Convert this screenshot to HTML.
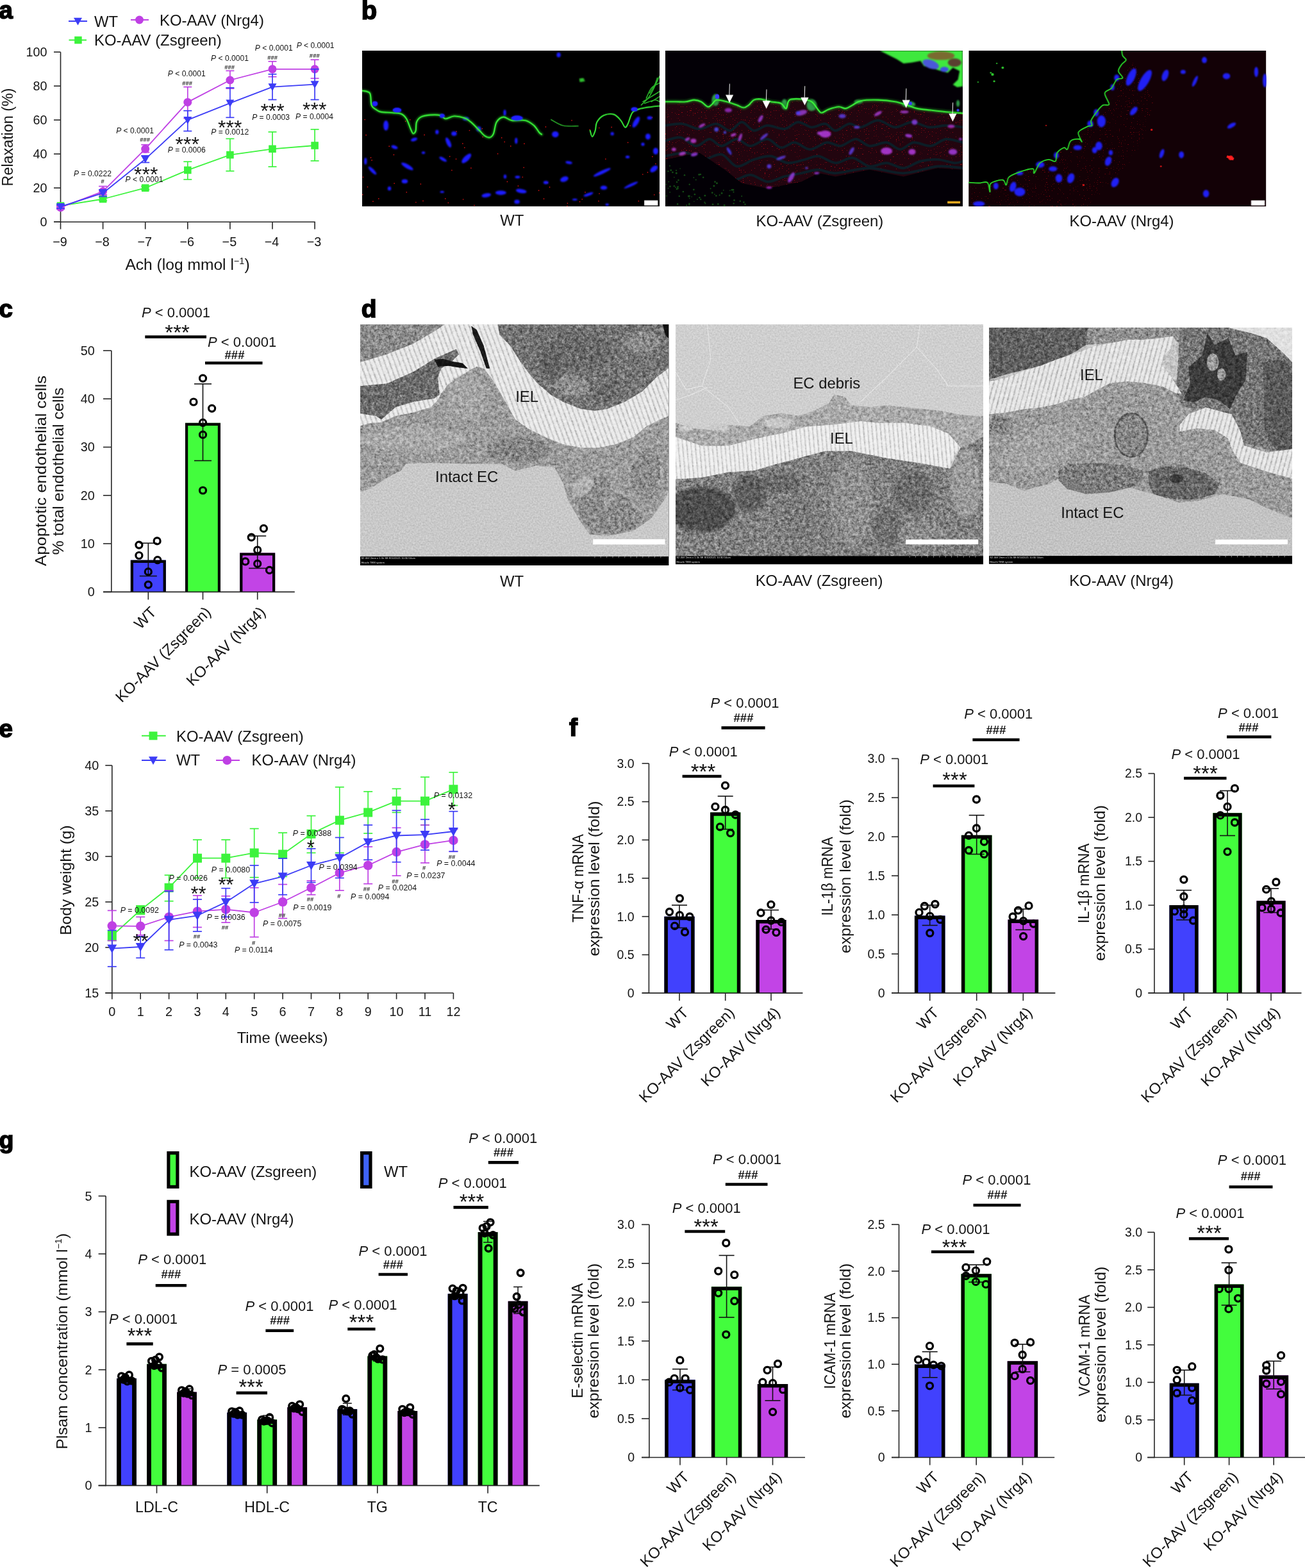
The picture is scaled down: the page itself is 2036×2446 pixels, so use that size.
<!DOCTYPE html>
<html><head><meta charset="utf-8"><title>Figure</title>
<style>
html,body{margin:0;padding:0;background:#fff;}
body{width:2036px;height:2446px;overflow:hidden;}
svg{display:block;}
text{font-family:"Liberation Sans",sans-serif;}
</style></head><body>
<svg width="2036" height="2446" viewBox="0 0 2036 2446">
<rect width="2036" height="2446" fill="#fff"/>
<text x="-1.5" y="29.4" font-size="38.5" font-weight="bold" fill="#000" stroke="#000" stroke-width="1.6">a</text>
<text x="563.8" y="29.5" font-size="40" font-weight="bold" fill="#000" stroke="#000" stroke-width="1.6">b</text>
<text x="-1.5" y="495" font-size="38.5" font-weight="bold" fill="#000" stroke="#000" stroke-width="1.6">c</text>
<text x="563.8" y="495" font-size="39" font-weight="bold" fill="#000" stroke="#000" stroke-width="1.6">d</text>
<text x="-1.5" y="1150" font-size="38.5" font-weight="bold" fill="#000" stroke="#000" stroke-width="1.6">e</text>
<text x="888" y="1148" font-size="39" font-weight="bold" fill="#000" stroke="#000" stroke-width="1.6">f</text>
<text x="-1.5" y="1791" font-size="37.5" font-weight="bold" fill="#000" stroke="#000" stroke-width="1.6">g</text>
<line x1="94.5" y1="81.2" x2="94.5" y2="347.1" stroke="#262626" stroke-width="1.6"/>
<line x1="84.0" y1="346.2" x2="491.8" y2="346.2" stroke="#262626" stroke-width="1.6"/>
<line x1="84.0" y1="346.2" x2="94.5" y2="346.2" stroke="#262626" stroke-width="1.6"/>
<text x="73.5" y="353.2" font-size="19.8" fill="#141414" text-anchor="end">0</text>
<line x1="84.0" y1="293.2" x2="94.5" y2="293.2" stroke="#262626" stroke-width="1.6"/>
<text x="73.5" y="300.2" font-size="19.8" fill="#141414" text-anchor="end">20</text>
<line x1="84.0" y1="240.2" x2="94.5" y2="240.2" stroke="#262626" stroke-width="1.6"/>
<text x="73.5" y="247.2" font-size="19.8" fill="#141414" text-anchor="end">40</text>
<line x1="84.0" y1="187.2" x2="94.5" y2="187.2" stroke="#262626" stroke-width="1.6"/>
<text x="73.5" y="194.2" font-size="19.8" fill="#141414" text-anchor="end">60</text>
<line x1="84.0" y1="134.2" x2="94.5" y2="134.2" stroke="#262626" stroke-width="1.6"/>
<text x="73.5" y="141.2" font-size="19.8" fill="#141414" text-anchor="end">80</text>
<line x1="84.0" y1="81.2" x2="94.5" y2="81.2" stroke="#262626" stroke-width="1.6"/>
<text x="73.5" y="88.2" font-size="19.8" fill="#141414" text-anchor="end">100</text>
<line x1="94.5" y1="346.2" x2="94.5" y2="357.5" stroke="#262626" stroke-width="1.6"/>
<text x="93.5" y="383.8" font-size="19.8" fill="#141414" text-anchor="middle">−9</text>
<line x1="160.6" y1="346.2" x2="160.6" y2="357.5" stroke="#262626" stroke-width="1.6"/>
<text x="159.6" y="383.8" font-size="19.8" fill="#141414" text-anchor="middle">−8</text>
<line x1="226.7" y1="346.2" x2="226.7" y2="357.5" stroke="#262626" stroke-width="1.6"/>
<text x="225.7" y="383.8" font-size="19.8" fill="#141414" text-anchor="middle">−7</text>
<line x1="292.8" y1="346.2" x2="292.8" y2="357.5" stroke="#262626" stroke-width="1.6"/>
<text x="291.8" y="383.8" font-size="19.8" fill="#141414" text-anchor="middle">−6</text>
<line x1="358.9" y1="346.2" x2="358.9" y2="357.5" stroke="#262626" stroke-width="1.6"/>
<text x="357.9" y="383.8" font-size="19.8" fill="#141414" text-anchor="middle">−5</text>
<line x1="425.0" y1="346.2" x2="425.0" y2="357.5" stroke="#262626" stroke-width="1.6"/>
<text x="424.0" y="383.8" font-size="19.8" fill="#141414" text-anchor="middle">−4</text>
<line x1="491.1" y1="346.2" x2="491.1" y2="357.5" stroke="#262626" stroke-width="1.6"/>
<text x="490.1" y="383.8" font-size="19.8" fill="#141414" text-anchor="middle">−3</text>
<text x="292.5" y="421.0" font-size="24.6" fill="#141414" text-anchor="middle">Ach (log mmol l<tspan font-size="14.5" dy="-9.5">−1</tspan><tspan dy="9.5">)</tspan></text>
<text x="19.5" y="214.0" font-size="23.3" fill="#141414" text-anchor="middle" transform="rotate(-90 19.5 214.0)">Relaxation (%)</text>
<polyline points="94.5,321.1 160.6,310.5 226.7,293.2 292.8,265.4 358.9,241.6 425.0,232.3 491.1,227.0" fill="none" stroke="#3cf33c" stroke-width="1.8" stroke-linejoin="round"/>
<line x1="94.5" y1="323.7" x2="94.5" y2="318.4" stroke="#3cf33c" stroke-width="1.7"/>
<line x1="88.0" y1="323.7" x2="101.0" y2="323.7" stroke="#3cf33c" stroke-width="1.7"/>
<line x1="88.0" y1="318.4" x2="101.0" y2="318.4" stroke="#3cf33c" stroke-width="1.7"/>
<line x1="160.6" y1="313.1" x2="160.6" y2="307.8" stroke="#3cf33c" stroke-width="1.7"/>
<line x1="154.1" y1="313.1" x2="167.1" y2="313.1" stroke="#3cf33c" stroke-width="1.7"/>
<line x1="154.1" y1="307.8" x2="167.1" y2="307.8" stroke="#3cf33c" stroke-width="1.7"/>
<line x1="226.7" y1="295.9" x2="226.7" y2="290.6" stroke="#3cf33c" stroke-width="1.7"/>
<line x1="220.2" y1="295.9" x2="233.2" y2="295.9" stroke="#3cf33c" stroke-width="1.7"/>
<line x1="220.2" y1="290.6" x2="233.2" y2="290.6" stroke="#3cf33c" stroke-width="1.7"/>
<line x1="292.8" y1="280.0" x2="292.8" y2="252.2" stroke="#3cf33c" stroke-width="1.7"/>
<line x1="286.3" y1="280.0" x2="299.3" y2="280.0" stroke="#3cf33c" stroke-width="1.7"/>
<line x1="286.3" y1="252.2" x2="299.3" y2="252.2" stroke="#3cf33c" stroke-width="1.7"/>
<line x1="358.9" y1="266.8" x2="358.9" y2="216.4" stroke="#3cf33c" stroke-width="1.7"/>
<line x1="352.4" y1="266.8" x2="365.4" y2="266.8" stroke="#3cf33c" stroke-width="1.7"/>
<line x1="352.4" y1="216.4" x2="365.4" y2="216.4" stroke="#3cf33c" stroke-width="1.7"/>
<line x1="425.0" y1="260.1" x2="425.0" y2="205.8" stroke="#3cf33c" stroke-width="1.7"/>
<line x1="418.5" y1="260.1" x2="431.5" y2="260.1" stroke="#3cf33c" stroke-width="1.7"/>
<line x1="418.5" y1="205.8" x2="431.5" y2="205.8" stroke="#3cf33c" stroke-width="1.7"/>
<line x1="491.1" y1="250.9" x2="491.1" y2="201.8" stroke="#3cf33c" stroke-width="1.7"/>
<line x1="484.6" y1="250.9" x2="497.6" y2="250.9" stroke="#3cf33c" stroke-width="1.7"/>
<line x1="484.6" y1="201.8" x2="497.6" y2="201.8" stroke="#3cf33c" stroke-width="1.7"/>
<rect x="88.7" y="315.3" width="11.6" height="11.6" fill="#3cf33c"/>
<rect x="154.8" y="304.7" width="11.6" height="11.6" fill="#3cf33c"/>
<rect x="220.9" y="287.4" width="11.6" height="11.6" fill="#3cf33c"/>
<rect x="287.0" y="259.6" width="11.6" height="11.6" fill="#3cf33c"/>
<rect x="353.1" y="235.8" width="11.6" height="11.6" fill="#3cf33c"/>
<rect x="419.2" y="226.5" width="11.6" height="11.6" fill="#3cf33c"/>
<rect x="485.3" y="221.2" width="11.6" height="11.6" fill="#3cf33c"/>
<polyline points="94.5,323.7 160.6,298.6 226.7,232.3 292.8,159.4 358.9,125.0 425.0,107.8 491.1,107.8" fill="none" stroke="#bf40e4" stroke-width="1.8" stroke-linejoin="round"/>
<line x1="94.5" y1="326.4" x2="94.5" y2="321.1" stroke="#bf40e4" stroke-width="1.7"/>
<line x1="88.0" y1="326.4" x2="101.0" y2="326.4" stroke="#bf40e4" stroke-width="1.7"/>
<line x1="88.0" y1="321.1" x2="101.0" y2="321.1" stroke="#bf40e4" stroke-width="1.7"/>
<line x1="160.6" y1="303.9" x2="160.6" y2="290.6" stroke="#bf40e4" stroke-width="1.7"/>
<line x1="154.1" y1="303.9" x2="167.1" y2="303.9" stroke="#bf40e4" stroke-width="1.7"/>
<line x1="154.1" y1="290.6" x2="167.1" y2="290.6" stroke="#bf40e4" stroke-width="1.7"/>
<line x1="226.7" y1="237.6" x2="226.7" y2="225.7" stroke="#bf40e4" stroke-width="1.7"/>
<line x1="220.2" y1="237.6" x2="233.2" y2="237.6" stroke="#bf40e4" stroke-width="1.7"/>
<line x1="220.2" y1="225.7" x2="233.2" y2="225.7" stroke="#bf40e4" stroke-width="1.7"/>
<line x1="292.8" y1="184.6" x2="292.8" y2="135.6" stroke="#bf40e4" stroke-width="1.7"/>
<line x1="286.3" y1="184.6" x2="299.3" y2="184.6" stroke="#bf40e4" stroke-width="1.7"/>
<line x1="286.3" y1="135.6" x2="299.3" y2="135.6" stroke="#bf40e4" stroke-width="1.7"/>
<line x1="358.9" y1="138.2" x2="358.9" y2="110.4" stroke="#bf40e4" stroke-width="1.7"/>
<line x1="352.4" y1="138.2" x2="365.4" y2="138.2" stroke="#bf40e4" stroke-width="1.7"/>
<line x1="352.4" y1="110.4" x2="365.4" y2="110.4" stroke="#bf40e4" stroke-width="1.7"/>
<line x1="425.0" y1="119.7" x2="425.0" y2="95.8" stroke="#bf40e4" stroke-width="1.7"/>
<line x1="418.5" y1="119.7" x2="431.5" y2="119.7" stroke="#bf40e4" stroke-width="1.7"/>
<line x1="418.5" y1="95.8" x2="431.5" y2="95.8" stroke="#bf40e4" stroke-width="1.7"/>
<line x1="491.1" y1="122.3" x2="491.1" y2="93.2" stroke="#bf40e4" stroke-width="1.7"/>
<line x1="484.6" y1="122.3" x2="497.6" y2="122.3" stroke="#bf40e4" stroke-width="1.7"/>
<line x1="484.6" y1="93.2" x2="497.6" y2="93.2" stroke="#bf40e4" stroke-width="1.7"/>
<circle cx="94.5" cy="323.7" r="6.5" fill="#bf40e4"/>
<circle cx="160.6" cy="298.6" r="6.5" fill="#bf40e4"/>
<circle cx="226.7" cy="232.3" r="6.5" fill="#bf40e4"/>
<circle cx="292.8" cy="159.4" r="6.5" fill="#bf40e4"/>
<circle cx="358.9" cy="125.0" r="6.5" fill="#bf40e4"/>
<circle cx="425.0" cy="107.8" r="6.5" fill="#bf40e4"/>
<circle cx="491.1" cy="107.8" r="6.5" fill="#bf40e4"/>
<polyline points="94.5,322.4 160.6,301.2 226.7,248.2 292.8,187.2 358.9,160.8 425.0,135.6 491.1,131.6" fill="none" stroke="#3c3cf6" stroke-width="1.8" stroke-linejoin="round"/>
<line x1="94.5" y1="325.1" x2="94.5" y2="319.8" stroke="#3c3cf6" stroke-width="1.7"/>
<line x1="88.0" y1="325.1" x2="101.0" y2="325.1" stroke="#3c3cf6" stroke-width="1.7"/>
<line x1="88.0" y1="319.8" x2="101.0" y2="319.8" stroke="#3c3cf6" stroke-width="1.7"/>
<line x1="160.6" y1="306.5" x2="160.6" y2="295.9" stroke="#3c3cf6" stroke-width="1.7"/>
<line x1="154.1" y1="306.5" x2="167.1" y2="306.5" stroke="#3c3cf6" stroke-width="1.7"/>
<line x1="154.1" y1="295.9" x2="167.1" y2="295.9" stroke="#3c3cf6" stroke-width="1.7"/>
<line x1="226.7" y1="253.5" x2="226.7" y2="242.9" stroke="#3c3cf6" stroke-width="1.7"/>
<line x1="220.2" y1="253.5" x2="233.2" y2="253.5" stroke="#3c3cf6" stroke-width="1.7"/>
<line x1="220.2" y1="242.9" x2="233.2" y2="242.9" stroke="#3c3cf6" stroke-width="1.7"/>
<line x1="292.8" y1="204.5" x2="292.8" y2="172.7" stroke="#3c3cf6" stroke-width="1.7"/>
<line x1="286.3" y1="204.5" x2="299.3" y2="204.5" stroke="#3c3cf6" stroke-width="1.7"/>
<line x1="286.3" y1="172.7" x2="299.3" y2="172.7" stroke="#3c3cf6" stroke-width="1.7"/>
<line x1="358.9" y1="183.3" x2="358.9" y2="136.9" stroke="#3c3cf6" stroke-width="1.7"/>
<line x1="352.4" y1="183.3" x2="365.4" y2="183.3" stroke="#3c3cf6" stroke-width="1.7"/>
<line x1="352.4" y1="136.9" x2="365.4" y2="136.9" stroke="#3c3cf6" stroke-width="1.7"/>
<line x1="425.0" y1="155.5" x2="425.0" y2="115.7" stroke="#3c3cf6" stroke-width="1.7"/>
<line x1="418.5" y1="155.5" x2="431.5" y2="155.5" stroke="#3c3cf6" stroke-width="1.7"/>
<line x1="418.5" y1="115.7" x2="431.5" y2="115.7" stroke="#3c3cf6" stroke-width="1.7"/>
<line x1="491.1" y1="155.5" x2="491.1" y2="107.8" stroke="#3c3cf6" stroke-width="1.7"/>
<line x1="484.6" y1="155.5" x2="497.6" y2="155.5" stroke="#3c3cf6" stroke-width="1.7"/>
<line x1="484.6" y1="107.8" x2="497.6" y2="107.8" stroke="#3c3cf6" stroke-width="1.7"/>
<path d="M88.0,317.1 L101.0,317.1 L94.5,328.8 Z" fill="#3c3cf6"/>
<path d="M154.1,295.9 L167.1,295.9 L160.6,307.6 Z" fill="#3c3cf6"/>
<path d="M220.2,242.9 L233.2,242.9 L226.7,254.6 Z" fill="#3c3cf6"/>
<path d="M286.3,182.0 L299.3,182.0 L292.8,193.7 Z" fill="#3c3cf6"/>
<path d="M352.4,155.5 L365.4,155.5 L358.9,167.2 Z" fill="#3c3cf6"/>
<path d="M418.5,130.3 L431.5,130.3 L425.0,142.0 Z" fill="#3c3cf6"/>
<path d="M484.6,126.3 L497.6,126.3 L491.1,138.0 Z" fill="#3c3cf6"/>
<line x1="107.0" y1="33.0" x2="136.0" y2="33.0" stroke="#3c3cf6" stroke-width="2"/>
<path d="M115.0,27.7 L128.0,27.7 L121.5,39.4 Z" fill="#3c3cf6"/>
<text x="147.0" y="42.0" font-size="23.9" fill="#141414">WT</text>
<line x1="204.0" y1="31.0" x2="232.0" y2="31.0" stroke="#bf40e4" stroke-width="2"/>
<circle cx="217.5" cy="31.0" r="6.5" fill="#bf40e4"/>
<text x="249.0" y="40.0" font-size="23.9" fill="#141414">KO-AAV (Nrg4)</text>
<line x1="107.5" y1="62.5" x2="135.0" y2="62.5" stroke="#3cf33c" stroke-width="2"/>
<rect x="116.2" y="56.8" width="11.5" height="11.5" fill="#3cf33c"/>
<text x="147.0" y="71.0" font-size="23.9" fill="#141414">KO-AAV (Zsgreen)</text>
<text x="144.5" y="274.9" font-size="12.1" fill="#141414" text-anchor="middle"><tspan font-style="italic">P</tspan> = 0.0222</text>
<text x="160.2" y="286.3" font-size="9.5" fill="#141414" text-anchor="middle" font-weight="bold">#</text>
<text x="210.6" y="207.6" font-size="12.1" fill="#141414" text-anchor="middle"><tspan font-style="italic">P</tspan> &lt; 0.0001</text>
<text x="226.2" y="220.8" font-size="9.5" fill="#141414" text-anchor="middle" font-weight="bold">###</text>
<text x="227.8" y="282.6" font-size="32" fill="#141414" text-anchor="middle">***</text>
<text x="225.0" y="284.2" font-size="12.1" fill="#141414" text-anchor="middle"><tspan font-style="italic">P</tspan> &lt; 0.0001</text>
<text x="291.2" y="119.2" font-size="12.1" fill="#141414" text-anchor="middle"><tspan font-style="italic">P</tspan> &lt; 0.0001</text>
<text x="292.2" y="132.8" font-size="9.5" fill="#141414" text-anchor="middle" font-weight="bold">###</text>
<text x="292.2" y="236.1" font-size="32" fill="#141414" text-anchor="middle">***</text>
<text x="291.2" y="237.7" font-size="12.1" fill="#141414" text-anchor="middle"><tspan font-style="italic">P</tspan> = 0.0006</text>
<text x="358.5" y="95.1" font-size="12.1" fill="#141414" text-anchor="middle"><tspan font-style="italic">P</tspan> &lt; 0.0001</text>
<text x="358.2" y="108.3" font-size="9.5" fill="#141414" text-anchor="middle" font-weight="bold">###</text>
<text x="358.8" y="209.8" font-size="32" fill="#141414" text-anchor="middle">***</text>
<text x="358.8" y="209.8" font-size="12.1" fill="#141414" text-anchor="middle"><tspan font-style="italic">P</tspan> = 0.0012</text>
<text x="427.3" y="79.1" font-size="12.1" fill="#141414" text-anchor="middle"><tspan font-style="italic">P</tspan> &lt; 0.0001</text>
<text x="425.1" y="92.8" font-size="9.5" fill="#141414" text-anchor="middle" font-weight="bold">###</text>
<text x="425.1" y="183.8" font-size="32" fill="#141414" text-anchor="middle">***</text>
<text x="422.6" y="187.4" font-size="12.1" fill="#141414" text-anchor="middle"><tspan font-style="italic">P</tspan> = 0.0003</text>
<text x="492.1" y="75.3" font-size="12.1" fill="#141414" text-anchor="middle"><tspan font-style="italic">P</tspan> &lt; 0.0001</text>
<text x="490.8" y="89.6" font-size="9.5" fill="#141414" text-anchor="middle" font-weight="bold">###</text>
<text x="490.8" y="181.6" font-size="32" fill="#141414" text-anchor="middle">***</text>
<text x="490.5" y="185.8" font-size="12.1" fill="#141414" text-anchor="middle"><tspan font-style="italic">P</tspan> = 0.0004</text>
<rect x="203.8" y="873.7" width="55.0" height="49.7" fill="#4141fd"/>
<path d="M205.90,923.4 V875.80 H256.70 V923.4" fill="none" stroke="#000" stroke-width="4.2"/>
<rect x="289.0" y="659.8" width="55.0" height="263.6" fill="#43fd3d"/>
<path d="M291.10,923.4 V661.95 H341.90 V923.4" fill="none" stroke="#000" stroke-width="4.2"/>
<rect x="374.2" y="862.4" width="55.0" height="61.0" fill="#c244e6"/>
<path d="M376.30,923.4 V864.51 H427.10 V923.4" fill="none" stroke="#000" stroke-width="4.2"/>
<line x1="173.8" y1="546.9" x2="173.8" y2="924.1" stroke="#262626" stroke-width="1.6"/>
<line x1="161.0" y1="923.4" x2="459.8" y2="923.4" stroke="#262626" stroke-width="1.6"/>
<line x1="161.0" y1="923.4" x2="173.8" y2="923.4" stroke="#262626" stroke-width="1.6"/>
<text x="147.7" y="930.3" font-size="19.8" fill="#141414" text-anchor="end">0</text>
<line x1="161.0" y1="848.1" x2="173.8" y2="848.1" stroke="#262626" stroke-width="1.6"/>
<text x="147.7" y="855.0" font-size="19.8" fill="#141414" text-anchor="end">10</text>
<line x1="161.0" y1="772.8" x2="173.8" y2="772.8" stroke="#262626" stroke-width="1.6"/>
<text x="147.7" y="779.7" font-size="19.8" fill="#141414" text-anchor="end">20</text>
<line x1="161.0" y1="697.5" x2="173.8" y2="697.5" stroke="#262626" stroke-width="1.6"/>
<text x="147.7" y="704.4" font-size="19.8" fill="#141414" text-anchor="end">30</text>
<line x1="161.0" y1="622.2" x2="173.8" y2="622.2" stroke="#262626" stroke-width="1.6"/>
<text x="147.7" y="629.1" font-size="19.8" fill="#141414" text-anchor="end">40</text>
<line x1="161.0" y1="546.9" x2="173.8" y2="546.9" stroke="#262626" stroke-width="1.6"/>
<text x="147.7" y="553.8" font-size="19.8" fill="#141414" text-anchor="end">50</text>
<line x1="231.3" y1="923.4" x2="231.3" y2="935.4" stroke="#262626" stroke-width="1.6"/>
<line x1="316.5" y1="923.4" x2="316.5" y2="935.4" stroke="#262626" stroke-width="1.6"/>
<line x1="401.7" y1="923.4" x2="401.7" y2="935.4" stroke="#262626" stroke-width="1.6"/>
<line x1="231.3" y1="898.6" x2="231.3" y2="847.3" stroke="#111" stroke-width="1.6"/>
<line x1="217.8" y1="847.3" x2="244.8" y2="847.3" stroke="#111" stroke-width="1.6"/>
<line x1="217.8" y1="898.6" x2="244.8" y2="898.6" stroke="#111" stroke-width="1.6"/>
<circle cx="216.9" cy="850.1" r="5.0" fill="none" stroke="#000" stroke-width="3.2"/>
<circle cx="245.1" cy="843.9" r="5.0" fill="none" stroke="#000" stroke-width="3.2"/>
<circle cx="216.9" cy="866.5" r="5.0" fill="none" stroke="#000" stroke-width="3.2"/>
<circle cx="245.8" cy="873.7" r="5.0" fill="none" stroke="#000" stroke-width="3.2"/>
<circle cx="231.3" cy="891.9" r="5.0" fill="none" stroke="#000" stroke-width="3.2"/>
<circle cx="231.3" cy="912.1" r="5.0" fill="none" stroke="#000" stroke-width="3.2"/>
<line x1="316.5" y1="718.6" x2="316.5" y2="598.9" stroke="#111" stroke-width="1.6"/>
<line x1="303.0" y1="598.9" x2="330.0" y2="598.9" stroke="#111" stroke-width="1.6"/>
<line x1="303.0" y1="718.6" x2="330.0" y2="718.6" stroke="#111" stroke-width="1.6"/>
<circle cx="316.5" cy="590.2" r="5.0" fill="none" stroke="#000" stroke-width="3.2"/>
<circle cx="302.0" cy="627.0" r="5.0" fill="none" stroke="#000" stroke-width="3.2"/>
<circle cx="330.6" cy="637.1" r="5.0" fill="none" stroke="#000" stroke-width="3.2"/>
<circle cx="316.5" cy="659.4" r="5.0" fill="none" stroke="#000" stroke-width="3.2"/>
<circle cx="316.5" cy="678.2" r="5.0" fill="none" stroke="#000" stroke-width="3.2"/>
<circle cx="316.5" cy="765.0" r="5.0" fill="none" stroke="#000" stroke-width="3.2"/>
<line x1="401.7" y1="886.5" x2="401.7" y2="836.1" stroke="#111" stroke-width="1.6"/>
<line x1="388.2" y1="836.1" x2="415.2" y2="836.1" stroke="#111" stroke-width="1.6"/>
<line x1="388.2" y1="886.5" x2="415.2" y2="886.5" stroke="#111" stroke-width="1.6"/>
<circle cx="411.4" cy="824.4" r="5.0" fill="none" stroke="#000" stroke-width="3.2"/>
<circle cx="392.2" cy="838.2" r="5.0" fill="none" stroke="#000" stroke-width="3.2"/>
<circle cx="401.7" cy="858.0" r="5.0" fill="none" stroke="#000" stroke-width="3.2"/>
<circle cx="382.8" cy="875.9" r="5.0" fill="none" stroke="#000" stroke-width="3.2"/>
<circle cx="401.7" cy="879.4" r="5.0" fill="none" stroke="#000" stroke-width="3.2"/>
<circle cx="420.5" cy="889.4" r="5.0" fill="none" stroke="#000" stroke-width="3.2"/>
<text x="245.3" y="956.4" font-size="23.9" fill="#141414" text-anchor="end" transform="rotate(-45 245.3 956.4)">WT</text>
<text x="330.5" y="956.4" font-size="23.9" fill="#141414" text-anchor="end" transform="rotate(-45 330.5 956.4)">KO-AAV (Zsgreen)</text>
<text x="415.7" y="956.4" font-size="23.9" fill="#141414" text-anchor="end" transform="rotate(-45 415.7 956.4)">KO-AAV (Nrg4)</text>
<line x1="226.3" y1="525.5" x2="322.0" y2="525.5" stroke="#000" stroke-width="4.6"/>
<text x="276.6" y="530.2" font-size="33" fill="#141414" text-anchor="middle">***</text>
<text x="274.5" y="495.0" font-size="22" fill="#141414" text-anchor="middle"><tspan font-style="italic">P</tspan> &lt; 0.0001</text>
<line x1="320.0" y1="566.3" x2="409.5" y2="566.3" stroke="#000" stroke-width="4.6"/>
<text x="366.0" y="560.2" font-size="18.5" fill="#141414" text-anchor="middle" font-weight="bold">###</text>
<text x="377.6" y="541.2" font-size="22" fill="#141414" text-anchor="middle"><tspan font-style="italic">P</tspan> &lt; 0.0001</text>
<text x="72.0" y="734.5" font-size="23.9" fill="#141414" text-anchor="middle" textLength="297" lengthAdjust="spacingAndGlyphs" transform="rotate(-90 72.0 734.5)">Apoptotic endothelial cells</text>
<text x="99.0" y="735.0" font-size="23.9" fill="#141414" text-anchor="middle" textLength="261" lengthAdjust="spacingAndGlyphs" transform="rotate(-90 99.0 735.0)">% total endothelial cells</text>
<line x1="174.8" y1="1194.0" x2="174.8" y2="1549.8" stroke="#262626" stroke-width="1.6"/>
<line x1="164.3" y1="1549.0" x2="707.4" y2="1549.0" stroke="#262626" stroke-width="1.6"/>
<line x1="164.3" y1="1549.0" x2="174.8" y2="1549.0" stroke="#262626" stroke-width="1.6"/>
<text x="154.3" y="1556.0" font-size="19.8" fill="#141414" text-anchor="end">15</text>
<line x1="164.3" y1="1478.0" x2="174.8" y2="1478.0" stroke="#262626" stroke-width="1.6"/>
<text x="154.3" y="1485.0" font-size="19.8" fill="#141414" text-anchor="end">20</text>
<line x1="164.3" y1="1407.0" x2="174.8" y2="1407.0" stroke="#262626" stroke-width="1.6"/>
<text x="154.3" y="1414.0" font-size="19.8" fill="#141414" text-anchor="end">25</text>
<line x1="164.3" y1="1336.0" x2="174.8" y2="1336.0" stroke="#262626" stroke-width="1.6"/>
<text x="154.3" y="1343.0" font-size="19.8" fill="#141414" text-anchor="end">30</text>
<line x1="164.3" y1="1265.0" x2="174.8" y2="1265.0" stroke="#262626" stroke-width="1.6"/>
<text x="154.3" y="1272.0" font-size="19.8" fill="#141414" text-anchor="end">35</text>
<line x1="164.3" y1="1194.0" x2="174.8" y2="1194.0" stroke="#262626" stroke-width="1.6"/>
<text x="154.3" y="1201.0" font-size="19.8" fill="#141414" text-anchor="end">40</text>
<line x1="174.8" y1="1549.0" x2="174.8" y2="1558.7" stroke="#262626" stroke-width="1.6"/>
<text x="174.8" y="1584.8" font-size="19.8" fill="#141414" text-anchor="middle">0</text>
<line x1="219.2" y1="1549.0" x2="219.2" y2="1558.7" stroke="#262626" stroke-width="1.6"/>
<text x="219.2" y="1584.8" font-size="19.8" fill="#141414" text-anchor="middle">1</text>
<line x1="263.6" y1="1549.0" x2="263.6" y2="1558.7" stroke="#262626" stroke-width="1.6"/>
<text x="263.6" y="1584.8" font-size="19.8" fill="#141414" text-anchor="middle">2</text>
<line x1="307.9" y1="1549.0" x2="307.9" y2="1558.7" stroke="#262626" stroke-width="1.6"/>
<text x="307.9" y="1584.8" font-size="19.8" fill="#141414" text-anchor="middle">3</text>
<line x1="352.3" y1="1549.0" x2="352.3" y2="1558.7" stroke="#262626" stroke-width="1.6"/>
<text x="352.3" y="1584.8" font-size="19.8" fill="#141414" text-anchor="middle">4</text>
<line x1="396.7" y1="1549.0" x2="396.7" y2="1558.7" stroke="#262626" stroke-width="1.6"/>
<text x="396.7" y="1584.8" font-size="19.8" fill="#141414" text-anchor="middle">5</text>
<line x1="441.1" y1="1549.0" x2="441.1" y2="1558.7" stroke="#262626" stroke-width="1.6"/>
<text x="441.1" y="1584.8" font-size="19.8" fill="#141414" text-anchor="middle">6</text>
<line x1="485.5" y1="1549.0" x2="485.5" y2="1558.7" stroke="#262626" stroke-width="1.6"/>
<text x="485.5" y="1584.8" font-size="19.8" fill="#141414" text-anchor="middle">7</text>
<line x1="529.8" y1="1549.0" x2="529.8" y2="1558.7" stroke="#262626" stroke-width="1.6"/>
<text x="529.8" y="1584.8" font-size="19.8" fill="#141414" text-anchor="middle">8</text>
<line x1="574.2" y1="1549.0" x2="574.2" y2="1558.7" stroke="#262626" stroke-width="1.6"/>
<text x="574.2" y="1584.8" font-size="19.8" fill="#141414" text-anchor="middle">9</text>
<line x1="618.6" y1="1549.0" x2="618.6" y2="1558.7" stroke="#262626" stroke-width="1.6"/>
<text x="618.6" y="1584.8" font-size="19.8" fill="#141414" text-anchor="middle">10</text>
<line x1="663.0" y1="1549.0" x2="663.0" y2="1558.7" stroke="#262626" stroke-width="1.6"/>
<text x="663.0" y="1584.8" font-size="19.8" fill="#141414" text-anchor="middle">11</text>
<line x1="707.4" y1="1549.0" x2="707.4" y2="1558.7" stroke="#262626" stroke-width="1.6"/>
<text x="707.4" y="1584.8" font-size="19.8" fill="#141414" text-anchor="middle">12</text>
<text x="440.6" y="1627.4" font-size="23.8" fill="#141414" text-anchor="middle">Time (weeks)</text>
<text x="110.5" y="1373.0" font-size="23.8" fill="#141414" text-anchor="middle" textLength="171.7" lengthAdjust="spacingAndGlyphs" transform="rotate(-90 110.5 1373.0)">Body weight (g)</text>
<polyline points="174.8,1460.0 219.2,1419.6 263.6,1384.8 307.9,1338.7 352.3,1338.7 396.7,1330.4 441.1,1332.6 485.5,1300.9 529.8,1279.6 574.2,1267.4 618.6,1249.6 663.0,1249.6 707.4,1231.3" fill="none" stroke="#3cf33c" stroke-width="1.8" stroke-linejoin="round"/>
<line x1="174.8" y1="1452.2" x2="174.8" y2="1467.4" stroke="#3cf33c" stroke-width="1.7"/>
<line x1="167.8" y1="1452.2" x2="181.8" y2="1452.2" stroke="#3cf33c" stroke-width="1.7"/>
<line x1="167.8" y1="1467.4" x2="181.8" y2="1467.4" stroke="#3cf33c" stroke-width="1.7"/>
<line x1="219.2" y1="1413.0" x2="219.2" y2="1426.1" stroke="#3cf33c" stroke-width="1.7"/>
<line x1="212.2" y1="1413.0" x2="226.2" y2="1413.0" stroke="#3cf33c" stroke-width="1.7"/>
<line x1="212.2" y1="1426.1" x2="226.2" y2="1426.1" stroke="#3cf33c" stroke-width="1.7"/>
<line x1="263.6" y1="1365.2" x2="263.6" y2="1405.7" stroke="#3cf33c" stroke-width="1.7"/>
<line x1="256.6" y1="1365.2" x2="270.6" y2="1365.2" stroke="#3cf33c" stroke-width="1.7"/>
<line x1="256.6" y1="1405.7" x2="270.6" y2="1405.7" stroke="#3cf33c" stroke-width="1.7"/>
<line x1="307.9" y1="1310.0" x2="307.9" y2="1369.6" stroke="#3cf33c" stroke-width="1.7"/>
<line x1="300.9" y1="1310.0" x2="314.9" y2="1310.0" stroke="#3cf33c" stroke-width="1.7"/>
<line x1="300.9" y1="1369.6" x2="314.9" y2="1369.6" stroke="#3cf33c" stroke-width="1.7"/>
<line x1="352.3" y1="1310.0" x2="352.3" y2="1369.6" stroke="#3cf33c" stroke-width="1.7"/>
<line x1="345.3" y1="1310.0" x2="359.3" y2="1310.0" stroke="#3cf33c" stroke-width="1.7"/>
<line x1="345.3" y1="1369.6" x2="359.3" y2="1369.6" stroke="#3cf33c" stroke-width="1.7"/>
<line x1="396.7" y1="1292.6" x2="396.7" y2="1368.7" stroke="#3cf33c" stroke-width="1.7"/>
<line x1="389.7" y1="1292.6" x2="403.7" y2="1292.6" stroke="#3cf33c" stroke-width="1.7"/>
<line x1="389.7" y1="1368.7" x2="403.7" y2="1368.7" stroke="#3cf33c" stroke-width="1.7"/>
<line x1="441.1" y1="1299.1" x2="441.1" y2="1367.4" stroke="#3cf33c" stroke-width="1.7"/>
<line x1="434.1" y1="1299.1" x2="448.1" y2="1299.1" stroke="#3cf33c" stroke-width="1.7"/>
<line x1="434.1" y1="1367.4" x2="448.1" y2="1367.4" stroke="#3cf33c" stroke-width="1.7"/>
<line x1="485.5" y1="1272.6" x2="485.5" y2="1330.4" stroke="#3cf33c" stroke-width="1.7"/>
<line x1="478.5" y1="1272.6" x2="492.5" y2="1272.6" stroke="#3cf33c" stroke-width="1.7"/>
<line x1="478.5" y1="1330.4" x2="492.5" y2="1330.4" stroke="#3cf33c" stroke-width="1.7"/>
<line x1="529.8" y1="1227.8" x2="529.8" y2="1330.4" stroke="#3cf33c" stroke-width="1.7"/>
<line x1="522.8" y1="1227.8" x2="536.8" y2="1227.8" stroke="#3cf33c" stroke-width="1.7"/>
<line x1="522.8" y1="1330.4" x2="536.8" y2="1330.4" stroke="#3cf33c" stroke-width="1.7"/>
<line x1="574.2" y1="1234.8" x2="574.2" y2="1300.0" stroke="#3cf33c" stroke-width="1.7"/>
<line x1="567.2" y1="1234.8" x2="581.2" y2="1234.8" stroke="#3cf33c" stroke-width="1.7"/>
<line x1="567.2" y1="1300.0" x2="581.2" y2="1300.0" stroke="#3cf33c" stroke-width="1.7"/>
<line x1="618.6" y1="1230.4" x2="618.6" y2="1267.4" stroke="#3cf33c" stroke-width="1.7"/>
<line x1="611.6" y1="1230.4" x2="625.6" y2="1230.4" stroke="#3cf33c" stroke-width="1.7"/>
<line x1="611.6" y1="1267.4" x2="625.6" y2="1267.4" stroke="#3cf33c" stroke-width="1.7"/>
<line x1="663.0" y1="1212.2" x2="663.0" y2="1287.0" stroke="#3cf33c" stroke-width="1.7"/>
<line x1="656.0" y1="1212.2" x2="670.0" y2="1212.2" stroke="#3cf33c" stroke-width="1.7"/>
<line x1="656.0" y1="1287.0" x2="670.0" y2="1287.0" stroke="#3cf33c" stroke-width="1.7"/>
<line x1="707.4" y1="1204.8" x2="707.4" y2="1256.5" stroke="#3cf33c" stroke-width="1.7"/>
<line x1="700.4" y1="1204.8" x2="714.4" y2="1204.8" stroke="#3cf33c" stroke-width="1.7"/>
<line x1="700.4" y1="1256.5" x2="714.4" y2="1256.5" stroke="#3cf33c" stroke-width="1.7"/>
<rect x="167.8" y="1453.0" width="14.0" height="14.0" fill="#3cf33c"/>
<rect x="212.2" y="1412.6" width="14.0" height="14.0" fill="#3cf33c"/>
<rect x="256.6" y="1377.8" width="14.0" height="14.0" fill="#3cf33c"/>
<rect x="301.0" y="1331.7" width="14.0" height="14.0" fill="#3cf33c"/>
<rect x="345.3" y="1331.7" width="14.0" height="14.0" fill="#3cf33c"/>
<rect x="389.7" y="1323.5" width="14.0" height="14.0" fill="#3cf33c"/>
<rect x="434.1" y="1325.6" width="14.0" height="14.0" fill="#3cf33c"/>
<rect x="478.5" y="1293.9" width="14.0" height="14.0" fill="#3cf33c"/>
<rect x="522.9" y="1272.6" width="14.0" height="14.0" fill="#3cf33c"/>
<rect x="567.2" y="1260.4" width="14.0" height="14.0" fill="#3cf33c"/>
<rect x="611.6" y="1242.6" width="14.0" height="14.0" fill="#3cf33c"/>
<rect x="656.0" y="1242.6" width="14.0" height="14.0" fill="#3cf33c"/>
<rect x="700.4" y="1224.3" width="14.0" height="14.0" fill="#3cf33c"/>
<polyline points="174.8,1444.3 219.2,1444.8 263.6,1430.4 307.9,1421.7 352.3,1418.7 396.7,1423.5 441.1,1407.0 485.5,1384.8 529.8,1361.7 574.2,1350.0 618.6,1329.1 663.0,1317.4 707.4,1310.9" fill="none" stroke="#bf40e4" stroke-width="1.8" stroke-linejoin="round"/>
<line x1="174.8" y1="1420.4" x2="174.8" y2="1467.4" stroke="#bf40e4" stroke-width="1.7"/>
<line x1="167.8" y1="1420.4" x2="181.8" y2="1420.4" stroke="#bf40e4" stroke-width="1.7"/>
<line x1="167.8" y1="1467.4" x2="181.8" y2="1467.4" stroke="#bf40e4" stroke-width="1.7"/>
<line x1="219.2" y1="1430.4" x2="219.2" y2="1458.7" stroke="#bf40e4" stroke-width="1.7"/>
<line x1="212.2" y1="1430.4" x2="226.2" y2="1430.4" stroke="#bf40e4" stroke-width="1.7"/>
<line x1="212.2" y1="1458.7" x2="226.2" y2="1458.7" stroke="#bf40e4" stroke-width="1.7"/>
<line x1="263.6" y1="1389.1" x2="263.6" y2="1467.4" stroke="#bf40e4" stroke-width="1.7"/>
<line x1="256.6" y1="1389.1" x2="270.6" y2="1389.1" stroke="#bf40e4" stroke-width="1.7"/>
<line x1="256.6" y1="1467.4" x2="270.6" y2="1467.4" stroke="#bf40e4" stroke-width="1.7"/>
<line x1="307.9" y1="1397.0" x2="307.9" y2="1446.5" stroke="#bf40e4" stroke-width="1.7"/>
<line x1="300.9" y1="1397.0" x2="314.9" y2="1397.0" stroke="#bf40e4" stroke-width="1.7"/>
<line x1="300.9" y1="1446.5" x2="314.9" y2="1446.5" stroke="#bf40e4" stroke-width="1.7"/>
<line x1="352.3" y1="1397.8" x2="352.3" y2="1439.1" stroke="#bf40e4" stroke-width="1.7"/>
<line x1="345.3" y1="1397.8" x2="359.3" y2="1397.8" stroke="#bf40e4" stroke-width="1.7"/>
<line x1="345.3" y1="1439.1" x2="359.3" y2="1439.1" stroke="#bf40e4" stroke-width="1.7"/>
<line x1="396.7" y1="1384.8" x2="396.7" y2="1461.7" stroke="#bf40e4" stroke-width="1.7"/>
<line x1="389.7" y1="1384.8" x2="403.7" y2="1384.8" stroke="#bf40e4" stroke-width="1.7"/>
<line x1="389.7" y1="1461.7" x2="403.7" y2="1461.7" stroke="#bf40e4" stroke-width="1.7"/>
<line x1="441.1" y1="1379.6" x2="441.1" y2="1432.6" stroke="#bf40e4" stroke-width="1.7"/>
<line x1="434.1" y1="1379.6" x2="448.1" y2="1379.6" stroke="#bf40e4" stroke-width="1.7"/>
<line x1="434.1" y1="1432.6" x2="448.1" y2="1432.6" stroke="#bf40e4" stroke-width="1.7"/>
<line x1="485.5" y1="1373.9" x2="485.5" y2="1395.7" stroke="#bf40e4" stroke-width="1.7"/>
<line x1="478.5" y1="1373.9" x2="492.5" y2="1373.9" stroke="#bf40e4" stroke-width="1.7"/>
<line x1="478.5" y1="1395.7" x2="492.5" y2="1395.7" stroke="#bf40e4" stroke-width="1.7"/>
<line x1="529.8" y1="1334.8" x2="529.8" y2="1389.1" stroke="#bf40e4" stroke-width="1.7"/>
<line x1="522.8" y1="1334.8" x2="536.8" y2="1334.8" stroke="#bf40e4" stroke-width="1.7"/>
<line x1="522.8" y1="1389.1" x2="536.8" y2="1389.1" stroke="#bf40e4" stroke-width="1.7"/>
<line x1="574.2" y1="1320.9" x2="574.2" y2="1378.7" stroke="#bf40e4" stroke-width="1.7"/>
<line x1="567.2" y1="1320.9" x2="581.2" y2="1320.9" stroke="#bf40e4" stroke-width="1.7"/>
<line x1="567.2" y1="1378.7" x2="581.2" y2="1378.7" stroke="#bf40e4" stroke-width="1.7"/>
<line x1="618.6" y1="1291.3" x2="618.6" y2="1366.1" stroke="#bf40e4" stroke-width="1.7"/>
<line x1="611.6" y1="1291.3" x2="625.6" y2="1291.3" stroke="#bf40e4" stroke-width="1.7"/>
<line x1="611.6" y1="1366.1" x2="625.6" y2="1366.1" stroke="#bf40e4" stroke-width="1.7"/>
<line x1="663.0" y1="1287.0" x2="663.0" y2="1346.1" stroke="#bf40e4" stroke-width="1.7"/>
<line x1="656.0" y1="1287.0" x2="670.0" y2="1287.0" stroke="#bf40e4" stroke-width="1.7"/>
<line x1="656.0" y1="1346.1" x2="670.0" y2="1346.1" stroke="#bf40e4" stroke-width="1.7"/>
<line x1="707.4" y1="1293.5" x2="707.4" y2="1328.3" stroke="#bf40e4" stroke-width="1.7"/>
<line x1="700.4" y1="1293.5" x2="714.4" y2="1293.5" stroke="#bf40e4" stroke-width="1.7"/>
<line x1="700.4" y1="1328.3" x2="714.4" y2="1328.3" stroke="#bf40e4" stroke-width="1.7"/>
<circle cx="174.8" cy="1444.3" r="7.25" fill="#bf40e4"/>
<circle cx="219.2" cy="1444.8" r="7.25" fill="#bf40e4"/>
<circle cx="263.6" cy="1430.4" r="7.25" fill="#bf40e4"/>
<circle cx="307.9" cy="1421.7" r="7.25" fill="#bf40e4"/>
<circle cx="352.3" cy="1418.7" r="7.25" fill="#bf40e4"/>
<circle cx="396.7" cy="1423.5" r="7.25" fill="#bf40e4"/>
<circle cx="441.1" cy="1407.0" r="7.25" fill="#bf40e4"/>
<circle cx="485.5" cy="1384.8" r="7.25" fill="#bf40e4"/>
<circle cx="529.8" cy="1361.7" r="7.25" fill="#bf40e4"/>
<circle cx="574.2" cy="1350.0" r="7.25" fill="#bf40e4"/>
<circle cx="618.6" cy="1329.1" r="7.25" fill="#bf40e4"/>
<circle cx="663.0" cy="1317.4" r="7.25" fill="#bf40e4"/>
<circle cx="707.4" cy="1310.9" r="7.25" fill="#bf40e4"/>
<polyline points="174.8,1479.6 219.2,1477.0 263.6,1434.8 307.9,1428.3 352.3,1407.4 396.7,1378.3 441.1,1367.4 485.5,1350.0 529.8,1338.3 574.2,1313.9 618.6,1303.5 663.0,1302.2 707.4,1297.0" fill="none" stroke="#3c3cf6" stroke-width="1.8" stroke-linejoin="round"/>
<line x1="174.8" y1="1451.3" x2="174.8" y2="1507.8" stroke="#3c3cf6" stroke-width="1.7"/>
<line x1="167.8" y1="1451.3" x2="181.8" y2="1451.3" stroke="#3c3cf6" stroke-width="1.7"/>
<line x1="167.8" y1="1507.8" x2="181.8" y2="1507.8" stroke="#3c3cf6" stroke-width="1.7"/>
<line x1="219.2" y1="1460.9" x2="219.2" y2="1494.3" stroke="#3c3cf6" stroke-width="1.7"/>
<line x1="212.2" y1="1460.9" x2="226.2" y2="1460.9" stroke="#3c3cf6" stroke-width="1.7"/>
<line x1="212.2" y1="1494.3" x2="226.2" y2="1494.3" stroke="#3c3cf6" stroke-width="1.7"/>
<line x1="263.6" y1="1390.4" x2="263.6" y2="1481.7" stroke="#3c3cf6" stroke-width="1.7"/>
<line x1="256.6" y1="1390.4" x2="270.6" y2="1390.4" stroke="#3c3cf6" stroke-width="1.7"/>
<line x1="256.6" y1="1481.7" x2="270.6" y2="1481.7" stroke="#3c3cf6" stroke-width="1.7"/>
<line x1="307.9" y1="1403.0" x2="307.9" y2="1453.0" stroke="#3c3cf6" stroke-width="1.7"/>
<line x1="300.9" y1="1403.0" x2="314.9" y2="1403.0" stroke="#3c3cf6" stroke-width="1.7"/>
<line x1="300.9" y1="1453.0" x2="314.9" y2="1453.0" stroke="#3c3cf6" stroke-width="1.7"/>
<line x1="352.3" y1="1385.7" x2="352.3" y2="1430.4" stroke="#3c3cf6" stroke-width="1.7"/>
<line x1="345.3" y1="1385.7" x2="359.3" y2="1385.7" stroke="#3c3cf6" stroke-width="1.7"/>
<line x1="345.3" y1="1430.4" x2="359.3" y2="1430.4" stroke="#3c3cf6" stroke-width="1.7"/>
<line x1="396.7" y1="1350.0" x2="396.7" y2="1407.8" stroke="#3c3cf6" stroke-width="1.7"/>
<line x1="389.7" y1="1350.0" x2="403.7" y2="1350.0" stroke="#3c3cf6" stroke-width="1.7"/>
<line x1="389.7" y1="1407.8" x2="403.7" y2="1407.8" stroke="#3c3cf6" stroke-width="1.7"/>
<line x1="441.1" y1="1339.1" x2="441.1" y2="1395.7" stroke="#3c3cf6" stroke-width="1.7"/>
<line x1="434.1" y1="1339.1" x2="448.1" y2="1339.1" stroke="#3c3cf6" stroke-width="1.7"/>
<line x1="434.1" y1="1395.7" x2="448.1" y2="1395.7" stroke="#3c3cf6" stroke-width="1.7"/>
<line x1="485.5" y1="1323.9" x2="485.5" y2="1376.5" stroke="#3c3cf6" stroke-width="1.7"/>
<line x1="478.5" y1="1323.9" x2="492.5" y2="1323.9" stroke="#3c3cf6" stroke-width="1.7"/>
<line x1="478.5" y1="1376.5" x2="492.5" y2="1376.5" stroke="#3c3cf6" stroke-width="1.7"/>
<line x1="529.8" y1="1306.5" x2="529.8" y2="1369.6" stroke="#3c3cf6" stroke-width="1.7"/>
<line x1="522.8" y1="1306.5" x2="536.8" y2="1306.5" stroke="#3c3cf6" stroke-width="1.7"/>
<line x1="522.8" y1="1369.6" x2="536.8" y2="1369.6" stroke="#3c3cf6" stroke-width="1.7"/>
<line x1="574.2" y1="1287.0" x2="574.2" y2="1341.3" stroke="#3c3cf6" stroke-width="1.7"/>
<line x1="567.2" y1="1287.0" x2="581.2" y2="1287.0" stroke="#3c3cf6" stroke-width="1.7"/>
<line x1="567.2" y1="1341.3" x2="581.2" y2="1341.3" stroke="#3c3cf6" stroke-width="1.7"/>
<line x1="618.6" y1="1264.3" x2="618.6" y2="1344.8" stroke="#3c3cf6" stroke-width="1.7"/>
<line x1="611.6" y1="1264.3" x2="625.6" y2="1264.3" stroke="#3c3cf6" stroke-width="1.7"/>
<line x1="611.6" y1="1344.8" x2="625.6" y2="1344.8" stroke="#3c3cf6" stroke-width="1.7"/>
<line x1="663.0" y1="1278.3" x2="663.0" y2="1326.1" stroke="#3c3cf6" stroke-width="1.7"/>
<line x1="656.0" y1="1278.3" x2="670.0" y2="1278.3" stroke="#3c3cf6" stroke-width="1.7"/>
<line x1="656.0" y1="1326.1" x2="670.0" y2="1326.1" stroke="#3c3cf6" stroke-width="1.7"/>
<line x1="707.4" y1="1265.7" x2="707.4" y2="1328.3" stroke="#3c3cf6" stroke-width="1.7"/>
<line x1="700.4" y1="1265.7" x2="714.4" y2="1265.7" stroke="#3c3cf6" stroke-width="1.7"/>
<line x1="700.4" y1="1328.3" x2="714.4" y2="1328.3" stroke="#3c3cf6" stroke-width="1.7"/>
<path d="M167.3,1473.5 L182.3,1473.5 L174.8,1487.0 Z" fill="#3c3cf6"/>
<path d="M211.7,1470.9 L226.7,1470.9 L219.2,1484.4 Z" fill="#3c3cf6"/>
<path d="M256.1,1428.7 L271.1,1428.7 L263.6,1442.2 Z" fill="#3c3cf6"/>
<path d="M300.4,1422.2 L315.4,1422.2 L307.9,1435.7 Z" fill="#3c3cf6"/>
<path d="M344.8,1401.3 L359.8,1401.3 L352.3,1414.8 Z" fill="#3c3cf6"/>
<path d="M389.2,1372.2 L404.2,1372.2 L396.7,1385.7 Z" fill="#3c3cf6"/>
<path d="M433.6,1361.3 L448.6,1361.3 L441.1,1374.8 Z" fill="#3c3cf6"/>
<path d="M478.0,1343.9 L493.0,1343.9 L485.5,1357.4 Z" fill="#3c3cf6"/>
<path d="M522.3,1332.2 L537.3,1332.2 L529.8,1345.7 Z" fill="#3c3cf6"/>
<path d="M566.7,1307.8 L581.7,1307.8 L574.2,1321.3 Z" fill="#3c3cf6"/>
<path d="M611.1,1297.4 L626.1,1297.4 L618.6,1310.9 Z" fill="#3c3cf6"/>
<path d="M655.5,1296.1 L670.5,1296.1 L663.0,1309.6 Z" fill="#3c3cf6"/>
<path d="M699.9,1290.9 L714.9,1290.9 L707.4,1304.4 Z" fill="#3c3cf6"/>
<line x1="221.0" y1="1147.8" x2="258.7" y2="1147.8" stroke="#3cf33c" stroke-width="2"/>
<rect x="232.5" y="1141.3" width="13.0" height="13.0" fill="#3cf33c"/>
<text x="275.0" y="1156.5" font-size="23.9" fill="#141414">KO-AAV (Zsgreen)</text>
<line x1="221.0" y1="1186.0" x2="258.7" y2="1186.0" stroke="#3c3cf6" stroke-width="2"/>
<path d="M232.0,1180.3 L246.0,1180.3 L239.0,1192.9 Z" fill="#3c3cf6"/>
<text x="275.0" y="1194.3" font-size="23.9" fill="#141414">WT</text>
<line x1="337.0" y1="1186.0" x2="374.0" y2="1186.0" stroke="#bf40e4" stroke-width="2"/>
<circle cx="354.3" cy="1186.0" r="7" fill="#bf40e4"/>
<text x="392.6" y="1194.3" font-size="23.9" fill="#141414">KO-AAV (Nrg4)</text>
<text x="217.8" y="1424.0" font-size="12.4" fill="#141414" text-anchor="middle"><tspan font-style="italic">P</tspan> = 0.0092</text>
<text x="219.5" y="1479.1" font-size="31" fill="#141414" text-anchor="middle">**</text>
<text x="293.7" y="1374.0" font-size="12.4" fill="#141414" text-anchor="middle"><tspan font-style="italic">P</tspan> = 0.0026</text>
<text x="309.5" y="1405.1" font-size="31" fill="#141414" text-anchor="middle">**</text>
<text x="307.0" y="1464.3" font-size="9.5" fill="#141414" text-anchor="middle" font-weight="bold">##</text>
<text x="309.3" y="1478.0" font-size="12.4" fill="#141414" text-anchor="middle"><tspan font-style="italic">P</tspan> = 0.0043</text>
<text x="360.0" y="1361.0" font-size="12.4" fill="#141414" text-anchor="middle"><tspan font-style="italic">P</tspan> = 0.0080</text>
<text x="352.5" y="1390.9" font-size="31" fill="#141414" text-anchor="middle">**</text>
<text x="352.6" y="1434.8" font-size="12.4" fill="#141414" text-anchor="middle"><tspan font-style="italic">P</tspan> = 0.0036</text>
<text x="351.0" y="1449.8" font-size="9.5" fill="#141414" text-anchor="middle" font-weight="bold">##</text>
<text x="395.6" y="1473.7" font-size="9.5" fill="#141414" text-anchor="middle" font-weight="bold">#</text>
<text x="395.6" y="1486.0" font-size="12.4" fill="#141414" text-anchor="middle"><tspan font-style="italic">P</tspan> = 0.0114</text>
<text x="440.0" y="1431.3" font-size="9.5" fill="#141414" text-anchor="middle" font-weight="bold">##</text>
<text x="440.2" y="1444.8" font-size="12.4" fill="#141414" text-anchor="middle"><tspan font-style="italic">P</tspan> = 0.0075</text>
<text x="487.0" y="1304.0" font-size="12.4" fill="#141414" text-anchor="middle"><tspan font-style="italic">P</tspan> = 0.0388</text>
<text x="484.8" y="1333.1" font-size="31" fill="#141414" text-anchor="middle">*</text>
<text x="484.0" y="1406.3" font-size="9.5" fill="#141414" text-anchor="middle" font-weight="bold">##</text>
<text x="487.3" y="1419.6" font-size="12.4" fill="#141414" text-anchor="middle"><tspan font-style="italic">P</tspan> = 0.0019</text>
<text x="527.6" y="1356.5" font-size="12.4" fill="#141414" text-anchor="middle"><tspan font-style="italic">P</tspan> = 0.0394</text>
<text x="529.0" y="1401.1" font-size="9.5" fill="#141414" text-anchor="middle" font-weight="bold">#</text>
<text x="572.0" y="1390.3" font-size="9.5" fill="#141414" text-anchor="middle" font-weight="bold">##</text>
<text x="577.2" y="1403.0" font-size="12.4" fill="#141414" text-anchor="middle"><tspan font-style="italic">P</tspan> = 0.0094</text>
<text x="616.5" y="1378.1" font-size="9.5" fill="#141414" text-anchor="middle" font-weight="bold">##</text>
<text x="620.0" y="1389.0" font-size="12.4" fill="#141414" text-anchor="middle"><tspan font-style="italic">P</tspan> = 0.0204</text>
<text x="661.7" y="1356.8" font-size="9.5" fill="#141414" text-anchor="middle" font-weight="bold">#</text>
<text x="664.3" y="1369.6" font-size="12.4" fill="#141414" text-anchor="middle"><tspan font-style="italic">P</tspan> = 0.0237</text>
<text x="706.9" y="1244.8" font-size="12.4" fill="#141414" text-anchor="middle"><tspan font-style="italic">P</tspan> = 0.0132</text>
<text x="705.0" y="1273.5" font-size="31" fill="#141414" text-anchor="middle">*</text>
<text x="705.0" y="1340.3" font-size="9.5" fill="#141414" text-anchor="middle" font-weight="bold">##</text>
<text x="711.3" y="1351.3" font-size="12.4" fill="#141414" text-anchor="middle"><tspan font-style="italic">P</tspan> = 0.0044</text>
<rect x="1036.4" y="1429.7" width="47.2" height="119.4" fill="#4141fd"/>
<path d="M1039.15,1549.1 V1432.45 H1080.85 V1549.1" fill="none" stroke="#000" stroke-width="5.5"/>
<rect x="1108.1" y="1267.3" width="47.2" height="281.8" fill="#43fd3d"/>
<path d="M1110.85,1549.1 V1270.07 H1152.55 V1549.1" fill="none" stroke="#000" stroke-width="5.5"/>
<rect x="1179.4" y="1435.1" width="47.2" height="114.0" fill="#c244e6"/>
<path d="M1182.15,1549.1 V1437.82 H1223.85 V1549.1" fill="none" stroke="#000" stroke-width="5.5"/>
<line x1="1012.4" y1="1190.9" x2="1012.4" y2="1549.8" stroke="#262626" stroke-width="1.6"/>
<line x1="1001.6" y1="1549.1" x2="1252.4" y2="1549.1" stroke="#262626" stroke-width="1.6"/>
<line x1="1001.6" y1="1549.1" x2="1012.4" y2="1549.1" stroke="#262626" stroke-width="1.6"/>
<text x="989.6" y="1555.9" font-size="19.5" fill="#141414" text-anchor="end">0</text>
<line x1="1001.6" y1="1489.4" x2="1012.4" y2="1489.4" stroke="#262626" stroke-width="1.6"/>
<text x="989.6" y="1496.2" font-size="19.5" fill="#141414" text-anchor="end">0.5</text>
<line x1="1001.6" y1="1429.7" x2="1012.4" y2="1429.7" stroke="#262626" stroke-width="1.6"/>
<text x="989.6" y="1436.5" font-size="19.5" fill="#141414" text-anchor="end">1.0</text>
<line x1="1001.6" y1="1370.0" x2="1012.4" y2="1370.0" stroke="#262626" stroke-width="1.6"/>
<text x="989.6" y="1376.8" font-size="19.5" fill="#141414" text-anchor="end">1.5</text>
<line x1="1001.6" y1="1310.3" x2="1012.4" y2="1310.3" stroke="#262626" stroke-width="1.6"/>
<text x="989.6" y="1317.1" font-size="19.5" fill="#141414" text-anchor="end">2.0</text>
<line x1="1001.6" y1="1250.6" x2="1012.4" y2="1250.6" stroke="#262626" stroke-width="1.6"/>
<text x="989.6" y="1257.4" font-size="19.5" fill="#141414" text-anchor="end">2.5</text>
<line x1="1001.6" y1="1190.9" x2="1012.4" y2="1190.9" stroke="#262626" stroke-width="1.6"/>
<text x="989.6" y="1197.7" font-size="19.5" fill="#141414" text-anchor="end">3.0</text>
<line x1="1060.0" y1="1549.1" x2="1060.0" y2="1561.1" stroke="#262626" stroke-width="1.6"/>
<line x1="1131.7" y1="1549.1" x2="1131.7" y2="1561.1" stroke="#262626" stroke-width="1.6"/>
<line x1="1203.0" y1="1549.1" x2="1203.0" y2="1561.1" stroke="#262626" stroke-width="1.6"/>
<line x1="1060.0" y1="1447.4" x2="1060.0" y2="1412.0" stroke="#111" stroke-width="1.6"/>
<line x1="1048.0" y1="1412.0" x2="1072.0" y2="1412.0" stroke="#111" stroke-width="1.6"/>
<line x1="1048.0" y1="1447.4" x2="1072.0" y2="1447.4" stroke="#111" stroke-width="1.6"/>
<circle cx="1060.4" cy="1401.5" r="5.0" fill="none" stroke="#000" stroke-width="3.3"/>
<circle cx="1044.5" cy="1422.5" r="5.0" fill="none" stroke="#000" stroke-width="3.3"/>
<circle cx="1060.4" cy="1427.6" r="5.0" fill="none" stroke="#000" stroke-width="3.3"/>
<circle cx="1076.0" cy="1430.0" r="5.0" fill="none" stroke="#000" stroke-width="3.3"/>
<circle cx="1052.6" cy="1444.4" r="5.0" fill="none" stroke="#000" stroke-width="3.3"/>
<circle cx="1068.5" cy="1454.0" r="5.0" fill="none" stroke="#000" stroke-width="3.3"/>
<line x1="1131.7" y1="1293.6" x2="1131.7" y2="1242.0" stroke="#111" stroke-width="1.6"/>
<line x1="1119.7" y1="1242.0" x2="1143.7" y2="1242.0" stroke="#111" stroke-width="1.6"/>
<line x1="1119.7" y1="1293.6" x2="1143.7" y2="1293.6" stroke="#111" stroke-width="1.6"/>
<circle cx="1131.5" cy="1225.4" r="5.0" fill="none" stroke="#000" stroke-width="3.3"/>
<circle cx="1115.9" cy="1258.4" r="5.0" fill="none" stroke="#000" stroke-width="3.3"/>
<circle cx="1131.5" cy="1263.5" r="5.0" fill="none" stroke="#000" stroke-width="3.3"/>
<circle cx="1147.4" cy="1271.0" r="5.0" fill="none" stroke="#000" stroke-width="3.3"/>
<circle cx="1123.4" cy="1289.9" r="5.0" fill="none" stroke="#000" stroke-width="3.3"/>
<circle cx="1139.6" cy="1299.5" r="5.0" fill="none" stroke="#000" stroke-width="3.3"/>
<line x1="1203.0" y1="1449.5" x2="1203.0" y2="1419.6" stroke="#111" stroke-width="1.6"/>
<line x1="1191.0" y1="1419.6" x2="1215.0" y2="1419.6" stroke="#111" stroke-width="1.6"/>
<line x1="1191.0" y1="1449.5" x2="1215.0" y2="1449.5" stroke="#111" stroke-width="1.6"/>
<circle cx="1202.9" cy="1411.1" r="5.0" fill="none" stroke="#000" stroke-width="3.3"/>
<circle cx="1187.0" cy="1424.0" r="5.0" fill="none" stroke="#000" stroke-width="3.3"/>
<circle cx="1202.9" cy="1436.0" r="5.0" fill="none" stroke="#000" stroke-width="3.3"/>
<circle cx="1219.1" cy="1438.4" r="5.0" fill="none" stroke="#000" stroke-width="3.3"/>
<circle cx="1195.1" cy="1450.1" r="5.0" fill="none" stroke="#000" stroke-width="3.3"/>
<circle cx="1211.0" cy="1454.6" r="5.0" fill="none" stroke="#000" stroke-width="3.3"/>
<text x="1075.5" y="1581.1" font-size="23.9" fill="#141414" text-anchor="end" transform="rotate(-45 1075.5 1581.1)">WT</text>
<text x="1147.2" y="1581.1" font-size="23.9" fill="#141414" text-anchor="end" transform="rotate(-45 1147.2 1581.1)">KO-AAV (Zsgreen)</text>
<text x="1218.5" y="1581.1" font-size="23.9" fill="#141414" text-anchor="end" transform="rotate(-45 1218.5 1581.1)">KO-AAV (Nrg4)</text>
<line x1="1064.6" y1="1211.0" x2="1125.5" y2="1211.0" stroke="#000" stroke-width="4.6"/>
<text x="1097.0" y="1214.7" font-size="33" fill="#141414" text-anchor="middle">***</text>
<text x="1097.3" y="1180.4" font-size="22" fill="#141414" text-anchor="middle"><tspan font-style="italic">P</tspan> &lt; 0.0001</text>
<line x1="1125.5" y1="1135.4" x2="1193.6" y2="1135.4" stroke="#000" stroke-width="4.6"/>
<text x="1160.0" y="1126.4" font-size="18.5" fill="#141414" text-anchor="middle" font-weight="bold">###</text>
<text x="1162.0" y="1103.6" font-size="22" fill="#141414" text-anchor="middle"><tspan font-style="italic">P</tspan> &lt; 0.0001</text>
<text x="909.5" y="1370.0" font-size="23.9" fill="#141414" text-anchor="middle" textLength="138" lengthAdjust="spacingAndGlyphs" transform="rotate(-90 909.5 1370.0)">TNF-α mRNA</text>
<text x="934.5" y="1370.5" font-size="23.9" fill="#141414" text-anchor="middle" textLength="242" lengthAdjust="spacingAndGlyphs" transform="rotate(-90 934.5 1370.5)">expression level (fold)</text>
<rect x="1426.9" y="1428.4" width="47.6" height="120.7" fill="#4141fd"/>
<path d="M1429.65,1549.1 V1431.17 H1471.75 V1549.1" fill="none" stroke="#000" stroke-width="5.5"/>
<rect x="1499.9" y="1302.9" width="47.6" height="246.2" fill="#43fd3d"/>
<path d="M1502.65,1549.1 V1305.61 H1544.75 V1549.1" fill="none" stroke="#000" stroke-width="5.5"/>
<rect x="1572.5" y="1434.5" width="47.6" height="114.6" fill="#c244e6"/>
<path d="M1575.25,1549.1 V1437.26 H1617.35 V1549.1" fill="none" stroke="#000" stroke-width="5.5"/>
<line x1="1401.6" y1="1183.4" x2="1401.6" y2="1549.8" stroke="#262626" stroke-width="1.6"/>
<line x1="1391.0" y1="1549.1" x2="1646.4" y2="1549.1" stroke="#262626" stroke-width="1.6"/>
<line x1="1391.0" y1="1549.1" x2="1401.6" y2="1549.1" stroke="#262626" stroke-width="1.6"/>
<text x="1380.6" y="1555.9" font-size="19.5" fill="#141414" text-anchor="end">0</text>
<line x1="1391.0" y1="1488.1" x2="1401.6" y2="1488.1" stroke="#262626" stroke-width="1.6"/>
<text x="1380.6" y="1495.0" font-size="19.5" fill="#141414" text-anchor="end">0.5</text>
<line x1="1391.0" y1="1427.2" x2="1401.6" y2="1427.2" stroke="#262626" stroke-width="1.6"/>
<text x="1380.6" y="1434.0" font-size="19.5" fill="#141414" text-anchor="end">1.0</text>
<line x1="1391.0" y1="1366.2" x2="1401.6" y2="1366.2" stroke="#262626" stroke-width="1.6"/>
<text x="1380.6" y="1373.1" font-size="19.5" fill="#141414" text-anchor="end">1.5</text>
<line x1="1391.0" y1="1305.3" x2="1401.6" y2="1305.3" stroke="#262626" stroke-width="1.6"/>
<text x="1380.6" y="1312.1" font-size="19.5" fill="#141414" text-anchor="end">2.0</text>
<line x1="1391.0" y1="1244.3" x2="1401.6" y2="1244.3" stroke="#262626" stroke-width="1.6"/>
<text x="1380.6" y="1251.2" font-size="19.5" fill="#141414" text-anchor="end">2.5</text>
<line x1="1391.0" y1="1183.4" x2="1401.6" y2="1183.4" stroke="#262626" stroke-width="1.6"/>
<text x="1380.6" y="1190.2" font-size="19.5" fill="#141414" text-anchor="end">3.0</text>
<line x1="1450.7" y1="1549.1" x2="1450.7" y2="1561.1" stroke="#262626" stroke-width="1.6"/>
<line x1="1523.7" y1="1549.1" x2="1523.7" y2="1561.1" stroke="#262626" stroke-width="1.6"/>
<line x1="1596.3" y1="1549.1" x2="1596.3" y2="1561.1" stroke="#262626" stroke-width="1.6"/>
<line x1="1450.7" y1="1443.5" x2="1450.7" y2="1412.0" stroke="#111" stroke-width="1.6"/>
<line x1="1438.7" y1="1412.0" x2="1462.7" y2="1412.0" stroke="#111" stroke-width="1.6"/>
<line x1="1438.7" y1="1443.5" x2="1462.7" y2="1443.5" stroke="#111" stroke-width="1.6"/>
<circle cx="1442.4" cy="1413.5" r="5.0" fill="none" stroke="#000" stroke-width="3.3"/>
<circle cx="1458.9" cy="1410.5" r="5.0" fill="none" stroke="#000" stroke-width="3.3"/>
<circle cx="1434.0" cy="1423.4" r="5.0" fill="none" stroke="#000" stroke-width="3.3"/>
<circle cx="1450.8" cy="1429.1" r="5.0" fill="none" stroke="#000" stroke-width="3.3"/>
<circle cx="1467.0" cy="1434.5" r="5.0" fill="none" stroke="#000" stroke-width="3.3"/>
<circle cx="1450.8" cy="1455.5" r="5.0" fill="none" stroke="#000" stroke-width="3.3"/>
<line x1="1523.7" y1="1332.5" x2="1523.7" y2="1271.7" stroke="#111" stroke-width="1.6"/>
<line x1="1511.7" y1="1271.7" x2="1535.7" y2="1271.7" stroke="#111" stroke-width="1.6"/>
<line x1="1511.7" y1="1332.5" x2="1535.7" y2="1332.5" stroke="#111" stroke-width="1.6"/>
<circle cx="1523.4" cy="1247.0" r="5.0" fill="none" stroke="#000" stroke-width="3.3"/>
<circle cx="1523.4" cy="1292.0" r="5.0" fill="none" stroke="#000" stroke-width="3.3"/>
<circle cx="1511.4" cy="1303.4" r="5.0" fill="none" stroke="#000" stroke-width="3.3"/>
<circle cx="1535.4" cy="1313.0" r="5.0" fill="none" stroke="#000" stroke-width="3.3"/>
<circle cx="1511.4" cy="1326.5" r="5.0" fill="none" stroke="#000" stroke-width="3.3"/>
<circle cx="1535.4" cy="1332.5" r="5.0" fill="none" stroke="#000" stroke-width="3.3"/>
<line x1="1596.3" y1="1450.4" x2="1596.3" y2="1418.1" stroke="#111" stroke-width="1.6"/>
<line x1="1584.3" y1="1418.1" x2="1608.3" y2="1418.1" stroke="#111" stroke-width="1.6"/>
<line x1="1584.3" y1="1450.4" x2="1608.3" y2="1450.4" stroke="#111" stroke-width="1.6"/>
<circle cx="1605.0" cy="1412.9" r="5.0" fill="none" stroke="#000" stroke-width="3.3"/>
<circle cx="1588.5" cy="1420.1" r="5.0" fill="none" stroke="#000" stroke-width="3.3"/>
<circle cx="1580.1" cy="1430.0" r="5.0" fill="none" stroke="#000" stroke-width="3.3"/>
<circle cx="1596.6" cy="1436.6" r="5.0" fill="none" stroke="#000" stroke-width="3.3"/>
<circle cx="1612.5" cy="1441.1" r="5.0" fill="none" stroke="#000" stroke-width="3.3"/>
<circle cx="1596.6" cy="1460.6" r="5.0" fill="none" stroke="#000" stroke-width="3.3"/>
<text x="1466.2" y="1581.1" font-size="23.9" fill="#141414" text-anchor="end" transform="rotate(-45 1466.2 1581.1)">WT</text>
<text x="1539.2" y="1581.1" font-size="23.9" fill="#141414" text-anchor="end" transform="rotate(-45 1539.2 1581.1)">KO-AAV (Zsgreen)</text>
<text x="1611.8" y="1581.1" font-size="23.9" fill="#141414" text-anchor="end" transform="rotate(-45 1611.8 1581.1)">KO-AAV (Nrg4)</text>
<line x1="1455.6" y1="1226.0" x2="1520.4" y2="1226.0" stroke="#000" stroke-width="4.6"/>
<text x="1489.5" y="1227.6" font-size="33" fill="#141414" text-anchor="middle">***</text>
<text x="1488.7" y="1191.5" font-size="22" fill="#141414" text-anchor="middle"><tspan font-style="italic">P</tspan> &lt; 0.0001</text>
<line x1="1517.4" y1="1154.0" x2="1590.6" y2="1154.0" stroke="#000" stroke-width="4.6"/>
<text x="1554.0" y="1144.8" font-size="18.5" fill="#141414" text-anchor="middle" font-weight="bold">###</text>
<text x="1557.7" y="1121.0" font-size="22" fill="#141414" text-anchor="middle"><tspan font-style="italic">P</tspan> &lt; 0.0001</text>
<text x="1299.0" y="1367.0" font-size="23.9" fill="#141414" text-anchor="middle" textLength="123" lengthAdjust="spacingAndGlyphs" transform="rotate(-90 1299.0 1367.0)">IL-1β mRNA</text>
<text x="1327.0" y="1367.0" font-size="23.9" fill="#141414" text-anchor="middle" textLength="240" lengthAdjust="spacingAndGlyphs" transform="rotate(-90 1327.0 1367.0)">expression level (fold)</text>
<rect x="1824.4" y="1412.1" width="45.2" height="137.0" fill="#4141fd"/>
<path d="M1827.15,1549.1 V1414.85 H1866.85 V1549.1" fill="none" stroke="#000" stroke-width="5.5"/>
<rect x="1892.4" y="1268.2" width="45.2" height="280.8" fill="#43fd3d"/>
<path d="M1895.15,1549.1 V1271.00 H1934.85 V1549.1" fill="none" stroke="#000" stroke-width="5.5"/>
<rect x="1960.4" y="1405.2" width="45.2" height="143.8" fill="#c244e6"/>
<path d="M1963.15,1549.1 V1408.00 H2002.85 V1549.1" fill="none" stroke="#000" stroke-width="5.5"/>
<line x1="1801.0" y1="1206.6" x2="1801.0" y2="1549.8" stroke="#262626" stroke-width="1.6"/>
<line x1="1791.4" y1="1549.1" x2="2030.5" y2="1549.1" stroke="#262626" stroke-width="1.6"/>
<line x1="1791.4" y1="1549.1" x2="1801.0" y2="1549.1" stroke="#262626" stroke-width="1.6"/>
<text x="1782.0" y="1555.9" font-size="19.5" fill="#141414" text-anchor="end">0</text>
<line x1="1791.4" y1="1480.6" x2="1801.0" y2="1480.6" stroke="#262626" stroke-width="1.6"/>
<text x="1782.0" y="1487.4" font-size="19.5" fill="#141414" text-anchor="end">0.5</text>
<line x1="1791.4" y1="1412.1" x2="1801.0" y2="1412.1" stroke="#262626" stroke-width="1.6"/>
<text x="1782.0" y="1418.9" font-size="19.5" fill="#141414" text-anchor="end">1.0</text>
<line x1="1791.4" y1="1343.6" x2="1801.0" y2="1343.6" stroke="#262626" stroke-width="1.6"/>
<text x="1782.0" y="1350.4" font-size="19.5" fill="#141414" text-anchor="end">1.5</text>
<line x1="1791.4" y1="1275.1" x2="1801.0" y2="1275.1" stroke="#262626" stroke-width="1.6"/>
<text x="1782.0" y="1281.9" font-size="19.5" fill="#141414" text-anchor="end">2.0</text>
<line x1="1791.4" y1="1206.6" x2="1801.0" y2="1206.6" stroke="#262626" stroke-width="1.6"/>
<text x="1782.0" y="1213.4" font-size="19.5" fill="#141414" text-anchor="end">2.5</text>
<line x1="1847.0" y1="1549.1" x2="1847.0" y2="1561.1" stroke="#262626" stroke-width="1.6"/>
<line x1="1915.0" y1="1549.1" x2="1915.0" y2="1561.1" stroke="#262626" stroke-width="1.6"/>
<line x1="1983.0" y1="1549.1" x2="1983.0" y2="1561.1" stroke="#262626" stroke-width="1.6"/>
<line x1="1847.0" y1="1435.0" x2="1847.0" y2="1388.7" stroke="#111" stroke-width="1.6"/>
<line x1="1835.0" y1="1388.7" x2="1859.0" y2="1388.7" stroke="#111" stroke-width="1.6"/>
<line x1="1835.0" y1="1435.0" x2="1859.0" y2="1435.0" stroke="#111" stroke-width="1.6"/>
<circle cx="1846.9" cy="1372.1" r="5.0" fill="none" stroke="#000" stroke-width="3.3"/>
<circle cx="1846.9" cy="1398.5" r="5.0" fill="none" stroke="#000" stroke-width="3.3"/>
<circle cx="1846.9" cy="1418.0" r="5.0" fill="none" stroke="#000" stroke-width="3.3"/>
<circle cx="1832.5" cy="1421.6" r="5.0" fill="none" stroke="#000" stroke-width="3.3"/>
<circle cx="1846.9" cy="1426.4" r="5.0" fill="none" stroke="#000" stroke-width="3.3"/>
<circle cx="1861.6" cy="1436.0" r="5.0" fill="none" stroke="#000" stroke-width="3.3"/>
<line x1="1915.0" y1="1303.5" x2="1915.0" y2="1233.5" stroke="#111" stroke-width="1.6"/>
<line x1="1903.0" y1="1233.5" x2="1927.0" y2="1233.5" stroke="#111" stroke-width="1.6"/>
<line x1="1903.0" y1="1303.5" x2="1927.0" y2="1303.5" stroke="#111" stroke-width="1.6"/>
<circle cx="1926.4" cy="1229.9" r="5.0" fill="none" stroke="#000" stroke-width="3.3"/>
<circle cx="1903.9" cy="1241.0" r="5.0" fill="none" stroke="#000" stroke-width="3.3"/>
<circle cx="1915.0" cy="1258.4" r="5.0" fill="none" stroke="#000" stroke-width="3.3"/>
<circle cx="1903.9" cy="1271.9" r="5.0" fill="none" stroke="#000" stroke-width="3.3"/>
<circle cx="1926.4" cy="1283.0" r="5.0" fill="none" stroke="#000" stroke-width="3.3"/>
<circle cx="1915.0" cy="1328.6" r="5.0" fill="none" stroke="#000" stroke-width="3.3"/>
<line x1="1983.0" y1="1423.5" x2="1983.0" y2="1386.1" stroke="#111" stroke-width="1.6"/>
<line x1="1971.0" y1="1386.1" x2="1995.0" y2="1386.1" stroke="#111" stroke-width="1.6"/>
<line x1="1971.0" y1="1423.5" x2="1995.0" y2="1423.5" stroke="#111" stroke-width="1.6"/>
<circle cx="1990.9" cy="1376.0" r="5.0" fill="none" stroke="#000" stroke-width="3.3"/>
<circle cx="1975.6" cy="1387.4" r="5.0" fill="none" stroke="#000" stroke-width="3.3"/>
<circle cx="1983.4" cy="1406.0" r="5.0" fill="none" stroke="#000" stroke-width="3.3"/>
<circle cx="1969.0" cy="1415.9" r="5.0" fill="none" stroke="#000" stroke-width="3.3"/>
<circle cx="1983.4" cy="1418.0" r="5.0" fill="none" stroke="#000" stroke-width="3.3"/>
<circle cx="1998.1" cy="1424.0" r="5.0" fill="none" stroke="#000" stroke-width="3.3"/>
<text x="1862.5" y="1581.1" font-size="23.9" fill="#141414" text-anchor="end" transform="rotate(-45 1862.5 1581.1)">WT</text>
<text x="1930.5" y="1581.1" font-size="23.9" fill="#141414" text-anchor="end" transform="rotate(-45 1930.5 1581.1)">KO-AAV (Zsgreen)</text>
<text x="1998.5" y="1581.1" font-size="23.9" fill="#141414" text-anchor="end" transform="rotate(-45 1998.5 1581.1)">KO-AAV (Nrg4)</text>
<line x1="1847.0" y1="1214.0" x2="1913.5" y2="1214.0" stroke="#000" stroke-width="4.6"/>
<text x="1880.5" y="1217.7" font-size="33" fill="#141414" text-anchor="middle">***</text>
<text x="1881.0" y="1184.0" font-size="22" fill="#141414" text-anchor="middle"><tspan font-style="italic">P</tspan> &lt; 0.0001</text>
<line x1="1914.0" y1="1149.5" x2="1983.4" y2="1149.5" stroke="#000" stroke-width="4.6"/>
<text x="1948.0" y="1140.9" font-size="18.5" fill="#141414" text-anchor="middle" font-weight="bold">###</text>
<text x="1947.5" y="1119.5" font-size="22" fill="#141414" text-anchor="middle"><tspan font-style="italic">P</tspan> &lt; 0.001</text>
<text x="1699.0" y="1378.0" font-size="23.9" fill="#141414" text-anchor="middle" textLength="124.5" lengthAdjust="spacingAndGlyphs" transform="rotate(-90 1699.0 1378.0)">IL-1β mRNA</text>
<text x="1724.0" y="1377.5" font-size="23.9" fill="#141414" text-anchor="middle" textLength="243" lengthAdjust="spacingAndGlyphs" transform="rotate(-90 1724.0 1377.5)">expression level (fold)</text>
<line x1="153.6" y1="2317.4" x2="165.1" y2="2317.4" stroke="#262626" stroke-width="1.6"/>
<text x="143.5" y="2324.4" font-size="19.8" fill="#141414" text-anchor="end">0</text>
<line x1="153.6" y1="2227.1" x2="165.1" y2="2227.1" stroke="#262626" stroke-width="1.6"/>
<text x="143.5" y="2234.1" font-size="19.8" fill="#141414" text-anchor="end">1</text>
<line x1="153.6" y1="2136.7" x2="165.1" y2="2136.7" stroke="#262626" stroke-width="1.6"/>
<text x="143.5" y="2143.7" font-size="19.8" fill="#141414" text-anchor="end">2</text>
<line x1="153.6" y1="2046.4" x2="165.1" y2="2046.4" stroke="#262626" stroke-width="1.6"/>
<text x="143.5" y="2053.4" font-size="19.8" fill="#141414" text-anchor="end">3</text>
<line x1="153.6" y1="1956.0" x2="165.1" y2="1956.0" stroke="#262626" stroke-width="1.6"/>
<text x="143.5" y="1963.0" font-size="19.8" fill="#141414" text-anchor="end">4</text>
<line x1="153.6" y1="1865.7" x2="165.1" y2="1865.7" stroke="#262626" stroke-width="1.6"/>
<text x="143.5" y="1872.7" font-size="19.8" fill="#141414" text-anchor="end">5</text>
<rect x="182.1" y="2150.4" width="30.8" height="167.0" fill="#4141fd"/>
<path d="M185.50,2317.4 V2153.76 H209.50 V2317.4" fill="none" stroke="#000" stroke-width="6.8"/>
<rect x="229.1" y="2127.7" width="30.8" height="189.7" fill="#43fd3d"/>
<path d="M232.50,2317.4 V2131.09 H256.50 V2317.4" fill="none" stroke="#000" stroke-width="6.8"/>
<rect x="276.1" y="2171.4" width="30.8" height="146.0" fill="#c244e6"/>
<path d="M279.50,2317.4 V2174.81 H303.50 V2317.4" fill="none" stroke="#000" stroke-width="6.8"/>
<rect x="354.3" y="2203.5" width="30.8" height="113.9" fill="#4141fd"/>
<path d="M357.70,2317.4 V2206.88 H381.70 V2317.4" fill="none" stroke="#000" stroke-width="6.8"/>
<rect x="401.3" y="2214.5" width="30.8" height="102.9" fill="#43fd3d"/>
<path d="M404.70,2317.4 V2217.90 H428.70 V2317.4" fill="none" stroke="#000" stroke-width="6.8"/>
<rect x="448.3" y="2195.2" width="30.8" height="122.2" fill="#c244e6"/>
<path d="M451.70,2317.4 V2198.57 H475.70 V2317.4" fill="none" stroke="#000" stroke-width="6.8"/>
<rect x="526.4" y="2198.2" width="30.8" height="119.2" fill="#4141fd"/>
<path d="M529.80,2317.4 V2201.55 H553.80 V2317.4" fill="none" stroke="#000" stroke-width="6.8"/>
<rect x="573.4" y="2115.5" width="30.8" height="201.9" fill="#43fd3d"/>
<path d="M576.80,2317.4 V2118.89 H600.80 V2317.4" fill="none" stroke="#000" stroke-width="6.8"/>
<rect x="620.4" y="2201.0" width="30.8" height="116.4" fill="#c244e6"/>
<path d="M623.80,2317.4 V2204.35 H647.80 V2317.4" fill="none" stroke="#000" stroke-width="6.8"/>
<rect x="698.7" y="2018.2" width="30.8" height="299.2" fill="#4141fd"/>
<path d="M702.10,2317.4 V2021.59 H726.10 V2317.4" fill="none" stroke="#000" stroke-width="6.8"/>
<rect x="745.7" y="1922.1" width="30.8" height="395.3" fill="#43fd3d"/>
<path d="M749.10,2317.4 V1925.47 H773.10 V2317.4" fill="none" stroke="#000" stroke-width="6.8"/>
<rect x="792.7" y="2029.8" width="30.8" height="287.6" fill="#c244e6"/>
<path d="M796.10,2317.4 V2033.25 H820.10 V2317.4" fill="none" stroke="#000" stroke-width="6.8"/>
<line x1="165.1" y1="1865.7" x2="165.1" y2="2318.2" stroke="#262626" stroke-width="1.6"/>
<line x1="153.6" y1="2317.4" x2="841.8" y2="2317.4" stroke="#262626" stroke-width="1.6"/>
<line x1="244.5" y1="2317.4" x2="244.5" y2="2329.4" stroke="#262626" stroke-width="1.6"/>
<line x1="197.5" y1="2156.6" x2="197.5" y2="2149.4" stroke="#111" stroke-width="1.5"/>
<line x1="190.5" y1="2149.4" x2="204.5" y2="2149.4" stroke="#111" stroke-width="1.5"/>
<line x1="190.5" y1="2156.6" x2="204.5" y2="2156.6" stroke="#111" stroke-width="1.5"/>
<circle cx="189.5" cy="2146.7" r="4.8" fill="none" stroke="#000" stroke-width="3.5"/>
<circle cx="195.5" cy="2148.6" r="4.8" fill="none" stroke="#000" stroke-width="3.5"/>
<circle cx="201.5" cy="2144.9" r="4.8" fill="none" stroke="#000" stroke-width="3.5"/>
<circle cx="192.5" cy="2152.2" r="4.8" fill="none" stroke="#000" stroke-width="3.5"/>
<circle cx="205.5" cy="2154.0" r="4.8" fill="none" stroke="#000" stroke-width="3.5"/>
<circle cx="198.5" cy="2154.9" r="4.8" fill="none" stroke="#000" stroke-width="3.5"/>
<line x1="244.5" y1="2134.9" x2="244.5" y2="2122.3" stroke="#111" stroke-width="1.5"/>
<line x1="237.5" y1="2122.3" x2="251.5" y2="2122.3" stroke="#111" stroke-width="1.5"/>
<line x1="237.5" y1="2134.9" x2="251.5" y2="2134.9" stroke="#111" stroke-width="1.5"/>
<circle cx="236.5" cy="2123.2" r="4.8" fill="none" stroke="#000" stroke-width="3.5"/>
<circle cx="242.5" cy="2121.4" r="4.8" fill="none" stroke="#000" stroke-width="3.5"/>
<circle cx="248.5" cy="2116.8" r="4.8" fill="none" stroke="#000" stroke-width="3.5"/>
<circle cx="240.5" cy="2130.4" r="4.8" fill="none" stroke="#000" stroke-width="3.5"/>
<circle cx="252.5" cy="2134.0" r="4.8" fill="none" stroke="#000" stroke-width="3.5"/>
<circle cx="246.5" cy="2128.6" r="4.8" fill="none" stroke="#000" stroke-width="3.5"/>
<line x1="291.5" y1="2172.0" x2="291.5" y2="2166.5" stroke="#111" stroke-width="1.5"/>
<line x1="284.5" y1="2166.5" x2="298.5" y2="2166.5" stroke="#111" stroke-width="1.5"/>
<line x1="284.5" y1="2172.0" x2="298.5" y2="2172.0" stroke="#111" stroke-width="1.5"/>
<circle cx="283.5" cy="2168.7" r="4.8" fill="none" stroke="#000" stroke-width="3.5"/>
<circle cx="289.5" cy="2170.5" r="4.8" fill="none" stroke="#000" stroke-width="3.5"/>
<circle cx="295.5" cy="2166.9" r="4.8" fill="none" stroke="#000" stroke-width="3.5"/>
<circle cx="286.5" cy="2173.2" r="4.8" fill="none" stroke="#000" stroke-width="3.5"/>
<circle cx="299.5" cy="2176.8" r="4.8" fill="none" stroke="#000" stroke-width="3.5"/>
<circle cx="292.5" cy="2174.1" r="4.8" fill="none" stroke="#000" stroke-width="3.5"/>
<line x1="416.7" y1="2317.4" x2="416.7" y2="2329.4" stroke="#262626" stroke-width="1.6"/>
<line x1="369.7" y1="2204.5" x2="369.7" y2="2197.2" stroke="#111" stroke-width="1.5"/>
<line x1="362.7" y1="2197.2" x2="376.7" y2="2197.2" stroke="#111" stroke-width="1.5"/>
<line x1="362.7" y1="2204.5" x2="376.7" y2="2204.5" stroke="#111" stroke-width="1.5"/>
<circle cx="361.7" cy="2201.7" r="4.8" fill="none" stroke="#000" stroke-width="3.5"/>
<circle cx="367.7" cy="2203.5" r="4.8" fill="none" stroke="#000" stroke-width="3.5"/>
<circle cx="373.7" cy="2200.8" r="4.8" fill="none" stroke="#000" stroke-width="3.5"/>
<circle cx="364.7" cy="2205.3" r="4.8" fill="none" stroke="#000" stroke-width="3.5"/>
<circle cx="377.7" cy="2207.1" r="4.8" fill="none" stroke="#000" stroke-width="3.5"/>
<circle cx="370.7" cy="2207.1" r="4.8" fill="none" stroke="#000" stroke-width="3.5"/>
<line x1="416.7" y1="2213.5" x2="416.7" y2="2208.1" stroke="#111" stroke-width="1.5"/>
<line x1="409.7" y1="2208.1" x2="423.7" y2="2208.1" stroke="#111" stroke-width="1.5"/>
<line x1="409.7" y1="2213.5" x2="423.7" y2="2213.5" stroke="#111" stroke-width="1.5"/>
<circle cx="408.7" cy="2214.5" r="4.8" fill="none" stroke="#000" stroke-width="3.5"/>
<circle cx="414.7" cy="2216.3" r="4.8" fill="none" stroke="#000" stroke-width="3.5"/>
<circle cx="420.7" cy="2210.9" r="4.8" fill="none" stroke="#000" stroke-width="3.5"/>
<circle cx="411.7" cy="2217.2" r="4.8" fill="none" stroke="#000" stroke-width="3.5"/>
<circle cx="424.7" cy="2219.9" r="4.8" fill="none" stroke="#000" stroke-width="3.5"/>
<circle cx="417.7" cy="2216.3" r="4.8" fill="none" stroke="#000" stroke-width="3.5"/>
<line x1="463.7" y1="2199.1" x2="463.7" y2="2193.6" stroke="#111" stroke-width="1.5"/>
<line x1="456.7" y1="2193.6" x2="470.7" y2="2193.6" stroke="#111" stroke-width="1.5"/>
<line x1="456.7" y1="2199.1" x2="470.7" y2="2199.1" stroke="#111" stroke-width="1.5"/>
<circle cx="455.7" cy="2193.4" r="4.8" fill="none" stroke="#000" stroke-width="3.5"/>
<circle cx="461.7" cy="2195.2" r="4.8" fill="none" stroke="#000" stroke-width="3.5"/>
<circle cx="467.7" cy="2190.7" r="4.8" fill="none" stroke="#000" stroke-width="3.5"/>
<circle cx="458.7" cy="2197.0" r="4.8" fill="none" stroke="#000" stroke-width="3.5"/>
<circle cx="471.7" cy="2202.4" r="4.8" fill="none" stroke="#000" stroke-width="3.5"/>
<circle cx="464.7" cy="2197.9" r="4.8" fill="none" stroke="#000" stroke-width="3.5"/>
<line x1="588.8" y1="2317.4" x2="588.8" y2="2329.4" stroke="#262626" stroke-width="1.6"/>
<line x1="541.8" y1="2207.2" x2="541.8" y2="2189.1" stroke="#111" stroke-width="1.5"/>
<line x1="534.8" y1="2189.1" x2="548.8" y2="2189.1" stroke="#111" stroke-width="1.5"/>
<line x1="534.8" y1="2207.2" x2="548.8" y2="2207.2" stroke="#111" stroke-width="1.5"/>
<circle cx="533.8" cy="2198.2" r="4.8" fill="none" stroke="#000" stroke-width="3.5"/>
<circle cx="539.8" cy="2181.9" r="4.8" fill="none" stroke="#000" stroke-width="3.5"/>
<circle cx="545.8" cy="2200.9" r="4.8" fill="none" stroke="#000" stroke-width="3.5"/>
<circle cx="536.8" cy="2200.0" r="4.8" fill="none" stroke="#000" stroke-width="3.5"/>
<circle cx="549.8" cy="2206.3" r="4.8" fill="none" stroke="#000" stroke-width="3.5"/>
<circle cx="542.8" cy="2201.8" r="4.8" fill="none" stroke="#000" stroke-width="3.5"/>
<line x1="588.8" y1="2123.2" x2="588.8" y2="2108.7" stroke="#111" stroke-width="1.5"/>
<line x1="581.8" y1="2108.7" x2="595.8" y2="2108.7" stroke="#111" stroke-width="1.5"/>
<line x1="581.8" y1="2123.2" x2="595.8" y2="2123.2" stroke="#111" stroke-width="1.5"/>
<circle cx="580.8" cy="2114.6" r="4.8" fill="none" stroke="#000" stroke-width="3.5"/>
<circle cx="586.8" cy="2117.3" r="4.8" fill="none" stroke="#000" stroke-width="3.5"/>
<circle cx="592.8" cy="2103.7" r="4.8" fill="none" stroke="#000" stroke-width="3.5"/>
<circle cx="583.8" cy="2112.8" r="4.8" fill="none" stroke="#000" stroke-width="3.5"/>
<circle cx="596.8" cy="2120.9" r="4.8" fill="none" stroke="#000" stroke-width="3.5"/>
<circle cx="589.8" cy="2120.0" r="4.8" fill="none" stroke="#000" stroke-width="3.5"/>
<line x1="635.8" y1="2207.2" x2="635.8" y2="2198.2" stroke="#111" stroke-width="1.5"/>
<line x1="628.8" y1="2198.2" x2="642.8" y2="2198.2" stroke="#111" stroke-width="1.5"/>
<line x1="628.8" y1="2207.2" x2="642.8" y2="2207.2" stroke="#111" stroke-width="1.5"/>
<circle cx="627.8" cy="2198.2" r="4.8" fill="none" stroke="#000" stroke-width="3.5"/>
<circle cx="633.8" cy="2201.9" r="4.8" fill="none" stroke="#000" stroke-width="3.5"/>
<circle cx="639.8" cy="2195.5" r="4.8" fill="none" stroke="#000" stroke-width="3.5"/>
<circle cx="630.8" cy="2203.7" r="4.8" fill="none" stroke="#000" stroke-width="3.5"/>
<circle cx="643.8" cy="2206.4" r="4.8" fill="none" stroke="#000" stroke-width="3.5"/>
<circle cx="636.8" cy="2202.8" r="4.8" fill="none" stroke="#000" stroke-width="3.5"/>
<line x1="761.1" y1="2317.4" x2="761.1" y2="2329.4" stroke="#262626" stroke-width="1.6"/>
<line x1="714.1" y1="2026.5" x2="714.1" y2="2010.2" stroke="#111" stroke-width="1.5"/>
<line x1="707.1" y1="2010.2" x2="721.1" y2="2010.2" stroke="#111" stroke-width="1.5"/>
<line x1="707.1" y1="2026.5" x2="721.1" y2="2026.5" stroke="#111" stroke-width="1.5"/>
<circle cx="706.1" cy="2010.1" r="4.8" fill="none" stroke="#000" stroke-width="3.5"/>
<circle cx="712.1" cy="2013.7" r="4.8" fill="none" stroke="#000" stroke-width="3.5"/>
<circle cx="718.1" cy="2016.4" r="4.8" fill="none" stroke="#000" stroke-width="3.5"/>
<circle cx="709.1" cy="2021.8" r="4.8" fill="none" stroke="#000" stroke-width="3.5"/>
<circle cx="722.1" cy="2009.2" r="4.8" fill="none" stroke="#000" stroke-width="3.5"/>
<circle cx="721.1" cy="2029.0" r="4.8" fill="none" stroke="#000" stroke-width="3.5"/>
<line x1="761.1" y1="1938.0" x2="761.1" y2="1905.4" stroke="#111" stroke-width="1.5"/>
<line x1="754.1" y1="1905.4" x2="768.1" y2="1905.4" stroke="#111" stroke-width="1.5"/>
<line x1="754.1" y1="1938.0" x2="768.1" y2="1938.0" stroke="#111" stroke-width="1.5"/>
<circle cx="753.1" cy="1915.7" r="4.8" fill="none" stroke="#000" stroke-width="3.5"/>
<circle cx="759.1" cy="1913.0" r="4.8" fill="none" stroke="#000" stroke-width="3.5"/>
<circle cx="765.1" cy="1906.7" r="4.8" fill="none" stroke="#000" stroke-width="3.5"/>
<circle cx="756.1" cy="1923.9" r="4.8" fill="none" stroke="#000" stroke-width="3.5"/>
<circle cx="769.1" cy="1926.6" r="4.8" fill="none" stroke="#000" stroke-width="3.5"/>
<circle cx="762.1" cy="1947.4" r="4.8" fill="none" stroke="#000" stroke-width="3.5"/>
<line x1="808.1" y1="2049.1" x2="808.1" y2="2007.5" stroke="#111" stroke-width="1.5"/>
<line x1="801.1" y1="2007.5" x2="815.1" y2="2007.5" stroke="#111" stroke-width="1.5"/>
<line x1="801.1" y1="2049.1" x2="815.1" y2="2049.1" stroke="#111" stroke-width="1.5"/>
<circle cx="800.1" cy="2038.0" r="4.8" fill="none" stroke="#000" stroke-width="3.5"/>
<circle cx="806.1" cy="2022.6" r="4.8" fill="none" stroke="#000" stroke-width="3.5"/>
<circle cx="812.1" cy="1985.6" r="4.8" fill="none" stroke="#000" stroke-width="3.5"/>
<circle cx="803.1" cy="2041.6" r="4.8" fill="none" stroke="#000" stroke-width="3.5"/>
<circle cx="816.1" cy="2047.0" r="4.8" fill="none" stroke="#000" stroke-width="3.5"/>
<circle cx="809.1" cy="2035.3" r="4.8" fill="none" stroke="#000" stroke-width="3.5"/>
<text x="244.5" y="2359.0" font-size="23.2" fill="#141414" text-anchor="middle">LDL-C</text>
<text x="416.7" y="2359.0" font-size="23.2" fill="#141414" text-anchor="middle">HDL-C</text>
<text x="588.8" y="2359.0" font-size="23.2" fill="#141414" text-anchor="middle">TG</text>
<text x="761.1" y="2359.0" font-size="23.2" fill="#141414" text-anchor="middle">TC</text>
<text x="105.5" y="2092.3" font-size="23.9" fill="#141414" text-anchor="middle" textLength="337" lengthAdjust="spacingAndGlyphs" transform="rotate(-90 105.5 2092.3)">Plsam concentration (mmol l<tspan font-size="14" dy="-9">−1</tspan><tspan dy="9">)</tspan></text>
<rect x="262.9" y="1798.6" width="14.0" height="52.8" fill="#43fd3d" stroke="#000" stroke-width="5.2"/>
<rect x="262.9" y="1874.4" width="14.0" height="50.7" fill="#c244e6" stroke="#000" stroke-width="5.2"/>
<rect x="564.6" y="1798.6" width="13.4" height="52.8" fill="#3f63f5" stroke="#000" stroke-width="5.2"/>
<text x="295.6" y="1835.5" font-size="23.9" fill="#141414">KO-AAV (Zsgreen)</text>
<text x="295.6" y="1909.5" font-size="23.9" fill="#141414">KO-AAV (Nrg4)</text>
<text x="599.0" y="1835.5" font-size="23.9" fill="#141414">WT</text>
<line x1="197.4" y1="2096.4" x2="238.7" y2="2096.4" stroke="#000" stroke-width="4.6"/>
<text x="218.0" y="2095.2" font-size="33" fill="#141414" text-anchor="middle">***</text>
<text x="223.5" y="2064.6" font-size="22" fill="#141414" text-anchor="middle"><tspan font-style="italic">P</tspan> &lt; 0.0001</text>
<line x1="242.7" y1="2005.2" x2="291.0" y2="2005.2" stroke="#000" stroke-width="4.6"/>
<text x="266.9" y="1994.0" font-size="18.5" fill="#141414" text-anchor="middle" font-weight="bold">###</text>
<text x="268.8" y="1971.5" font-size="22" fill="#141414" text-anchor="middle"><tspan font-style="italic">P</tspan> &lt; 0.0001</text>
<line x1="368.6" y1="2172.9" x2="417.0" y2="2172.9" stroke="#000" stroke-width="4.6"/>
<text x="391.7" y="2175.0" font-size="33" fill="#141414" text-anchor="middle">***</text>
<text x="393.0" y="2143.7" font-size="22" fill="#141414" text-anchor="middle"><tspan font-style="italic">P</tspan> = 0.0005</text>
<line x1="414.4" y1="2075.7" x2="458.2" y2="2075.7" stroke="#000" stroke-width="4.6"/>
<text x="436.6" y="2066.4" font-size="18.5" fill="#141414" text-anchor="middle" font-weight="bold">###</text>
<text x="436.0" y="2045.0" font-size="22" fill="#141414" text-anchor="middle"><tspan font-style="italic">P</tspan> &lt; 0.0001</text>
<line x1="542.3" y1="2073.2" x2="585.6" y2="2073.2" stroke="#000" stroke-width="4.6"/>
<text x="564.0" y="2074.2" font-size="33" fill="#141414" text-anchor="middle">***</text>
<text x="566.0" y="2043.0" font-size="22" fill="#141414" text-anchor="middle"><tspan font-style="italic">P</tspan> &lt; 0.0001</text>
<line x1="590.6" y1="1988.0" x2="636.0" y2="1988.0" stroke="#000" stroke-width="4.6"/>
<text x="613.3" y="1979.4" font-size="18.5" fill="#141414" text-anchor="middle" font-weight="bold">###</text>
<text x="613.0" y="1958.9" font-size="22" fill="#141414" text-anchor="middle"><tspan font-style="italic">P</tspan> &lt; 0.0001</text>
<line x1="707.5" y1="1883.4" x2="761.8" y2="1883.4" stroke="#000" stroke-width="4.6"/>
<text x="736.0" y="1885.5" font-size="33" fill="#141414" text-anchor="middle">***</text>
<text x="737.2" y="1853.0" font-size="22" fill="#141414" text-anchor="middle"><tspan font-style="italic">P</tspan> &lt; 0.0001</text>
<line x1="761.8" y1="1813.4" x2="809.0" y2="1813.4" stroke="#000" stroke-width="4.6"/>
<text x="785.5" y="1804.2" font-size="18.5" fill="#141414" text-anchor="middle" font-weight="bold">###</text>
<text x="784.7" y="1782.7" font-size="22" fill="#141414" text-anchor="middle"><tspan font-style="italic">P</tspan> &lt; 0.0001</text>
<rect x="1037.3" y="2152.4" width="47.4" height="121.1" fill="#4141fd"/>
<path d="M1040.05,2273.5 V2155.18 H1081.95 V2273.5" fill="none" stroke="#000" stroke-width="5.5"/>
<rect x="1109.9" y="2007.1" width="47.4" height="266.4" fill="#43fd3d"/>
<path d="M1112.65,2273.5 V2009.90 H1154.55 V2273.5" fill="none" stroke="#000" stroke-width="5.5"/>
<rect x="1181.8" y="2159.1" width="47.4" height="114.4" fill="#c244e6"/>
<path d="M1184.55,2273.5 V2161.84 H1226.45 V2273.5" fill="none" stroke="#000" stroke-width="5.5"/>
<line x1="1012.9" y1="1910.3" x2="1012.9" y2="2274.2" stroke="#262626" stroke-width="1.6"/>
<line x1="1001.1" y1="2273.5" x2="1256.0" y2="2273.5" stroke="#262626" stroke-width="1.6"/>
<line x1="1001.1" y1="2273.5" x2="1012.9" y2="2273.5" stroke="#262626" stroke-width="1.6"/>
<text x="990.1" y="2280.3" font-size="19.5" fill="#141414" text-anchor="end">0</text>
<line x1="1001.1" y1="2213.0" x2="1012.9" y2="2213.0" stroke="#262626" stroke-width="1.6"/>
<text x="990.1" y="2219.8" font-size="19.5" fill="#141414" text-anchor="end">0.5</text>
<line x1="1001.1" y1="2152.4" x2="1012.9" y2="2152.4" stroke="#262626" stroke-width="1.6"/>
<text x="990.1" y="2159.3" font-size="19.5" fill="#141414" text-anchor="end">1.0</text>
<line x1="1001.1" y1="2091.9" x2="1012.9" y2="2091.9" stroke="#262626" stroke-width="1.6"/>
<text x="990.1" y="2098.7" font-size="19.5" fill="#141414" text-anchor="end">1.5</text>
<line x1="1001.1" y1="2031.4" x2="1012.9" y2="2031.4" stroke="#262626" stroke-width="1.6"/>
<text x="990.1" y="2038.2" font-size="19.5" fill="#141414" text-anchor="end">2.0</text>
<line x1="1001.1" y1="1970.8" x2="1012.9" y2="1970.8" stroke="#262626" stroke-width="1.6"/>
<text x="990.1" y="1977.7" font-size="19.5" fill="#141414" text-anchor="end">2.5</text>
<line x1="1001.1" y1="1910.3" x2="1012.9" y2="1910.3" stroke="#262626" stroke-width="1.6"/>
<text x="990.1" y="1917.1" font-size="19.5" fill="#141414" text-anchor="end">3.0</text>
<line x1="1061.0" y1="2273.5" x2="1061.0" y2="2285.5" stroke="#262626" stroke-width="1.6"/>
<line x1="1133.6" y1="2273.5" x2="1133.6" y2="2285.5" stroke="#262626" stroke-width="1.6"/>
<line x1="1205.5" y1="2273.5" x2="1205.5" y2="2285.5" stroke="#262626" stroke-width="1.6"/>
<line x1="1061.0" y1="2168.4" x2="1061.0" y2="2135.7" stroke="#111" stroke-width="1.6"/>
<line x1="1049.0" y1="2135.7" x2="1073.0" y2="2135.7" stroke="#111" stroke-width="1.6"/>
<line x1="1049.0" y1="2168.4" x2="1073.0" y2="2168.4" stroke="#111" stroke-width="1.6"/>
<circle cx="1060.9" cy="2121.9" r="5.0" fill="none" stroke="#000" stroke-width="3.3"/>
<circle cx="1052.1" cy="2150.4" r="5.0" fill="none" stroke="#000" stroke-width="3.3"/>
<circle cx="1069.1" cy="2150.4" r="5.0" fill="none" stroke="#000" stroke-width="3.3"/>
<circle cx="1043.9" cy="2156.2" r="5.0" fill="none" stroke="#000" stroke-width="3.3"/>
<circle cx="1060.9" cy="2165.1" r="5.0" fill="none" stroke="#000" stroke-width="3.3"/>
<circle cx="1076.6" cy="2168.3" r="5.0" fill="none" stroke="#000" stroke-width="3.3"/>
<line x1="1133.6" y1="2055.0" x2="1133.6" y2="1958.4" stroke="#111" stroke-width="1.6"/>
<line x1="1121.6" y1="1958.4" x2="1145.6" y2="1958.4" stroke="#111" stroke-width="1.6"/>
<line x1="1121.6" y1="2055.0" x2="1145.6" y2="2055.0" stroke="#111" stroke-width="1.6"/>
<circle cx="1132.8" cy="1939.0" r="5.0" fill="none" stroke="#000" stroke-width="3.3"/>
<circle cx="1120.7" cy="1982.8" r="5.0" fill="none" stroke="#000" stroke-width="3.3"/>
<circle cx="1145.8" cy="1988.7" r="5.0" fill="none" stroke="#000" stroke-width="3.3"/>
<circle cx="1120.7" cy="2017.1" r="5.0" fill="none" stroke="#000" stroke-width="3.3"/>
<circle cx="1145.8" cy="2029.5" r="5.0" fill="none" stroke="#000" stroke-width="3.3"/>
<circle cx="1132.8" cy="2081.8" r="5.0" fill="none" stroke="#000" stroke-width="3.3"/>
<line x1="1205.5" y1="2184.8" x2="1205.5" y2="2132.5" stroke="#111" stroke-width="1.6"/>
<line x1="1193.5" y1="2132.5" x2="1217.5" y2="2132.5" stroke="#111" stroke-width="1.6"/>
<line x1="1193.5" y1="2184.8" x2="1217.5" y2="2184.8" stroke="#111" stroke-width="1.6"/>
<circle cx="1213.5" cy="2127.5" r="5.0" fill="none" stroke="#000" stroke-width="3.3"/>
<circle cx="1197.1" cy="2137.3" r="5.0" fill="none" stroke="#000" stroke-width="3.3"/>
<circle cx="1189.9" cy="2156.2" r="5.0" fill="none" stroke="#000" stroke-width="3.3"/>
<circle cx="1205.6" cy="2157.6" r="5.0" fill="none" stroke="#000" stroke-width="3.3"/>
<circle cx="1221.6" cy="2167.7" r="5.0" fill="none" stroke="#000" stroke-width="3.3"/>
<circle cx="1205.6" cy="2202.6" r="5.0" fill="none" stroke="#000" stroke-width="3.3"/>
<text x="1076.5" y="2305.5" font-size="23.9" fill="#141414" text-anchor="end" transform="rotate(-45 1076.5 2305.5)">WT</text>
<text x="1149.1" y="2305.5" font-size="23.9" fill="#141414" text-anchor="end" transform="rotate(-45 1149.1 2305.5)">KO-AAV (Zsgreen)</text>
<text x="1221.0" y="2305.5" font-size="23.9" fill="#141414" text-anchor="end" transform="rotate(-45 1221.0 2305.5)">KO-AAV (Nrg4)</text>
<line x1="1068.4" y1="1921.0" x2="1131.2" y2="1921.0" stroke="#000" stroke-width="4.6"/>
<text x="1101.7" y="1924.9" font-size="33" fill="#141414" text-anchor="middle">***</text>
<text x="1102.2" y="1892.3" font-size="22" fill="#141414" text-anchor="middle"><tspan font-style="italic">P</tspan> &lt; 0.0001</text>
<line x1="1131.8" y1="1847.5" x2="1197.5" y2="1847.5" stroke="#000" stroke-width="4.6"/>
<text x="1167.0" y="1838.9" font-size="18.5" fill="#141414" text-anchor="middle" font-weight="bold">###</text>
<text x="1165.5" y="1815.5" font-size="22" fill="#141414" text-anchor="middle"><tspan font-style="italic">P</tspan> &lt; 0.0001</text>
<text x="909.0" y="2091.5" font-size="23.9" fill="#141414" text-anchor="middle" textLength="179.7" lengthAdjust="spacingAndGlyphs" transform="rotate(-90 909.0 2091.5)">E-selectin mRNA</text>
<text x="934.0" y="2091.6" font-size="23.9" fill="#141414" text-anchor="middle" textLength="241.8" lengthAdjust="spacingAndGlyphs" transform="rotate(-90 934.0 2091.6)">expression level (fold)</text>
<rect x="1427.0" y="2128.5" width="47.4" height="145.0" fill="#4141fd"/>
<path d="M1429.75,2273.5 V2131.24 H1471.65 V2273.5" fill="none" stroke="#000" stroke-width="5.5"/>
<rect x="1499.5" y="1987.3" width="47.4" height="286.2" fill="#43fd3d"/>
<path d="M1502.25,2273.5 V1990.01 H1544.15 V2273.5" fill="none" stroke="#000" stroke-width="5.5"/>
<rect x="1571.7" y="2123.3" width="47.4" height="150.2" fill="#c244e6"/>
<path d="M1574.45,2273.5 V2126.01 H1616.35 V2273.5" fill="none" stroke="#000" stroke-width="5.5"/>
<line x1="1402.5" y1="1910.2" x2="1402.5" y2="2274.2" stroke="#262626" stroke-width="1.6"/>
<line x1="1391.0" y1="2273.5" x2="1645.2" y2="2273.5" stroke="#262626" stroke-width="1.6"/>
<line x1="1391.0" y1="2273.5" x2="1402.5" y2="2273.5" stroke="#262626" stroke-width="1.6"/>
<text x="1380.6" y="2280.3" font-size="19.5" fill="#141414" text-anchor="end">0</text>
<line x1="1391.0" y1="2200.8" x2="1402.5" y2="2200.8" stroke="#262626" stroke-width="1.6"/>
<text x="1380.6" y="2207.7" font-size="19.5" fill="#141414" text-anchor="end">0.5</text>
<line x1="1391.0" y1="2128.2" x2="1402.5" y2="2128.2" stroke="#262626" stroke-width="1.6"/>
<text x="1380.6" y="2135.0" font-size="19.5" fill="#141414" text-anchor="end">1.0</text>
<line x1="1391.0" y1="2055.6" x2="1402.5" y2="2055.6" stroke="#262626" stroke-width="1.6"/>
<text x="1380.6" y="2062.4" font-size="19.5" fill="#141414" text-anchor="end">1.5</text>
<line x1="1391.0" y1="1982.9" x2="1402.5" y2="1982.9" stroke="#262626" stroke-width="1.6"/>
<text x="1380.6" y="1989.7" font-size="19.5" fill="#141414" text-anchor="end">2.0</text>
<line x1="1391.0" y1="1910.2" x2="1402.5" y2="1910.2" stroke="#262626" stroke-width="1.6"/>
<text x="1380.6" y="1917.1" font-size="19.5" fill="#141414" text-anchor="end">2.5</text>
<line x1="1450.7" y1="2273.5" x2="1450.7" y2="2285.5" stroke="#262626" stroke-width="1.6"/>
<line x1="1523.2" y1="2273.5" x2="1523.2" y2="2285.5" stroke="#262626" stroke-width="1.6"/>
<line x1="1595.4" y1="2273.5" x2="1595.4" y2="2285.5" stroke="#262626" stroke-width="1.6"/>
<line x1="1450.7" y1="2148.8" x2="1450.7" y2="2108.6" stroke="#111" stroke-width="1.6"/>
<line x1="1438.7" y1="2108.6" x2="1462.7" y2="2108.6" stroke="#111" stroke-width="1.6"/>
<line x1="1438.7" y1="2148.8" x2="1462.7" y2="2148.8" stroke="#111" stroke-width="1.6"/>
<circle cx="1450.5" cy="2099.7" r="5.0" fill="none" stroke="#000" stroke-width="3.3"/>
<circle cx="1432.6" cy="2121.0" r="5.0" fill="none" stroke="#000" stroke-width="3.3"/>
<circle cx="1445.0" cy="2124.9" r="5.0" fill="none" stroke="#000" stroke-width="3.3"/>
<circle cx="1456.4" cy="2129.1" r="5.0" fill="none" stroke="#000" stroke-width="3.3"/>
<circle cx="1468.5" cy="2130.8" r="5.0" fill="none" stroke="#000" stroke-width="3.3"/>
<circle cx="1450.5" cy="2161.8" r="5.0" fill="none" stroke="#000" stroke-width="3.3"/>
<line x1="1523.2" y1="2000.0" x2="1523.2" y2="1973.0" stroke="#111" stroke-width="1.6"/>
<line x1="1511.2" y1="1973.0" x2="1535.2" y2="1973.0" stroke="#111" stroke-width="1.6"/>
<line x1="1511.2" y1="2000.0" x2="1535.2" y2="2000.0" stroke="#111" stroke-width="1.6"/>
<circle cx="1539.7" cy="1968.1" r="5.0" fill="none" stroke="#000" stroke-width="3.3"/>
<circle cx="1507.0" cy="1977.2" r="5.0" fill="none" stroke="#000" stroke-width="3.3"/>
<circle cx="1522.4" cy="1982.1" r="5.0" fill="none" stroke="#000" stroke-width="3.3"/>
<circle cx="1507.0" cy="1990.3" r="5.0" fill="none" stroke="#000" stroke-width="3.3"/>
<circle cx="1522.4" cy="1999.4" r="5.0" fill="none" stroke="#000" stroke-width="3.3"/>
<circle cx="1538.1" cy="2003.4" r="5.0" fill="none" stroke="#000" stroke-width="3.3"/>
<line x1="1595.4" y1="2140.0" x2="1595.4" y2="2097.0" stroke="#111" stroke-width="1.6"/>
<line x1="1583.4" y1="2097.0" x2="1607.4" y2="2097.0" stroke="#111" stroke-width="1.6"/>
<line x1="1583.4" y1="2140.0" x2="1607.4" y2="2140.0" stroke="#111" stroke-width="1.6"/>
<circle cx="1583.1" cy="2094.8" r="5.0" fill="none" stroke="#000" stroke-width="3.3"/>
<circle cx="1607.6" cy="2093.9" r="5.0" fill="none" stroke="#000" stroke-width="3.3"/>
<circle cx="1595.2" cy="2113.5" r="5.0" fill="none" stroke="#000" stroke-width="3.3"/>
<circle cx="1595.2" cy="2135.7" r="5.0" fill="none" stroke="#000" stroke-width="3.3"/>
<circle cx="1583.1" cy="2146.4" r="5.0" fill="none" stroke="#000" stroke-width="3.3"/>
<circle cx="1607.6" cy="2153.6" r="5.0" fill="none" stroke="#000" stroke-width="3.3"/>
<text x="1466.2" y="2305.5" font-size="23.9" fill="#141414" text-anchor="end" transform="rotate(-45 1466.2 2305.5)">WT</text>
<text x="1538.7" y="2305.5" font-size="23.9" fill="#141414" text-anchor="end" transform="rotate(-45 1538.7 2305.5)">KO-AAV (Zsgreen)</text>
<text x="1610.9" y="2305.5" font-size="23.9" fill="#141414" text-anchor="end" transform="rotate(-45 1610.9 2305.5)">KO-AAV (Nrg4)</text>
<line x1="1453.0" y1="1952.7" x2="1520.0" y2="1952.7" stroke="#000" stroke-width="4.6"/>
<text x="1489.0" y="1956.9" font-size="33" fill="#141414" text-anchor="middle">***</text>
<text x="1491.0" y="1925.0" font-size="22" fill="#141414" text-anchor="middle"><tspan font-style="italic">P</tspan> &lt; 0.0001</text>
<line x1="1518.5" y1="1880.0" x2="1592.6" y2="1880.0" stroke="#000" stroke-width="4.6"/>
<text x="1556.0" y="1870.4" font-size="18.5" fill="#141414" text-anchor="middle" font-weight="bold">###</text>
<text x="1555.0" y="1848.2" font-size="22" fill="#141414" text-anchor="middle"><tspan font-style="italic">P</tspan> &lt; 0.0001</text>
<text x="1303.0" y="2091.5" font-size="23.9" fill="#141414" text-anchor="middle" textLength="150.3" lengthAdjust="spacingAndGlyphs" transform="rotate(-90 1303.0 2091.5)">ICAM-1 mRNA</text>
<text x="1327.0" y="2091.6" font-size="23.9" fill="#141414" text-anchor="middle" textLength="241.8" lengthAdjust="spacingAndGlyphs" transform="rotate(-90 1327.0 2091.6)">expression level (fold)</text>
<rect x="1824.8" y="2157.8" width="45.8" height="115.7" fill="#4141fd"/>
<path d="M1827.55,2273.5 V2160.58 H1867.85 V2273.5" fill="none" stroke="#000" stroke-width="5.5"/>
<rect x="1894.7" y="2003.4" width="45.8" height="270.1" fill="#43fd3d"/>
<path d="M1897.45,2273.5 V2006.17 H1937.75 V2273.5" fill="none" stroke="#000" stroke-width="5.5"/>
<rect x="1964.3" y="2145.4" width="45.8" height="128.1" fill="#c244e6"/>
<path d="M1967.05,2273.5 V2148.18 H2007.35 V2273.5" fill="none" stroke="#000" stroke-width="5.5"/>
<line x1="1801.0" y1="1922.3" x2="1801.0" y2="2274.2" stroke="#262626" stroke-width="1.6"/>
<line x1="1790.2" y1="2273.5" x2="2036.0" y2="2273.5" stroke="#262626" stroke-width="1.6"/>
<line x1="1790.2" y1="2273.5" x2="1801.0" y2="2273.5" stroke="#262626" stroke-width="1.6"/>
<text x="1782.0" y="2280.3" font-size="19.5" fill="#141414" text-anchor="end">0</text>
<line x1="1790.2" y1="2215.0" x2="1801.0" y2="2215.0" stroke="#262626" stroke-width="1.6"/>
<text x="1782.0" y="2221.8" font-size="19.5" fill="#141414" text-anchor="end">0.5</text>
<line x1="1790.2" y1="2156.4" x2="1801.0" y2="2156.4" stroke="#262626" stroke-width="1.6"/>
<text x="1782.0" y="2163.3" font-size="19.5" fill="#141414" text-anchor="end">1.0</text>
<line x1="1790.2" y1="2097.9" x2="1801.0" y2="2097.9" stroke="#262626" stroke-width="1.6"/>
<text x="1782.0" y="2104.7" font-size="19.5" fill="#141414" text-anchor="end">1.5</text>
<line x1="1790.2" y1="2039.4" x2="1801.0" y2="2039.4" stroke="#262626" stroke-width="1.6"/>
<text x="1782.0" y="2046.2" font-size="19.5" fill="#141414" text-anchor="end">2.0</text>
<line x1="1790.2" y1="1980.8" x2="1801.0" y2="1980.8" stroke="#262626" stroke-width="1.6"/>
<text x="1782.0" y="1987.7" font-size="19.5" fill="#141414" text-anchor="end">2.5</text>
<line x1="1790.2" y1="1922.3" x2="1801.0" y2="1922.3" stroke="#262626" stroke-width="1.6"/>
<text x="1782.0" y="1929.1" font-size="19.5" fill="#141414" text-anchor="end">3.0</text>
<line x1="1847.7" y1="2273.5" x2="1847.7" y2="2285.5" stroke="#262626" stroke-width="1.6"/>
<line x1="1917.6" y1="2273.5" x2="1917.6" y2="2285.5" stroke="#262626" stroke-width="1.6"/>
<line x1="1987.2" y1="2273.5" x2="1987.2" y2="2285.5" stroke="#262626" stroke-width="1.6"/>
<line x1="1847.7" y1="2176.4" x2="1847.7" y2="2137.3" stroke="#111" stroke-width="1.6"/>
<line x1="1835.7" y1="2137.3" x2="1859.7" y2="2137.3" stroke="#111" stroke-width="1.6"/>
<line x1="1835.7" y1="2176.4" x2="1859.7" y2="2176.4" stroke="#111" stroke-width="1.6"/>
<circle cx="1836.2" cy="2137.3" r="5.0" fill="none" stroke="#000" stroke-width="3.3"/>
<circle cx="1859.8" cy="2131.7" r="5.0" fill="none" stroke="#000" stroke-width="3.3"/>
<circle cx="1836.2" cy="2152.7" r="5.0" fill="none" stroke="#000" stroke-width="3.3"/>
<circle cx="1859.8" cy="2165.1" r="5.0" fill="none" stroke="#000" stroke-width="3.3"/>
<circle cx="1836.2" cy="2173.2" r="5.0" fill="none" stroke="#000" stroke-width="3.3"/>
<circle cx="1859.8" cy="2184.7" r="5.0" fill="none" stroke="#000" stroke-width="3.3"/>
<line x1="1917.6" y1="2036.0" x2="1917.6" y2="1969.9" stroke="#111" stroke-width="1.6"/>
<line x1="1905.6" y1="1969.9" x2="1929.6" y2="1969.9" stroke="#111" stroke-width="1.6"/>
<line x1="1905.6" y1="2036.0" x2="1929.6" y2="2036.0" stroke="#111" stroke-width="1.6"/>
<circle cx="1916.9" cy="1948.8" r="5.0" fill="none" stroke="#000" stroke-width="3.3"/>
<circle cx="1916.9" cy="1981.2" r="5.0" fill="none" stroke="#000" stroke-width="3.3"/>
<circle cx="1902.2" cy="2010.6" r="5.0" fill="none" stroke="#000" stroke-width="3.3"/>
<circle cx="1916.9" cy="2010.6" r="5.0" fill="none" stroke="#000" stroke-width="3.3"/>
<circle cx="1931.6" cy="2025.3" r="5.0" fill="none" stroke="#000" stroke-width="3.3"/>
<circle cx="1916.9" cy="2041.9" r="5.0" fill="none" stroke="#000" stroke-width="3.3"/>
<line x1="1987.2" y1="2166.7" x2="1987.2" y2="2123.3" stroke="#111" stroke-width="1.6"/>
<line x1="1975.2" y1="2123.3" x2="1999.2" y2="2123.3" stroke="#111" stroke-width="1.6"/>
<line x1="1975.2" y1="2166.7" x2="1999.2" y2="2166.7" stroke="#111" stroke-width="1.6"/>
<circle cx="1998.6" cy="2114.4" r="5.0" fill="none" stroke="#000" stroke-width="3.3"/>
<circle cx="1975.7" cy="2129.8" r="5.0" fill="none" stroke="#000" stroke-width="3.3"/>
<circle cx="1975.7" cy="2138.0" r="5.0" fill="none" stroke="#000" stroke-width="3.3"/>
<circle cx="1975.7" cy="2158.5" r="5.0" fill="none" stroke="#000" stroke-width="3.3"/>
<circle cx="1998.6" cy="2155.3" r="5.0" fill="none" stroke="#000" stroke-width="3.3"/>
<circle cx="1998.6" cy="2174.9" r="5.0" fill="none" stroke="#000" stroke-width="3.3"/>
<text x="1863.2" y="2305.5" font-size="23.9" fill="#141414" text-anchor="end" transform="rotate(-45 1863.2 2305.5)">WT</text>
<text x="1933.1" y="2305.5" font-size="23.9" fill="#141414" text-anchor="end" transform="rotate(-45 1933.1 2305.5)">KO-AAV (Zsgreen)</text>
<text x="2002.7" y="2305.5" font-size="23.9" fill="#141414" text-anchor="end" transform="rotate(-45 2002.7 2305.5)">KO-AAV (Nrg4)</text>
<line x1="1854.9" y1="1932.2" x2="1917.0" y2="1932.2" stroke="#000" stroke-width="4.6"/>
<text x="1886.6" y="1935.0" font-size="33" fill="#141414" text-anchor="middle">***</text>
<text x="1888.0" y="1899.5" font-size="22" fill="#141414" text-anchor="middle"><tspan font-style="italic">P</tspan> &lt; 0.0001</text>
<line x1="1917.6" y1="1851.5" x2="1985.5" y2="1851.5" stroke="#000" stroke-width="4.6"/>
<text x="1951.2" y="1840.9" font-size="18.5" fill="#141414" text-anchor="middle" font-weight="bold">###</text>
<text x="1953.4" y="1817.2" font-size="22" fill="#141414" text-anchor="middle"><tspan font-style="italic">P</tspan> &lt; 0.0001</text>
<text x="1699.7" y="2098.9" font-size="23.9" fill="#141414" text-anchor="middle" textLength="158.3" lengthAdjust="spacingAndGlyphs" transform="rotate(-90 1699.7 2098.9)">VCAM-1 mRNA</text>
<text x="1725.0" y="2097.3" font-size="23.9" fill="#141414" text-anchor="middle" textLength="243.4" lengthAdjust="spacingAndGlyphs" transform="rotate(-90 1725.0 2097.3)">expression level (fold)</text>
<defs>
<filter id="blur1" color-interpolation-filters="sRGB" x="-5%" y="-5%" width="110%" height="110%"><feGaussianBlur stdDeviation="4.5"/></filter>
<filter id="blur2" color-interpolation-filters="sRGB" x="-5%" y="-5%" width="110%" height="110%"><feGaussianBlur stdDeviation="5"/></filter>
<filter id="blur3" color-interpolation-filters="sRGB" x="-5%" y="-5%" width="110%" height="110%"><feGaussianBlur stdDeviation="9"/></filter>
<filter id="noise" color-interpolation-filters="sRGB" x="0" y="0" width="100%" height="100%">
  <feTurbulence type="fractalNoise" baseFrequency="0.11" numOctaves="3" seed="7" result="t"/>
  <feColorMatrix in="t" type="matrix" values="1 0 0 0 0  1 0 0 0 0  1 0 0 0 0  0 0 0 0 1" />
</filter>
<filter id="noise2" color-interpolation-filters="sRGB" x="0" y="0" width="100%" height="100%">
  <feTurbulence type="fractalNoise" baseFrequency="0.05" numOctaves="4" seed="19" result="t"/>
  <feColorMatrix in="t" type="matrix" values="1.6 0 0 0 -0.3  1.6 0 0 0 -0.3  1.6 0 0 0 -0.3  0 0 0 0 1" />
</filter>
<filter id="speck" color-interpolation-filters="sRGB" x="0" y="0" width="100%" height="100%">
  <feTurbulence type="fractalNoise" baseFrequency="0.18" numOctaves="1" seed="11" result="t"/>
  <feColorMatrix in="t" type="matrix" values="0 0 0 0 0.85  0 0 0 0 0.04  0 0 0 0 0.08  26 0 0 0 -18" result="c"/>
  <feComposite in="c" in2="SourceGraphic" operator="in"/>
</filter>
<pattern id="stripes" patternUnits="userSpaceOnUse" width="26" height="26" patternTransform="rotate(-20)">
  <rect width="26" height="26" fill="#ececec"/><rect width="9" height="26" fill="#c9c9c9"/>
</pattern>
<pattern id="stripes2" patternUnits="userSpaceOnUse" width="26" height="26" patternTransform="rotate(15)">
  <rect width="26" height="26" fill="#e9e9e9"/><rect width="9" height="26" fill="#c4c4c4"/>
</pattern>
<pattern id="stripes3" patternUnits="userSpaceOnUse" width="24" height="24" patternTransform="rotate(-5)">
  <rect width="24" height="24" fill="#f0f0f0"/><rect width="8" height="24" fill="#cdcdcd"/>
</pattern>
<clipPath id="cFL1"><rect x="0" y="0" width="1748" height="915"/></clipPath>
<clipPath id="cEM"><rect x="0" y="0" width="1748" height="1363"/></clipPath>
</defs>
<g transform="translate(565,79) scale(0.265446)" clip-path="url(#cFL1)">
<rect x="0.0" y="0.0" width="1748.0" height="915.0" fill="#000"/>
<circle cx="1089" cy="777" r="3.2" fill="#d01010"/>
<circle cx="1390" cy="884" r="3.2" fill="#d01010"/>
<circle cx="1293" cy="873" r="3.2" fill="#d01010"/>
<circle cx="51" cy="629" r="3.2" fill="#d01010"/>
<circle cx="1649" cy="727" r="3.2" fill="#d01010"/>
<circle cx="1575" cy="441" r="3.2" fill="#d01010"/>
<circle cx="820" cy="512" r="3.2" fill="#d01010"/>
<circle cx="950" cy="687" r="3.2" fill="#d01010"/>
<circle cx="23" cy="496" r="3.2" fill="#d01010"/>
<circle cx="489" cy="870" r="3.2" fill="#d01010"/>
<circle cx="1338" cy="465" r="3.2" fill="#d01010"/>
<circle cx="1393" cy="454" r="3.2" fill="#d01010"/>
<circle cx="1079" cy="448" r="3.2" fill="#d01010"/>
<circle cx="3" cy="846" r="3.2" fill="#d01010"/>
<circle cx="366" cy="495" r="3.2" fill="#d01010"/>
<circle cx="1717" cy="847" r="3.2" fill="#d01010"/>
<circle cx="506" cy="894" r="3.2" fill="#d01010"/>
<circle cx="943" cy="743" r="3.2" fill="#d01010"/>
<circle cx="358" cy="883" r="3.2" fill="#d01010"/>
<circle cx="1207" cy="897" r="3.2" fill="#d01010"/>
<circle cx="1562" cy="540" r="3.2" fill="#d01010"/>
<circle cx="631" cy="469" r="3.2" fill="#d01010"/>
<circle cx="255" cy="415" r="3.2" fill="#d01010"/>
<circle cx="527" cy="703" r="3.2" fill="#d01010"/>
<circle cx="6" cy="743" r="3.2" fill="#d01010"/>
<circle cx="591" cy="546" r="3.2" fill="#d01010"/>
<circle cx="1431" cy="637" r="3.2" fill="#d01010"/>
<circle cx="552" cy="637" r="3.2" fill="#d01010"/>
<circle cx="1232" cy="410" r="3.2" fill="#d01010"/>
<circle cx="1704" cy="392" r="3.2" fill="#d01010"/>
<circle cx="1311" cy="832" r="3.2" fill="#d01010"/>
<circle cx="32" cy="801" r="3.2" fill="#d01010"/>
<circle cx="640" cy="690" r="3.2" fill="#d01010"/>
<circle cx="16" cy="405" r="3.2" fill="#d01010"/>
<circle cx="316" cy="891" r="3.2" fill="#d01010"/>
<circle cx="344" cy="784" r="3.2" fill="#d01010"/>
<circle cx="1625" cy="884" r="3.2" fill="#d01010"/>
<circle cx="602" cy="570" r="3.2" fill="#d01010"/>
<circle cx="917" cy="795" r="3.2" fill="#d01010"/>
<circle cx="189" cy="780" r="3.2" fill="#d01010"/>
<circle cx="1394" cy="840" r="3.2" fill="#d01010"/>
<circle cx="64" cy="886" r="3.2" fill="#d01010"/>
<circle cx="159" cy="562" r="3.2" fill="#d01010"/>
<circle cx="1068" cy="871" r="3.2" fill="#d01010"/>
<circle cx="594" cy="874" r="3.2" fill="#d01010"/>
<circle cx="953" cy="547" r="3.2" fill="#d01010"/>
<circle cx="554" cy="475" r="3.2" fill="#d01010"/>
<circle cx="137" cy="460" r="3.2" fill="#d01010"/>
<circle cx="1205" cy="913" r="3.2" fill="#d01010"/>
<circle cx="282" cy="406" r="3.2" fill="#d01010"/>
<circle cx="1725" cy="665" r="3.2" fill="#d01010"/>
<circle cx="709" cy="507" r="3.2" fill="#d01010"/>
<circle cx="1038" cy="822" r="3.2" fill="#d01010"/>
<circle cx="797" cy="606" r="3.2" fill="#d01010"/>
<circle cx="97" cy="870" r="3.2" fill="#d01010"/>
<circle cx="57" cy="644" r="3.2" fill="#d01010"/>
<circle cx="1466" cy="450" r="3.2" fill="#d01010"/>
<circle cx="1279" cy="888" r="3.2" fill="#d01010"/>
<circle cx="1102" cy="802" r="3.2" fill="#d01010"/>
<circle cx="186" cy="612" r="3.2" fill="#d01010"/>
<circle cx="261" cy="832" r="3.2" fill="#d01010"/>
<circle cx="515" cy="622" r="3.2" fill="#d01010"/>
<circle cx="1747" cy="836" r="3.2" fill="#d01010"/>
<circle cx="1706" cy="623" r="3.2" fill="#d01010"/>
<circle cx="853" cy="770" r="3.2" fill="#d01010"/>
<circle cx="837" cy="536" r="3.2" fill="#d01010"/>
<circle cx="706" cy="458" r="3.2" fill="#d01010"/>
<circle cx="659" cy="909" r="3.2" fill="#d01010"/>
<circle cx="1678" cy="715" r="3.2" fill="#d01010"/>
<circle cx="873" cy="561" r="3.2" fill="#d01010"/>
<g filter="url(#blur1)">
<ellipse cx="75" cy="312" rx="16" ry="14" transform="rotate(0 75 312)" fill="#1c1cff"/>
<ellipse cx="205" cy="350" rx="26" ry="14" transform="rotate(0 205 350)" fill="#1c1cff"/>
<ellipse cx="140" cy="440" rx="15" ry="30" transform="rotate(0 140 440)" fill="#1c1cff"/>
<ellipse cx="305" cy="522" rx="20" ry="10" transform="rotate(-20 305 522)" fill="#1c1cff"/>
<ellipse cx="190" cy="567" rx="20" ry="10" transform="rotate(20 190 567)" fill="#1c1cff"/>
<ellipse cx="470" cy="383" rx="15" ry="12" transform="rotate(0 470 383)" fill="#1c1cff"/>
<ellipse cx="440" cy="478" rx="10" ry="13" transform="rotate(0 440 478)" fill="#1c1cff"/>
<ellipse cx="540" cy="488" rx="16" ry="13" transform="rotate(0 540 488)" fill="#1c1cff"/>
<ellipse cx="507" cy="540" rx="12" ry="32" transform="rotate(-25 507 540)" fill="#1c1cff"/>
<ellipse cx="610" cy="400" rx="18" ry="10" transform="rotate(0 610 400)" fill="#1c1cff"/>
<ellipse cx="685" cy="460" rx="14" ry="15" transform="rotate(0 685 460)" fill="#1c1cff"/>
<ellipse cx="613" cy="633" rx="15" ry="37" transform="rotate(45 613 633)" fill="#1c1cff"/>
<ellipse cx="475" cy="638" rx="25" ry="9" transform="rotate(30 475 638)" fill="#1c1cff"/>
<ellipse cx="265" cy="680" rx="40" ry="12" transform="rotate(30 265 680)" fill="#1c1cff"/>
<ellipse cx="60" cy="705" rx="32" ry="10" transform="rotate(45 60 705)" fill="#1c1cff"/>
<ellipse cx="250" cy="768" rx="18" ry="12" transform="rotate(0 250 768)" fill="#1c1cff"/>
<ellipse cx="160" cy="810" rx="10" ry="12" transform="rotate(0 160 810)" fill="#1c1cff"/>
<ellipse cx="838" cy="365" rx="8" ry="18" transform="rotate(0 838 365)" fill="#1c1cff"/>
<ellipse cx="910" cy="397" rx="35" ry="15" transform="rotate(0 910 397)" fill="#1c1cff"/>
<ellipse cx="905" cy="530" rx="8" ry="18" transform="rotate(0 905 530)" fill="#1c1cff"/>
<ellipse cx="1135" cy="492" rx="20" ry="18" transform="rotate(0 1135 492)" fill="#1c1cff"/>
<ellipse cx="913" cy="743" rx="15" ry="8" transform="rotate(0 913 743)" fill="#1c1cff"/>
<ellipse cx="1080" cy="775" rx="15" ry="10" transform="rotate(0 1080 775)" fill="#1c1cff"/>
<ellipse cx="1188" cy="755" rx="25" ry="15" transform="rotate(-20 1188 755)" fill="#1c1cff"/>
<ellipse cx="1215" cy="658" rx="20" ry="8" transform="rotate(10 1215 658)" fill="#1c1cff"/>
<ellipse cx="730" cy="850" rx="28" ry="12" transform="rotate(-10 730 850)" fill="#1c1cff"/>
<ellipse cx="815" cy="835" rx="32" ry="13" transform="rotate(0 815 835)" fill="#1c1cff"/>
<ellipse cx="935" cy="825" rx="32" ry="12" transform="rotate(10 935 825)" fill="#1c1cff"/>
<ellipse cx="910" cy="888" rx="16" ry="12" transform="rotate(0 910 888)" fill="#1c1cff"/>
<ellipse cx="1410" cy="715" rx="55" ry="10" transform="rotate(-25 1410 715)" fill="#1c1cff"/>
<ellipse cx="1580" cy="790" rx="45" ry="8" transform="rotate(-25 1580 790)" fill="#1c1cff"/>
<ellipse cx="1420" cy="805" rx="20" ry="12" transform="rotate(0 1420 805)" fill="#1c1cff"/>
<ellipse cx="1330" cy="845" rx="30" ry="8" transform="rotate(-20 1330 845)" fill="#1c1cff"/>
<ellipse cx="1610" cy="420" rx="14" ry="36" transform="rotate(30 1610 420)" fill="#1c1cff"/>
<ellipse cx="1600" cy="345" rx="20" ry="12" transform="rotate(0 1600 345)" fill="#1c1cff"/>
<ellipse cx="1680" cy="505" rx="15" ry="18" transform="rotate(0 1680 505)" fill="#1c1cff"/>
<ellipse cx="1690" cy="395" rx="15" ry="10" transform="rotate(0 1690 395)" fill="#1c1cff"/>
<ellipse cx="1470" cy="488" rx="10" ry="10" transform="rotate(0 1470 488)" fill="#1c1cff"/>
<ellipse cx="1715" cy="695" rx="26" ry="15" transform="rotate(-40 1715 695)" fill="#1c1cff"/>
<ellipse cx="1725" cy="590" rx="15" ry="20" transform="rotate(0 1725 590)" fill="#1c1cff"/>
<ellipse cx="1560" cy="625" rx="12" ry="8" transform="rotate(0 1560 625)" fill="#1c1cff"/>
<ellipse cx="1440" cy="905" rx="10" ry="8" transform="rotate(0 1440 905)" fill="#1c1cff"/>
<ellipse cx="1650" cy="550" rx="10" ry="10" transform="rotate(0 1650 550)" fill="#1c1cff"/>
<ellipse cx="20" cy="650" rx="8" ry="20" transform="rotate(0 20 650)" fill="#1c1cff"/>
<ellipse cx="1155" cy="25" rx="12" ry="14" transform="rotate(0 1155 25)" fill="#1c1cff"/>
<ellipse cx="840" cy="740" rx="8" ry="12" transform="rotate(0 840 740)" fill="#1c1cff"/>
<ellipse cx="1250" cy="875" rx="15" ry="6" transform="rotate(0 1250 875)" fill="#1c1cff"/>
<ellipse cx="470" cy="830" rx="12" ry="6" transform="rotate(0 470 830)" fill="#1c1cff"/>
<ellipse cx="360" cy="600" rx="10" ry="8" transform="rotate(0 360 600)" fill="#1c1cff"/>
</g>
<path d="M0,235 C7.5,237.5 35.8,235.8 45,250 C54.2,264.2 49.2,304.2 55,320 C60.8,335.8 70.8,338.3 80,345 C89.2,351.7 93.3,356.7 110,360 C126.7,363.3 160.0,363.0 180,365 C200.0,367.0 216.7,366.2 230,372 C243.3,377.8 250.8,385.3 260,400 C269.2,414.7 278.3,445.5 285,460 C291.7,474.5 295.0,485.3 300,487 C305.0,488.7 311.7,481.2 315,470 C318.3,458.8 315.0,433.3 320,420 C325.0,406.7 331.7,397.0 345,390 C358.3,383.0 380.8,379.7 400,378 C419.2,376.3 445.0,376.3 460,380 C475.0,383.7 476.7,399.2 490,400 C503.3,400.8 521.7,385.8 540,385 C558.3,384.2 583.3,389.2 600,395 C616.7,400.8 625.0,407.5 640,420 C655.0,432.5 676.7,456.7 690,470 C703.3,483.3 710.0,493.3 720,500 C730.0,506.7 741.3,512.0 750,510 C758.7,508.0 765.3,503.0 772,488 C778.7,473.0 780.3,436.3 790,420 C799.7,403.7 815.0,391.7 830,390 C845.0,388.3 858.3,406.7 880,410 C901.7,413.3 938.3,405.0 960,410 C981.7,415.0 996.7,428.3 1010,440 C1023.3,451.7 1032.5,471.3 1040,480 C1047.5,488.7 1052.5,490.0 1055,492" fill="none" stroke="#2bd82b" stroke-width="22" stroke-linejoin="round" stroke-linecap="round" opacity="0.35" filter="url(#blur1)"/>
<path d="M0,235 C7.5,237.5 35.8,235.8 45,250 C54.2,264.2 49.2,304.2 55,320 C60.8,335.8 70.8,338.3 80,345 C89.2,351.7 93.3,356.7 110,360 C126.7,363.3 160.0,363.0 180,365 C200.0,367.0 216.7,366.2 230,372 C243.3,377.8 250.8,385.3 260,400 C269.2,414.7 278.3,445.5 285,460 C291.7,474.5 295.0,485.3 300,487 C305.0,488.7 311.7,481.2 315,470 C318.3,458.8 315.0,433.3 320,420 C325.0,406.7 331.7,397.0 345,390 C358.3,383.0 380.8,379.7 400,378 C419.2,376.3 445.0,376.3 460,380 C475.0,383.7 476.7,399.2 490,400 C503.3,400.8 521.7,385.8 540,385 C558.3,384.2 583.3,389.2 600,395 C616.7,400.8 625.0,407.5 640,420 C655.0,432.5 676.7,456.7 690,470 C703.3,483.3 710.0,493.3 720,500 C730.0,506.7 741.3,512.0 750,510 C758.7,508.0 765.3,503.0 772,488 C778.7,473.0 780.3,436.3 790,420 C799.7,403.7 815.0,391.7 830,390 C845.0,388.3 858.3,406.7 880,410 C901.7,413.3 938.3,405.0 960,410 C981.7,415.0 996.7,428.3 1010,440 C1023.3,451.7 1032.5,471.3 1040,480 C1047.5,488.7 1052.5,490.0 1055,492" fill="none" stroke="#38f038" stroke-width="8" stroke-linejoin="round" stroke-linecap="round"/>
<path d="M1110,405 C1121.7,410.8 1153.3,433.7 1180,440 C1206.7,446.3 1255.0,442.5 1270,443" fill="none" stroke="#2fc02f" stroke-width="5" stroke-linejoin="round" stroke-linecap="round"/>
<path d="M1340,470 C1342.0,475.8 1347.0,505.0 1352,505 C1357.0,505.0 1365.3,484.2 1370,470 C1374.7,455.8 1371.7,435.0 1380,420 C1388.3,405.0 1403.3,387.5 1420,380 C1436.7,372.5 1463.3,370.0 1480,375 C1496.7,380.0 1509.2,397.5 1520,410 C1530.8,422.5 1538.0,446.7 1545,450 C1552.0,453.3 1554.5,444.7 1562,430 C1569.5,415.3 1577.0,377.0 1590,362 C1603.0,347.0 1621.7,345.3 1640,340 C1658.3,334.7 1682.0,332.5 1700,330 C1718.0,327.5 1740.0,325.8 1748,325" fill="none" stroke="#35e035" stroke-width="8" stroke-linejoin="round" stroke-linecap="round"/>
<g opacity="0.9">
<path d="M1640,320 C1646.7,313.3 1668.3,295.0 1680,280 C1691.7,265.0 1698.7,251.7 1710,230 C1721.3,208.3 1741.7,163.3 1748,150" fill="none" stroke="#2ec82e" stroke-width="6" stroke-linejoin="round" stroke-linecap="round"/>
<path d="M1650,300 C1658.3,295.0 1683.7,280.0 1700,270 C1716.3,260.0 1740.0,245.0 1748,240" fill="none" stroke="#2ec82e" stroke-width="6" stroke-linejoin="round" stroke-linecap="round"/>
<path d="M1660,310 C1670.0,306.7 1705.3,291.7 1720,290 C1734.7,288.3 1743.3,298.3 1748,300" fill="none" stroke="#2ec82e" stroke-width="6" stroke-linejoin="round" stroke-linecap="round"/>
<path d="M1690,250 C1695.0,241.7 1712.5,215.0 1720,200 C1727.5,185.0 1732.5,166.7 1735,160" fill="none" stroke="#2ec82e" stroke-width="6" stroke-linejoin="round" stroke-linecap="round"/>
<path d="M1670,280 C1675.0,270.0 1687.0,235.0 1700,220 C1713.0,205.0 1740.0,195.0 1748,190" fill="none" stroke="#2ec82e" stroke-width="6" stroke-linejoin="round" stroke-linecap="round"/>
<path d="M1700,300 C1708.0,295.0 1740.0,275.0 1748,270" fill="none" stroke="#2ec82e" stroke-width="6" stroke-linejoin="round" stroke-linecap="round"/>
</g>
<g filter="url(#blur1)">
<path d="M1275,165 L1300,160 L1310,180 L1280,185 Z" fill="#30c030"/>
</g>
<ellipse cx="75" cy="312" rx="15" ry="13" transform="rotate(0 75 312)" fill="#2222ff"/>
<ellipse cx="205" cy="350" rx="24" ry="13" transform="rotate(0 205 350)" fill="#2222ff"/>
<ellipse cx="910" cy="397" rx="33" ry="14" transform="rotate(0 910 397)" fill="#2222ff"/>
<ellipse cx="470" cy="383" rx="14" ry="11" transform="rotate(0 470 383)" fill="#2222ff"/>
<ellipse cx="1600" cy="345" rx="18" ry="11" transform="rotate(0 1600 345)" fill="#2222ff"/>
<rect x="1658.0" y="880.0" width="80.0" height="30.0" fill="#fff"/>
</g>
<g transform="translate(1038,79) scale(0.265446)" clip-path="url(#cFL1)">
<rect x="0.0" y="0.0" width="1748.0" height="915.0" fill="#030006"/>
<g fill="#1c6a1c" opacity="0.7">
<circle cx="43" cy="715" r="5.3"/>
<circle cx="377" cy="853" r="5.1"/>
<circle cx="319" cy="849" r="4.1"/>
<circle cx="233" cy="852" r="5.1"/>
<circle cx="141" cy="900" r="4.9"/>
<circle cx="392" cy="818" r="5.4"/>
<circle cx="167" cy="817" r="5.2"/>
<circle cx="405" cy="879" r="5.1"/>
<circle cx="469" cy="903" r="4.6"/>
<circle cx="402" cy="898" r="4.4"/>
<circle cx="332" cy="838" r="5.2"/>
<circle cx="82" cy="855" r="4.7"/>
<circle cx="299" cy="853" r="4.9"/>
<circle cx="77" cy="761" r="5.0"/>
<circle cx="105" cy="829" r="4.9"/>
<circle cx="20" cy="770" r="3.7"/>
<circle cx="26" cy="677" r="4.0"/>
<circle cx="87" cy="693" r="3.1"/>
<circle cx="223" cy="745" r="4.8"/>
<circle cx="17" cy="809" r="3.3"/>
<circle cx="279" cy="904" r="5.5"/>
<circle cx="201" cy="864" r="4.9"/>
<circle cx="286" cy="795" r="5.9"/>
<circle cx="169" cy="886" r="3.0"/>
<circle cx="52" cy="796" r="4.8"/>
<circle cx="68" cy="813" r="5.7"/>
<circle cx="180" cy="759" r="3.7"/>
<circle cx="140" cy="907" r="4.1"/>
<circle cx="461" cy="891" r="4.8"/>
<circle cx="125" cy="910" r="4.5"/>
<circle cx="199" cy="728" r="6.0"/>
<circle cx="141" cy="855" r="5.5"/>
<circle cx="6" cy="786" r="3.8"/>
<circle cx="449" cy="855" r="3.7"/>
<circle cx="292" cy="771" r="4.9"/>
<circle cx="290" cy="844" r="3.4"/>
<circle cx="142" cy="786" r="4.4"/>
<circle cx="173" cy="845" r="4.8"/>
<circle cx="17" cy="709" r="4.4"/>
<circle cx="440" cy="884" r="4.6"/>
<circle cx="7" cy="854" r="4.3"/>
<circle cx="276" cy="835" r="4.9"/>
<circle cx="231" cy="891" r="4.2"/>
<circle cx="188" cy="874" r="3.6"/>
<circle cx="142" cy="868" r="3.2"/>
<circle cx="401" cy="831" r="4.3"/>
<circle cx="137" cy="855" r="5.7"/>
<circle cx="68" cy="772" r="4.6"/>
<circle cx="74" cy="801" r="5.4"/>
<circle cx="33" cy="703" r="5.5"/>
<circle cx="380" cy="822" r="3.1"/>
<circle cx="347" cy="909" r="6.0"/>
<circle cx="310" cy="902" r="5.1"/>
<circle cx="65" cy="720" r="5.8"/>
<circle cx="72" cy="808" r="4.2"/>
<circle cx="77" cy="811" r="3.1"/>
<circle cx="52" cy="744" r="3.2"/>
<circle cx="28" cy="798" r="5.2"/>
<circle cx="207" cy="727" r="4.8"/>
<circle cx="235" cy="898" r="4.1"/>
<circle cx="27" cy="832" r="3.5"/>
<circle cx="303" cy="779" r="5.7"/>
<circle cx="266" cy="811" r="3.8"/>
<circle cx="64" cy="704" r="4.1"/>
<circle cx="342" cy="820" r="3.3"/>
<circle cx="60" cy="803" r="3.7"/>
<circle cx="155" cy="859" r="3.1"/>
<circle cx="72" cy="902" r="5.0"/>
<circle cx="113" cy="732" r="4.8"/>
<circle cx="167" cy="746" r="3.4"/>
<circle cx="399" cy="818" r="5.4"/>
<circle cx="208" cy="874" r="4.6"/>
</g>
<path d="M0,300 L60,300 L120,300 L170,290 L210,300 L250,330 L275,315 L300,290 L360,300 L420,320 L460,335 L490,320 L520,290 L560,285 L620,300 L680,310 L710,340 L730,290 L800,285 L860,300 L900,350 L920,365 L960,345 L1020,330 L1060,340 L1100,320 L1150,295 L1250,290 L1350,300 L1420,320 L1480,340 L1560,350 L1650,360 L1748,368 L1748,700 L1600,690 L1400,740 L1200,700 L1000,740 L900,720 L800,770 L600,810 L450,780 L350,700 L200,600 L0,640 Z" fill="#22050f"/>
<g opacity="0.6">
<path d="M0,300 L60,300 L120,300 L170,290 L210,300 L250,330 L275,315 L300,290 L360,300 L420,320 L460,335 L490,320 L520,290 L560,285 L620,300 L680,310 L710,340 L730,290 L800,285 L860,300 L900,350 L920,365 L960,345 L1020,330 L1060,340 L1100,320 L1150,295 L1250,290 L1350,300 L1420,320 L1480,340 L1560,350 L1650,360 L1748,368 L1748,700 L1600,690 L1400,740 L1200,700 L1000,740 L900,720 L800,770 L600,810 L450,780 L350,700 L200,600 L0,640 Z" fill="#000" filter="url(#speck)"/>
</g>
<clipPath id="cT2"><path d="M0,300 L60,300 L120,300 L170,290 L210,300 L250,330 L275,315 L300,290 L360,300 L420,320 L460,335 L490,320 L520,290 L560,285 L620,300 L680,310 L710,340 L730,290 L800,285 L860,300 L900,350 L920,365 L960,345 L1020,330 L1060,340 L1100,320 L1150,295 L1250,290 L1350,300 L1420,320 L1480,340 L1560,350 L1650,360 L1748,368 L1748,700 L1600,690 L1400,740 L1200,700 L1000,740 L900,720 L800,770 L600,810 L450,780 L350,700 L200,600 L0,640 Z"/></clipPath>
<g clip-path="url(#cT2)">
<path d="M0,440 C16.7,438.3 66.7,426.7 100,430 C133.3,433.3 166.7,460.0 200,460 C233.3,460.0 270.0,428.3 300,430 C330.0,431.7 355.0,471.7 380,470 C405.0,468.3 426.7,420.0 450,420 C473.3,420.0 495.0,466.7 520,470 C545.0,473.3 570.0,441.7 600,440 C630.0,438.3 670.0,463.3 700,460 C730.0,456.7 753.3,421.7 780,420 C806.7,418.3 833.3,448.3 860,450 C886.7,451.7 916.7,426.7 940,430 C963.3,433.3 976.7,470.0 1000,470 C1023.3,470.0 1055.0,433.3 1080,430 C1105.0,426.7 1121.7,453.3 1150,450 C1178.3,446.7 1216.7,410.0 1250,410 C1283.3,410.0 1316.7,448.3 1350,450 C1383.3,451.7 1416.7,420.0 1450,420 C1483.3,420.0 1516.7,446.7 1550,450 C1583.3,453.3 1617.0,440.0 1650,440 C1683.0,440.0 1731.7,448.3 1748,450" fill="none" stroke="#0c1d26" stroke-width="15" stroke-linejoin="round" stroke-linecap="round"/>
<path d="M0,530 C15.0,526.7 60.0,505.0 90,510 C120.0,515.0 151.7,558.3 180,560 C208.3,561.7 235.0,520.0 260,520 C285.0,520.0 303.3,560.0 330,560 C356.7,560.0 391.7,520.0 420,520 C448.3,520.0 470.0,560.0 500,560 C530.0,560.0 570.0,518.3 600,520 C630.0,521.7 653.3,566.7 680,570 C706.7,573.3 731.7,538.3 760,540 C788.3,541.7 818.3,580.0 850,580 C881.7,580.0 920.0,543.3 950,540 C980.0,536.7 1001.7,563.3 1030,560 C1058.3,556.7 1091.7,520.0 1120,520 C1148.3,520.0 1170.0,556.7 1200,560 C1230.0,563.3 1270.0,536.7 1300,540 C1330.0,543.3 1353.3,580.0 1380,580 C1406.7,580.0 1430.0,543.3 1460,540 C1490.0,536.7 1528.3,563.3 1560,560 C1591.7,556.7 1618.7,523.3 1650,520 C1681.3,516.7 1731.7,536.7 1748,540" fill="none" stroke="#0c1d26" stroke-width="15" stroke-linejoin="round" stroke-linecap="round"/>
<path d="M0,620 C20.0,616.7 83.3,596.7 120,600 C156.7,603.3 185.0,638.3 220,640 C255.0,641.7 296.7,603.3 330,610 C363.3,616.7 388.3,675.0 420,680 C451.7,685.0 486.7,650.0 520,640 C553.3,630.0 586.7,616.7 620,620 C653.3,623.3 686.7,656.7 720,660 C753.3,663.3 790.0,646.7 820,640 C850.0,633.3 870.0,616.7 900,620 C930.0,623.3 966.7,658.3 1000,660 C1033.3,661.7 1066.7,626.7 1100,630 C1133.3,633.3 1166.7,675.0 1200,680 C1233.3,685.0 1266.7,658.3 1300,660 C1333.3,661.7 1366.7,691.7 1400,690 C1433.3,688.3 1466.7,658.3 1500,650 C1533.3,641.7 1566.7,638.3 1600,640 C1633.3,641.7 1675.3,658.3 1700,660 C1724.7,661.7 1740.0,651.7 1748,650" fill="none" stroke="#0c1d26" stroke-width="15" stroke-linejoin="round" stroke-linecap="round"/>
<path d="M100,680 C116.7,676.7 166.7,653.3 200,660 C233.3,666.7 266.7,703.3 300,720 C333.3,736.7 366.7,758.3 400,760 C433.3,761.7 466.7,728.3 500,730 C533.3,731.7 566.7,768.3 600,770 C633.3,771.7 666.7,748.3 700,740 C733.3,731.7 766.7,726.7 800,720 C833.3,713.3 866.7,700.0 900,700 C933.3,700.0 950.0,721.7 1000,720 C1050.0,718.3 1133.3,690.0 1200,690 C1266.7,690.0 1333.3,721.7 1400,720 C1466.7,718.3 1542.0,685.0 1600,680 C1658.0,675.0 1723.3,688.3 1748,690" fill="none" stroke="#0c1d26" stroke-width="15" stroke-linejoin="round" stroke-linecap="round"/>
</g>
<g filter="url(#blur1)">
<ellipse cx="370" cy="350" rx="21.25" ry="12.75" transform="rotate(0 370 350)" fill="#a030d0" opacity="0.8"/>
<ellipse cx="215" cy="440" rx="21.25" ry="8.5" transform="rotate(-30 215 440)" fill="#b040e0" opacity="0.8"/>
<ellipse cx="300" cy="463" rx="12.75" ry="12.75" transform="rotate(0 300 463)" fill="#5050ff" opacity="0.8"/>
<ellipse cx="350" cy="480" rx="8.5" ry="8.5" transform="rotate(0 350 480)" fill="#5050ff" opacity="0.8"/>
<ellipse cx="130" cy="520" rx="15.299999999999999" ry="8.5" transform="rotate(-30 130 520)" fill="#b040e0" opacity="0.8"/>
<ellipse cx="165" cy="530" rx="17.0" ry="12.75" transform="rotate(0 165 530)" fill="#c040e0" opacity="0.8"/>
<ellipse cx="400" cy="495" rx="17.0" ry="8.5" transform="rotate(-20 400 495)" fill="#c040e0" opacity="0.8"/>
<ellipse cx="440" cy="510" rx="8.5" ry="25.5" transform="rotate(20 440 510)" fill="#b040e0" opacity="0.8"/>
<ellipse cx="560" cy="400" rx="10.2" ry="23.8" transform="rotate(30 560 400)" fill="#a040e0" opacity="0.8"/>
<ellipse cx="580" cy="505" rx="29.75" ry="8.5" transform="rotate(-40 580 505)" fill="#6040f0" opacity="0.8"/>
<ellipse cx="50" cy="580" rx="12.75" ry="10.2" transform="rotate(0 50 580)" fill="#c040e0" opacity="0.8"/>
<ellipse cx="100" cy="605" rx="21.25" ry="10.2" transform="rotate(-15 100 605)" fill="#c040e0" opacity="0.8"/>
<ellipse cx="170" cy="610" rx="21.25" ry="10.2" transform="rotate(-15 170 610)" fill="#a040f0" opacity="0.8"/>
<ellipse cx="375" cy="590" rx="8.5" ry="25.5" transform="rotate(-30 375 590)" fill="#4040ff" opacity="0.8"/>
<ellipse cx="610" cy="680" rx="12.75" ry="12.75" transform="rotate(0 610 680)" fill="#6040ff" opacity="0.8"/>
<ellipse cx="740" cy="745" rx="12.75" ry="34.0" transform="rotate(30 740 745)" fill="#a040f0" opacity="0.8"/>
<ellipse cx="800" cy="365" rx="34.0" ry="15.299999999999999" transform="rotate(-15 800 365)" fill="#a040e0" opacity="0.8"/>
<ellipse cx="680" cy="630" rx="29.75" ry="8.5" transform="rotate(-20 680 630)" fill="#6040f0" opacity="0.8"/>
<ellipse cx="940" cy="490" rx="34.0" ry="21.25" transform="rotate(0 940 490)" fill="#c040f0" opacity="0.8"/>
<ellipse cx="905" cy="485" rx="12.75" ry="10.2" transform="rotate(0 905 485)" fill="#b040e0" opacity="0.8"/>
<ellipse cx="1040" cy="385" rx="21.25" ry="12.75" transform="rotate(0 1040 385)" fill="#6040f0" opacity="0.8"/>
<ellipse cx="1125" cy="450" rx="17.0" ry="8.5" transform="rotate(0 1125 450)" fill="#7040f0" opacity="0.8"/>
<ellipse cx="1095" cy="590" rx="10.2" ry="25.5" transform="rotate(30 1095 590)" fill="#6040f0" opacity="0.8"/>
<ellipse cx="1250" cy="370" rx="25.5" ry="10.2" transform="rotate(-30 1250 370)" fill="#b040e0" opacity="0.8"/>
<ellipse cx="1300" cy="590" rx="34.0" ry="21.25" transform="rotate(0 1300 590)" fill="#c040f0" opacity="0.8"/>
<ellipse cx="1450" cy="595" rx="21.25" ry="17.0" transform="rotate(0 1450 595)" fill="#c040f0" opacity="0.8"/>
<ellipse cx="1465" cy="420" rx="17.0" ry="15.299999999999999" transform="rotate(0 1465 420)" fill="#9040f0" opacity="0.8"/>
<ellipse cx="1430" cy="500" rx="21.25" ry="10.2" transform="rotate(10 1430 500)" fill="#b040f0" opacity="0.8"/>
<ellipse cx="1405" cy="360" rx="25.5" ry="8.5" transform="rotate(0 1405 360)" fill="#b040e0" opacity="0.8"/>
<ellipse cx="1690" cy="595" rx="25.5" ry="17.0" transform="rotate(0 1690 595)" fill="#b040f0" opacity="0.8"/>
<ellipse cx="1680" cy="445" rx="21.25" ry="10.2" transform="rotate(0 1680 445)" fill="#c030d0" opacity="0.8"/>
<ellipse cx="610" cy="805" rx="17.0" ry="6.8" transform="rotate(0 610 805)" fill="#b030e0" opacity="0.8"/>
<ellipse cx="890" cy="720" rx="15.299999999999999" ry="6.8" transform="rotate(0 890 720)" fill="#a040f0" opacity="0.8"/>
<ellipse cx="830" cy="690" rx="8.5" ry="6.8" transform="rotate(0 830 690)" fill="#6040f0" opacity="0.8"/>
<ellipse cx="780" cy="365" rx="12.75" ry="10.2" transform="rotate(0 780 365)" fill="#4040ff" opacity="0.8"/>
<ellipse cx="1735" cy="520" rx="10.2" ry="6.8" transform="rotate(0 1735 520)" fill="#a040f0" opacity="0.8"/>
</g>
<g filter="url(#blur1)">
<ellipse cx="295" cy="290" rx="22" ry="35" transform="rotate(0 295 290)" fill="#2f9a4a"/>
<ellipse cx="700" cy="315" rx="18" ry="30" transform="rotate(0 700 315)" fill="#2f9a4a"/>
<ellipse cx="860" cy="320" rx="30" ry="35" transform="rotate(0 860 320)" fill="#2f9a4a"/>
<ellipse cx="1135" cy="300" rx="25" ry="12" transform="rotate(0 1135 300)" fill="#2f9a4a"/>
<ellipse cx="1430" cy="315" rx="40" ry="18" transform="rotate(0 1430 315)" fill="#2f9a4a"/>
<ellipse cx="1720" cy="310" rx="10" ry="20" transform="rotate(0 1720 310)" fill="#2f9a4a"/>
</g>
<path d="M0,300 C10.0,300.0 40.0,300.0 60,300 C80.0,300.0 101.7,301.7 120,300 C138.3,298.3 155.0,290.0 170,290 C185.0,290.0 196.7,293.3 210,300 C223.3,306.7 239.2,327.5 250,330 C260.8,332.5 266.7,321.7 275,315 C283.3,308.3 285.8,292.5 300,290 C314.2,287.5 340.0,295.0 360,300 C380.0,305.0 403.3,314.2 420,320 C436.7,325.8 448.3,335.0 460,335 C471.7,335.0 480.0,327.5 490,320 C500.0,312.5 508.3,295.8 520,290 C531.7,284.2 543.3,283.3 560,285 C576.7,286.7 600.0,295.8 620,300 C640.0,304.2 665.0,303.3 680,310 C695.0,316.7 701.7,343.3 710,340 C718.3,336.7 715.0,299.2 730,290 C745.0,280.8 778.3,283.3 800,285 C821.7,286.7 843.3,289.2 860,300 C876.7,310.8 890.0,339.2 900,350 C910.0,360.8 910.0,365.8 920,365 C930.0,364.2 943.3,350.8 960,345 C976.7,339.2 1003.3,330.8 1020,330 C1036.7,329.2 1046.7,341.7 1060,340 C1073.3,338.3 1085.0,327.5 1100,320 C1115.0,312.5 1125.0,300.0 1150,295 C1175.0,290.0 1216.7,289.2 1250,290 C1283.3,290.8 1321.7,295.0 1350,300 C1378.3,305.0 1398.3,313.3 1420,320 C1441.7,326.7 1456.7,335.0 1480,340 C1503.3,345.0 1531.7,346.7 1560,350 C1588.3,353.3 1618.7,357.0 1650,360 C1681.3,363.0 1731.7,366.7 1748,368" fill="none" stroke="#1e8a1e" stroke-width="24" stroke-linejoin="round" stroke-linecap="round" opacity="0.5" filter="url(#blur1)"/>
<path d="M0,300 C10.0,300.0 40.0,300.0 60,300 C80.0,300.0 101.7,301.7 120,300 C138.3,298.3 155.0,290.0 170,290 C185.0,290.0 196.7,293.3 210,300 C223.3,306.7 239.2,327.5 250,330 C260.8,332.5 266.7,321.7 275,315 C283.3,308.3 285.8,292.5 300,290 C314.2,287.5 340.0,295.0 360,300 C380.0,305.0 403.3,314.2 420,320 C436.7,325.8 448.3,335.0 460,335 C471.7,335.0 480.0,327.5 490,320 C500.0,312.5 508.3,295.8 520,290 C531.7,284.2 543.3,283.3 560,285 C576.7,286.7 600.0,295.8 620,300 C640.0,304.2 665.0,303.3 680,310 C695.0,316.7 701.7,343.3 710,340 C718.3,336.7 715.0,299.2 730,290 C745.0,280.8 778.3,283.3 800,285 C821.7,286.7 843.3,289.2 860,300 C876.7,310.8 890.0,339.2 900,350 C910.0,360.8 910.0,365.8 920,365 C930.0,364.2 943.3,350.8 960,345 C976.7,339.2 1003.3,330.8 1020,330 C1036.7,329.2 1046.7,341.7 1060,340 C1073.3,338.3 1085.0,327.5 1100,320 C1115.0,312.5 1125.0,300.0 1150,295 C1175.0,290.0 1216.7,289.2 1250,290 C1283.3,290.8 1321.7,295.0 1350,300 C1378.3,305.0 1398.3,313.3 1420,320 C1441.7,326.7 1456.7,335.0 1480,340 C1503.3,345.0 1531.7,346.7 1560,350 C1588.3,353.3 1618.7,357.0 1650,360 C1681.3,363.0 1731.7,366.7 1748,368" fill="none" stroke="#3cf83c" stroke-width="8" stroke-linejoin="round" stroke-linecap="round"/>
<ellipse cx="305" cy="270" rx="12" ry="14" transform="rotate(0 305 270)" fill="#3a3aff"/>
<ellipse cx="1440" cy="310" rx="10" ry="10" transform="rotate(0 1440 310)" fill="#3a3aff"/>
<ellipse cx="1720" cy="350" rx="8" ry="8" transform="rotate(0 1720 350)" fill="#3a3aff"/>
<g filter="url(#blur1)">
<path d="M1260,0 L1748,0 L1748,210 L1715,215 L1690,200 L1720,170 L1730,120 L1690,100 L1660,130 L1620,120 L1560,100 L1520,90 L1500,60 L1450,70 L1400,75 L1360,50 L1300,20 Z" fill="#3ee83e"/>
<ellipse cx="1560" cy="80" rx="50" ry="25" transform="rotate(20 1560 80)" fill="#4a58d8"/>
<ellipse cx="1640" cy="110" rx="25" ry="15" transform="rotate(0 1640 110)" fill="#4050e0"/>
<ellipse cx="1620" cy="30" rx="80" ry="25" transform="rotate(0 1620 30)" fill="#7a6a30"/>
<ellipse cx="1700" cy="70" rx="40" ry="25" transform="rotate(0 1700 70)" fill="#5a4030"/>
</g>
<line x1="378.0" y1="195.0" x2="376.0" y2="260.0" stroke="#e8e8e8" stroke-width="4"/>
<path d="M354,260 L400,260 L377,306 Z" fill="#fff"/>
<line x1="595.0" y1="228.0" x2="593.0" y2="295.0" stroke="#e8e8e8" stroke-width="4"/>
<path d="M571,295 L617,295 L594,341 Z" fill="#fff"/>
<line x1="820.0" y1="208.0" x2="818.0" y2="275.0" stroke="#e8e8e8" stroke-width="4"/>
<path d="M796,275 L842,275 L819,321 Z" fill="#fff"/>
<line x1="1416.0" y1="222.0" x2="1414.0" y2="290.0" stroke="#e8e8e8" stroke-width="4"/>
<path d="M1392,290 L1438,290 L1415,336 Z" fill="#fff"/>
<line x1="1690.0" y1="305.0" x2="1688.0" y2="370.0" stroke="#e8e8e8" stroke-width="4"/>
<path d="M1666,370 L1712,370 L1689,416 Z" fill="#fff"/>
<rect x="1658.0" y="885.0" width="75.0" height="13.0" fill="#f0b020"/>
</g>
<g transform="translate(1511.3,79) scale(0.265446)" clip-path="url(#cFL1)">
<rect x="0.0" y="0.0" width="1748.0" height="915.0" fill="#000"/>
<path d="M900,0 L1748,0 L1748,915 L0,915 L0,775 L60,778 L110,775 L125,830 L130,780 L200,760 L220,790 L235,745 L280,720 L340,700 L380,695 L385,720 L420,660 L470,640 L510,650 L520,600 L560,570 L580,580 L600,530 L650,520 L665,535 L645,480 L700,445 L725,440 L720,410 L760,350 L790,320 L825,315 L800,250 L840,220 L870,170 L905,160 L880,120 L900,80 L925,55 L905,30 L900,0 Z" fill="#130106"/>
<g opacity="0.45">
<path d="M0,790 L300,730 L600,560 L800,350 L960,60 L1100,300 L1000,600 L700,915 L0,915 Z" fill="#000" filter="url(#speck)"/>
</g>
<g filter="url(#blur1)">
<ellipse cx="955" cy="155" rx="22" ry="55" transform="rotate(25 955 155)" fill="#2020f4"/>
<ellipse cx="1035" cy="175" rx="25" ry="70" transform="rotate(30 1035 175)" fill="#2020f4"/>
<ellipse cx="1155" cy="145" rx="18" ry="35" transform="rotate(20 1155 145)" fill="#2020f4"/>
<ellipse cx="1260" cy="125" rx="15" ry="12" transform="rotate(0 1260 125)" fill="#2020f4"/>
<ellipse cx="1330" cy="180" rx="10" ry="35" transform="rotate(25 1330 180)" fill="#2020f4"/>
<ellipse cx="1385" cy="55" rx="15" ry="18" transform="rotate(0 1385 55)" fill="#2020f4"/>
<ellipse cx="1515" cy="150" rx="22" ry="18" transform="rotate(0 1515 150)" fill="#2020f4"/>
<ellipse cx="1690" cy="125" rx="12" ry="30" transform="rotate(0 1690 125)" fill="#2020f4"/>
<ellipse cx="1740" cy="175" rx="12" ry="40" transform="rotate(0 1740 175)" fill="#2020f4"/>
<ellipse cx="970" cy="355" rx="15" ry="30" transform="rotate(40 970 355)" fill="#2020f4"/>
<ellipse cx="780" cy="415" rx="25" ry="35" transform="rotate(0 780 415)" fill="#2020f4"/>
<ellipse cx="715" cy="430" rx="18" ry="20" transform="rotate(0 715 430)" fill="#2020f4"/>
<ellipse cx="750" cy="365" rx="15" ry="22" transform="rotate(0 750 365)" fill="#2020f4"/>
<ellipse cx="870" cy="160" rx="15" ry="20" transform="rotate(0 870 160)" fill="#2020f4"/>
<ellipse cx="845" cy="215" rx="12" ry="18" transform="rotate(0 845 215)" fill="#2020f4"/>
<ellipse cx="640" cy="570" rx="25" ry="15" transform="rotate(0 640 570)" fill="#2020f4"/>
<ellipse cx="765" cy="560" rx="20" ry="25" transform="rotate(0 765 560)" fill="#2020f4"/>
<ellipse cx="740" cy="585" rx="15" ry="18" transform="rotate(0 740 585)" fill="#2020f4"/>
<ellipse cx="835" cy="600" rx="12" ry="15" transform="rotate(0 835 600)" fill="#2020f4"/>
<ellipse cx="820" cy="650" rx="18" ry="28" transform="rotate(20 820 650)" fill="#2020f4"/>
<ellipse cx="515" cy="615" rx="15" ry="18" transform="rotate(0 515 615)" fill="#2020f4"/>
<ellipse cx="495" cy="695" rx="25" ry="15" transform="rotate(0 495 695)" fill="#2020f4"/>
<ellipse cx="420" cy="670" rx="25" ry="18" transform="rotate(0 420 670)" fill="#2020f4"/>
<ellipse cx="300" cy="720" rx="20" ry="12" transform="rotate(0 300 720)" fill="#2020f4"/>
<ellipse cx="530" cy="750" rx="20" ry="25" transform="rotate(0 530 750)" fill="#2020f4"/>
<ellipse cx="600" cy="750" rx="20" ry="30" transform="rotate(20 600 750)" fill="#2020f4"/>
<ellipse cx="860" cy="775" rx="20" ry="30" transform="rotate(30 860 775)" fill="#2020f4"/>
<ellipse cx="1135" cy="605" rx="12" ry="28" transform="rotate(20 1135 605)" fill="#2020f4"/>
<ellipse cx="1250" cy="612" rx="15" ry="20" transform="rotate(0 1250 612)" fill="#2020f4"/>
<ellipse cx="1545" cy="440" rx="28" ry="12" transform="rotate(-30 1545 440)" fill="#2020f4"/>
<ellipse cx="1395" cy="840" rx="18" ry="22" transform="rotate(0 1395 840)" fill="#2020f4"/>
<ellipse cx="260" cy="800" rx="18" ry="30" transform="rotate(20 260 800)" fill="#2020f4"/>
<ellipse cx="300" cy="830" rx="32" ry="25" transform="rotate(0 300 830)" fill="#2020f4"/>
<ellipse cx="160" cy="795" rx="15" ry="20" transform="rotate(0 160 795)" fill="#2020f4"/>
<ellipse cx="60" cy="900" rx="35" ry="15" transform="rotate(0 60 900)" fill="#2020f4"/>
</g>
<path d="M0,775 C10.0,775.5 41.7,778.0 60,778 C78.3,778.0 99.2,766.3 110,775 C120.8,783.7 121.7,829.2 125,830 C128.3,830.8 117.5,791.7 130,780 C142.5,768.3 185.0,758.3 200,760 C215.0,761.7 214.2,792.5 220,790 C225.8,787.5 225.0,756.7 235,745 C245.0,733.3 262.5,727.5 280,720 C297.5,712.5 323.3,704.2 340,700 C356.7,695.8 372.5,691.7 380,695 C387.5,698.3 378.3,725.8 385,720 C391.7,714.2 405.8,673.3 420,660 C434.2,646.7 455.0,641.7 470,640 C485.0,638.3 501.7,656.7 510,650 C518.3,643.3 511.7,613.3 520,600 C528.3,586.7 550.0,573.3 560,570 C570.0,566.7 573.3,586.7 580,580 C586.7,573.3 588.3,540.0 600,530 C611.7,520.0 639.2,519.2 650,520 C660.8,520.8 665.8,541.7 665,535 C664.2,528.3 639.2,495.0 645,480 C650.8,465.0 686.7,451.7 700,445 C713.3,438.3 721.7,445.8 725,440 C728.3,434.2 714.2,425.0 720,410 C725.8,395.0 748.3,365.0 760,350 C771.7,335.0 779.2,325.8 790,320 C800.8,314.2 823.3,326.7 825,315 C826.7,303.3 797.5,265.8 800,250 C802.5,234.2 828.3,233.3 840,220 C851.7,206.7 859.2,180.0 870,170 C880.8,160.0 903.3,168.3 905,160 C906.7,151.7 880.8,133.3 880,120 C879.2,106.7 892.5,90.8 900,80 C907.5,69.2 924.2,63.3 925,55 C925.8,46.7 909.2,39.2 905,30 C900.8,20.8 900.8,5.0 900,0" fill="none" stroke="#2ad22a" stroke-width="7" stroke-linejoin="round" stroke-linecap="round"/>
<circle cx="1075" cy="465" r="6" fill="#e01818"/>
<circle cx="1540" cy="630" r="14" fill="#e01818"/>
<circle cx="675" cy="790" r="6" fill="#e01818"/>
<circle cx="455" cy="440" r="4" fill="#e01818"/>
<circle cx="1130" cy="680" r="5" fill="#e01818"/>
<path d="M1520,615 L1560,630 L1555,645 L1515,628 Z" fill="#ff2020"/>
<g fill="#2ec82e">
<circle cx="140" cy="140" r="8"/>
<circle cx="150" cy="180" r="6"/>
<circle cx="200" cy="100" r="7"/>
<circle cx="165" cy="75" r="4"/>
<circle cx="55" cy="185" r="4"/>
<circle cx="130" cy="130" r="5"/>
</g>
<rect x="1660.0" y="880.0" width="80.0" height="30.0" fill="#fff"/>
</g>
<text x="798.9" y="352.4" font-size="23.9" fill="#141414" text-anchor="middle">WT</text>
<text x="1278.9" y="353.0" font-size="23.9" fill="#141414" text-anchor="middle">KO-AAV (Zsgreen)</text>
<text x="1750.0" y="352.8" font-size="23.9" fill="#141414" text-anchor="middle">KO-AAV (Nrg4)</text>
<g transform="translate(562,506) scale(0.275172)" clip-path="url(#cEM)">
<rect x="0.0" y="0.0" width="1748.0" height="1363.0" fill="#9b9b9b"/>
<path d="M0,950 L60,930 L150,870 L230,830 L260,790 L400,785 L600,790 L800,790 L880,830 L1000,800 L1100,810 L1150,900 L1180,1000 L1250,1120 L1300,1190 L1400,1200 L1550,1170 L1650,1100 L1720,1000 L1748,950 L1748,1363 L0,1363 Z" fill="#c9c9c9"/>
<path d="M0,0 L480,0 L420,40 L300,110 L150,170 L0,215 Z" fill="#8a8a8a"/>
<path d="M780,0 L1748,0 L1748,250 L1680,300 L1600,380 L1500,440 L1400,480 L1330,490 L1250,480 L1150,440 L1080,400 L1000,330 L950,270 L900,200 L850,120 L790,60 Z" fill="#747474"/>
<g filter="url(#blur2)">
<ellipse cx="1250" cy="150" rx="180" ry="110" transform="rotate(0 1250 150)" fill="#6a6a6a"/>
<ellipse cx="1080" cy="220" rx="60" ry="90" transform="rotate(0 1080 220)" fill="#626262"/>
<ellipse cx="1400" cy="380" rx="80" ry="60" transform="rotate(-30 1400 380)" fill="#6a6a6a"/>
<ellipse cx="1000" cy="100" rx="60" ry="60" transform="rotate(0 1000 100)" fill="#707070"/>
<ellipse cx="1600" cy="100" rx="100" ry="60" transform="rotate(0 1600 100)" fill="#8a8a8a"/>
<ellipse cx="1200" cy="350" rx="100" ry="60" transform="rotate(0 1200 350)" fill="#8c8c8c"/>
</g>
<path d="M0,215 L150,170 L300,110 L420,40 L480,0 L780,0 L790,60 L850,120 L900,200 L950,270 L1000,330 L1080,400 L1150,440 L1250,480 L1330,490 L1400,480 L1500,440 L1600,380 L1680,300 L1748,250 L1748,520 L1700,540 L1620,580 L1550,640 L1450,680 L1350,700 L1250,700 L1150,680 L1050,640 L950,590 L880,540 L840,470 L790,380 L740,300 L700,250 L660,240 L620,260 L560,300 L500,340 L460,390 L440,430 L400,470 L300,500 L200,520 L120,555 L60,560 L0,575 Z" fill="url(#stripes)"/>
<path d="M0,350 L150,335 L300,270 L420,195 L545,140 L560,170 L520,210 L460,250 L440,300 L450,400 L420,420 L300,440 L200,470 L120,540 L90,520 L0,505 Z" fill="#6c6c6c"/>
<path d="M630,10 L660,30 L700,120 L735,250 L715,250 L680,150 L640,60 Z" fill="#1a1a1a"/>
<path d="M420,200 L470,195 L520,210 L580,220 L610,250 L560,245 L500,235 L440,240 Z" fill="#151515"/>
<path d="M1715,0 L1748,0 L1748,80 L1730,60 Z" fill="#111"/>
<g filter="url(#blur2)">
<ellipse cx="300" cy="650" rx="300" ry="70" transform="rotate(0 300 650)" fill="#a8a8a8"/>
<ellipse cx="600" cy="420" rx="120" ry="130" transform="rotate(0 600 420)" fill="#a4a4a4"/>
<ellipse cx="900" cy="710" rx="180" ry="70" transform="rotate(0 900 710)" fill="#858585"/>
</g>
<path d="M1230,1000 L1280,900 L1380,860 L1420,900 L1380,1000 L1400,1060 L1460,960 L1520,980 L1560,1060 L1600,1100 L1560,1160 L1450,1190 L1330,1180 L1250,1100 Z" fill="#8a8a8a"/>
<path d="M1530,820 L1600,720 L1680,710 L1700,800 L1690,950 L1640,1000 L1570,960 L1530,900 Z" fill="#8c8c8c"/>
<path d="M1200,920 L1230,880 L1300,860 L1330,900 L1290,960 L1240,980 Z" fill="#b0b0b0"/>
<rect x="0" y="0" width="1748" height="1316" fill="#888" filter="url(#noise)" opacity="0.45" style="mix-blend-mode:overlay"/>
<clipPath id="ctis1"><path d="M0,0 L1748,0 L1748,950 L1720,1000 L1650,1100 L1550,1170 L1400,1200 L1300,1190 L1250,1120 L1180,1000 L1150,900 L1100,810 L1000,800 L880,830 L800,790 L600,790 L400,785 L260,790 L230,830 L150,870 L60,930 L0,950 Z"/></clipPath>
<rect x="0" y="0" width="1748" height="1316" fill="#888" filter="url(#noise2)" opacity="0.38" clip-path="url(#ctis1)" style="mix-blend-mode:overlay"/>
<rect x="1320.0" y="1218.0" width="408.0" height="30.0" fill="#fff"/>
<rect x="0.0" y="1316.0" width="1748.0" height="60.0" fill="#000"/>
<text x="5.0" y="1331.0" font-size="15" fill="#ddd">S2 4kV 2mm x 1.5k SE 8/10/2021 10:30 50um</text>
<text x="5.0" y="1356.0" font-size="15" fill="#ddd">Hitachi TEM system</text>
<line x1="1330.0" y1="1316.0" x2="1330.0" y2="1324.0" stroke="#ccc" stroke-width="2.5"/>
<line x1="1364.0" y1="1316.0" x2="1364.0" y2="1324.0" stroke="#ccc" stroke-width="2.5"/>
<line x1="1398.0" y1="1316.0" x2="1398.0" y2="1324.0" stroke="#ccc" stroke-width="2.5"/>
<line x1="1432.0" y1="1316.0" x2="1432.0" y2="1324.0" stroke="#ccc" stroke-width="2.5"/>
<line x1="1466.0" y1="1316.0" x2="1466.0" y2="1324.0" stroke="#ccc" stroke-width="2.5"/>
<line x1="1500.0" y1="1316.0" x2="1500.0" y2="1324.0" stroke="#ccc" stroke-width="2.5"/>
<line x1="1534.0" y1="1316.0" x2="1534.0" y2="1324.0" stroke="#ccc" stroke-width="2.5"/>
<line x1="1568.0" y1="1316.0" x2="1568.0" y2="1324.0" stroke="#ccc" stroke-width="2.5"/>
<line x1="1602.0" y1="1316.0" x2="1602.0" y2="1324.0" stroke="#ccc" stroke-width="2.5"/>
<line x1="1636.0" y1="1316.0" x2="1636.0" y2="1324.0" stroke="#ccc" stroke-width="2.5"/>
<line x1="1670.0" y1="1316.0" x2="1670.0" y2="1324.0" stroke="#ccc" stroke-width="2.5"/>
<line x1="1704.0" y1="1316.0" x2="1704.0" y2="1324.0" stroke="#ccc" stroke-width="2.5"/>
</g>
<text x="804.2" y="627.0" font-size="23.9" fill="#141414">IEL</text>
<text x="679.0" y="751.7" font-size="23.9" fill="#141414">Intact EC</text>
<g transform="translate(1054,506) scale(0.274600)" clip-path="url(#cEM)">
<rect x="0.0" y="0.0" width="1748.0" height="1363.0" fill="#cfcfcf"/>
<path d="M0,560 L100,590 L200,600 L300,570 L420,580 L500,520 L600,505 L700,520 L760,500 L870,450 L900,400 L960,410 L1000,460 L1100,470 L1200,460 L1300,470 L1400,480 L1500,490 L1600,510 L1700,520 L1748,520 L1748,1363 L0,1363 Z" fill="#a9a9a9"/>
<g filter="url(#blur2)">
<ellipse cx="580" cy="560" rx="80" ry="30" transform="rotate(0 580 560)" fill="#c8c8c8"/>
<ellipse cx="250" cy="590" rx="60" ry="20" transform="rotate(0 250 590)" fill="#c8c8c8"/>
<ellipse cx="60" cy="590" rx="40" ry="20" transform="rotate(0 60 590)" fill="#c8c8c8"/>
</g>
<path d="M0,640 L150,690 L300,690 L450,650 L600,620 L750,580 L900,570 L1050,550 L1150,560 L1300,560 L1450,580 L1550,620 L1620,700 L1560,820 L1400,790 L1200,760 L1100,740 L1000,720 L850,720 L700,760 L550,800 L450,830 L300,840 L150,870 L0,880 Z" fill="url(#stripes3)"/>
<path d="M0,880 L150,870 L300,840 L450,830 L550,800 L700,760 L850,720 L1000,720 L1100,740 L1200,760 L1400,790 L1560,820 L1620,700 L1748,640 L1748,1363 L0,1363 Z" fill="#808080"/>
<g filter="url(#blur3)">
<ellipse cx="150" cy="1050" rx="190" ry="130" transform="rotate(0 150 1050)" fill="#4e4e4e"/>
<ellipse cx="420" cy="960" rx="90" ry="110" transform="rotate(0 420 960)" fill="#5e5e5e"/>
<ellipse cx="1000" cy="1000" rx="120" ry="250" transform="rotate(0 1000 1000)" fill="#8e8e8e"/>
<ellipse cx="1350" cy="950" rx="120" ry="120" transform="rotate(0 1350 950)" fill="#6c6c6c"/>
<ellipse cx="1650" cy="900" rx="90" ry="200" transform="rotate(0 1650 900)" fill="#9a9a9a"/>
<ellipse cx="700" cy="1100" rx="100" ry="150" transform="rotate(0 700 1100)" fill="#7a7a7a"/>
<ellipse cx="1400" cy="1200" rx="150" ry="80" transform="rotate(0 1400 1200)" fill="#8a8a8a"/>
<ellipse cx="600" cy="900" rx="120" ry="60" transform="rotate(0 600 900)" fill="#6a6a6a"/>
<ellipse cx="1200" cy="1150" rx="80" ry="120" transform="rotate(0 1200 1150)" fill="#707070"/>
</g>
<polyline points="0,270 60,370 150,350 200,200 180,0" fill="none" stroke="#e6e6e6" stroke-width="4" stroke-linejoin="round" stroke-linecap="round"/>
<polyline points="150,350 300,470 360,560" fill="none" stroke="#e6e6e6" stroke-width="4" stroke-linejoin="round" stroke-linecap="round"/>
<polyline points="1050,440 1200,300 1370,130 1390,0" fill="none" stroke="#e6e6e6" stroke-width="4" stroke-linejoin="round" stroke-linecap="round"/>
<polyline points="1370,130 1480,250 1550,350 1748,350" fill="none" stroke="#e6e6e6" stroke-width="4" stroke-linejoin="round" stroke-linecap="round"/>
<polyline points="0,430 90,400 180,360" fill="none" stroke="#e6e6e6" stroke-width="4" stroke-linejoin="round" stroke-linecap="round"/>
<rect x="0" y="0" width="1748" height="1316" fill="#888" filter="url(#noise)" opacity="0.45" style="mix-blend-mode:overlay"/>
<clipPath id="ctis2"><path d="M0,560 L100,590 L200,600 L300,570 L420,580 L500,520 L600,505 L700,520 L760,500 L870,450 L900,400 L960,410 L1000,460 L1100,470 L1200,460 L1300,470 L1400,480 L1500,490 L1600,510 L1700,520 L1748,520 L1748,1363 L0,1363 Z"/></clipPath>
<rect x="0" y="0" width="1748" height="1316" fill="#888" filter="url(#noise2)" opacity="0.38" clip-path="url(#ctis2)" style="mix-blend-mode:overlay"/>
<rect x="1308.0" y="1222.0" width="412.0" height="28.0" fill="#fff"/>
<rect x="0.0" y="1316.0" width="1748.0" height="60.0" fill="#000"/>
<text x="5.0" y="1331.0" font-size="15" fill="#ddd">S2 4kV 2mm x 1.5k SE 8/10/2021 10:30 50um</text>
<text x="5.0" y="1356.0" font-size="15" fill="#ddd">Hitachi TEM system</text>
<line x1="1330.0" y1="1316.0" x2="1330.0" y2="1324.0" stroke="#ccc" stroke-width="2.5"/>
<line x1="1364.0" y1="1316.0" x2="1364.0" y2="1324.0" stroke="#ccc" stroke-width="2.5"/>
<line x1="1398.0" y1="1316.0" x2="1398.0" y2="1324.0" stroke="#ccc" stroke-width="2.5"/>
<line x1="1432.0" y1="1316.0" x2="1432.0" y2="1324.0" stroke="#ccc" stroke-width="2.5"/>
<line x1="1466.0" y1="1316.0" x2="1466.0" y2="1324.0" stroke="#ccc" stroke-width="2.5"/>
<line x1="1500.0" y1="1316.0" x2="1500.0" y2="1324.0" stroke="#ccc" stroke-width="2.5"/>
<line x1="1534.0" y1="1316.0" x2="1534.0" y2="1324.0" stroke="#ccc" stroke-width="2.5"/>
<line x1="1568.0" y1="1316.0" x2="1568.0" y2="1324.0" stroke="#ccc" stroke-width="2.5"/>
<line x1="1602.0" y1="1316.0" x2="1602.0" y2="1324.0" stroke="#ccc" stroke-width="2.5"/>
<line x1="1636.0" y1="1316.0" x2="1636.0" y2="1324.0" stroke="#ccc" stroke-width="2.5"/>
<line x1="1670.0" y1="1316.0" x2="1670.0" y2="1324.0" stroke="#ccc" stroke-width="2.5"/>
<line x1="1704.0" y1="1316.0" x2="1704.0" y2="1324.0" stroke="#ccc" stroke-width="2.5"/>
</g>
<text x="1237.4" y="606.2" font-size="23.9" fill="#141414">EC debris</text>
<text x="1295.0" y="691.9" font-size="23.9" fill="#141414">IEL</text>
<g transform="translate(1543,511) scale(0.270595)" clip-path="url(#cEM)">
<rect x="0.0" y="0.0" width="1748.0" height="1363.0" fill="#c3c3c3"/>
<path d="M0,300 L1748,300 L1748,1100 L1600,1040 L1500,990 L1350,960 L1200,1000 L1100,1010 L950,960 L800,920 L600,940 L420,860 L350,900 L200,940 L100,900 L0,890 Z" fill="#9a9a9a"/>
<path d="M0,0 L570,0 L560,100 L480,150 L300,220 L100,270 L0,300 Z" fill="#606060"/>
<path d="M570,0 L1110,0 L1100,100 L1060,50 L900,70 L700,90 L560,100 Z" fill="#8f8f8f"/>
<path d="M1100,0 L1748,0 L1748,720 L1600,700 L1450,660 L1380,560 L1250,470 L1120,460 L1080,380 Z" fill="#767676"/>
<path d="M1260,30 L1300,100 L1380,60 L1420,160 L1490,140 L1480,300 L1420,400 L1390,470 L1330,420 L1250,400 L1180,430 L1120,420 L1160,320 L1150,230 L1230,160 Z" fill="#3c3c3c"/>
<ellipse cx="1290" cy="200" rx="35" ry="50" transform="rotate(0 1290 200)" fill="#9a9a9a"/>
<ellipse cx="1340" cy="270" rx="25" ry="35" transform="rotate(0 1340 270)" fill="#9a9a9a"/>
<path d="M1580,200 L1700,180 L1748,250 L1748,720 L1650,700 L1590,600 Z" fill="#5a5a5a"/>
<path d="M0,310 L100,290 L200,250 L300,220 L400,180 L500,150 L600,110 L700,90 L800,70 L900,70 L1000,60 L1060,50 L1050,120 L1010,160 L1000,220 L1040,270 L1080,330 L1110,380 L1080,380 L1000,340 L900,320 L800,310 L700,320 L620,360 L550,400 L450,420 L400,440 L300,460 L200,470 L100,490 L0,500 Z" fill="url(#stripes2)"/>
<path d="M1100,560 L1150,500 L1250,460 L1400,500 L1450,600 L1470,680 L1600,720 L1748,700 L1748,870 L1600,830 L1450,780 L1400,700 L1380,640 L1300,590 L1200,580 L1100,600 Z" fill="url(#stripes2)"/>
<path d="M1380,0 L1748,0 L1748,200 L1700,150 L1600,60 L1500,30 Z" fill="#e0e0e0"/>
<path d="M400,830 L450,790 L600,780 L750,790 L880,820 L900,870 L820,920 L700,950 L560,960 L450,930 L400,880 Z" fill="#7c7c7c"/>
<path d="M920,830 L1000,800 L1120,800 L1250,840 L1330,900 L1300,960 L1200,990 L1050,990 L950,960 L920,900 Z" fill="#666"/>
<ellipse cx="820" cy="620" rx="95" ry="125" fill="#858585" stroke="#5a5a5a" stroke-width="10"/>
<ellipse cx="1080" cy="870" rx="40" ry="25" transform="rotate(0 1080 870)" fill="#3a3a3a"/>
<g filter="url(#blur2)">
<ellipse cx="300" cy="700" rx="250" ry="120" transform="rotate(-20 300 700)" fill="#a2a2a2"/>
<ellipse cx="60" cy="560" rx="60" ry="50" transform="rotate(0 60 560)" fill="#808080"/>
</g>
<rect x="0" y="0" width="1748" height="1316" fill="#888" filter="url(#noise)" opacity="0.45" style="mix-blend-mode:overlay"/>
<clipPath id="ctis3"><path d="M0,0 L1748,0 L1748,1100 L1600,1040 L1500,990 L1350,960 L1200,1000 L1100,1010 L950,960 L800,920 L600,940 L420,860 L350,900 L200,940 L100,900 L0,890 Z"/></clipPath>
<rect x="0" y="0" width="1748" height="1316" fill="#888" filter="url(#noise2)" opacity="0.38" clip-path="url(#ctis3)" style="mix-blend-mode:overlay"/>
<rect x="1305.0" y="1222.0" width="417.0" height="28.0" fill="#fff"/>
<rect x="0.0" y="1316.0" width="1748.0" height="60.0" fill="#000"/>
<text x="5.0" y="1331.0" font-size="15" fill="#ddd">S2 4kV 2mm x 1.5k SE 8/10/2021 10:30 50um</text>
<text x="5.0" y="1356.0" font-size="15" fill="#ddd">Hitachi TEM system</text>
<line x1="1330.0" y1="1316.0" x2="1330.0" y2="1324.0" stroke="#ccc" stroke-width="2.5"/>
<line x1="1364.0" y1="1316.0" x2="1364.0" y2="1324.0" stroke="#ccc" stroke-width="2.5"/>
<line x1="1398.0" y1="1316.0" x2="1398.0" y2="1324.0" stroke="#ccc" stroke-width="2.5"/>
<line x1="1432.0" y1="1316.0" x2="1432.0" y2="1324.0" stroke="#ccc" stroke-width="2.5"/>
<line x1="1466.0" y1="1316.0" x2="1466.0" y2="1324.0" stroke="#ccc" stroke-width="2.5"/>
<line x1="1500.0" y1="1316.0" x2="1500.0" y2="1324.0" stroke="#ccc" stroke-width="2.5"/>
<line x1="1534.0" y1="1316.0" x2="1534.0" y2="1324.0" stroke="#ccc" stroke-width="2.5"/>
<line x1="1568.0" y1="1316.0" x2="1568.0" y2="1324.0" stroke="#ccc" stroke-width="2.5"/>
<line x1="1602.0" y1="1316.0" x2="1602.0" y2="1324.0" stroke="#ccc" stroke-width="2.5"/>
<line x1="1636.0" y1="1316.0" x2="1636.0" y2="1324.0" stroke="#ccc" stroke-width="2.5"/>
<line x1="1670.0" y1="1316.0" x2="1670.0" y2="1324.0" stroke="#ccc" stroke-width="2.5"/>
<line x1="1704.0" y1="1316.0" x2="1704.0" y2="1324.0" stroke="#ccc" stroke-width="2.5"/>
</g>
<text x="1685.0" y="593.0" font-size="23.9" fill="#141414">IEL</text>
<text x="1655.3" y="807.8" font-size="23.9" fill="#141414">Intact EC</text>
<text x="798.6" y="914.5" font-size="23.9" fill="#141414" text-anchor="middle">WT</text>
<text x="1278.0" y="914.0" font-size="23.9" fill="#141414" text-anchor="middle">KO-AAV (Zsgreen)</text>
<text x="1749.6" y="913.6" font-size="23.9" fill="#141414" text-anchor="middle">KO-AAV (Nrg4)</text>
</svg>
</body></html>
